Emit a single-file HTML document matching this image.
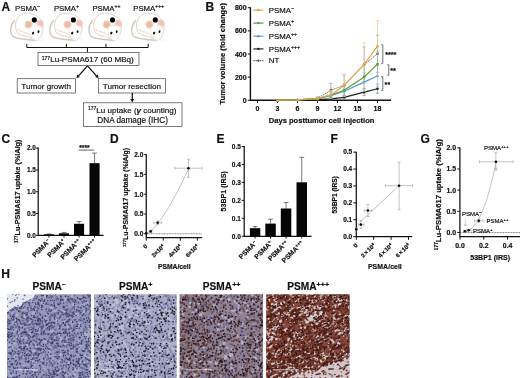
<!DOCTYPE html>
<html><head><meta charset="utf-8"><title>Figure</title>
<style>
html,body{margin:0;padding:0;background:#fff;}
body{width:520px;height:378px;overflow:hidden;}
svg{display:block;font-family:'Liberation Sans', sans-serif;will-change:transform;opacity:0.999;}
text{fill:#111;stroke:#111;stroke-width:0.18px;}
.b{font-weight:bold;}
.pl{font-weight:bold;}
.tk{font-weight:bold;}
.ax{font-weight:bold;}
</style></head><body>
<svg width="520" height="378" viewBox="0 0 520 378">
<rect width="520" height="378" fill="#fff"/>

<g id="panelA">
<text class="pl" x="1.5" y="10.6" font-size="12">A</text>
<g transform="translate(0,0)"><path d="M14.6,20.6 C10.2,24.5 9.4,32.5 13,36.6 C16.5,39.6 26,39 36,40.7" fill="none" stroke="#d3c4b8" stroke-width="1.35" stroke-linecap="round"/><path d="M16.4,31 C13.2,21.5 19,12.9 26.5,13 C33.5,13.1 39.6,16.6 42.2,22 C44,27 43,33 40,37 C36,39.4 31,38 27,36.4 C21.5,35.4 18,34.6 16.4,31 Z" fill="#fff" stroke="#e2d3c6" stroke-width="1"/><path d="M17.5,29.4 C20.5,31.6 25,32 28,33.6 C30,35 31.5,36.6 32.5,38" fill="none" stroke="#e6d3c3" stroke-width="0.9"/><circle cx="28.5" cy="24.6" r="3.5" fill="#efb9a4" stroke="#ecd6c6" stroke-width="1.1"/><ellipse cx="40.1" cy="23.6" rx="3.1" ry="3.5" fill="#f1c3b0" stroke="#ead6c8" stroke-width="1.1"/><path d="M30,27.8 C32.5,25.2 38.5,24.6 41.6,27 C43,30.5 41.6,36 37.8,40.4 C36.8,41 35.4,40.8 34.8,40 C31,37 29,31.8 30,27.8 Z" fill="#fff" stroke="#efe6de" stroke-width="0.8"/><path d="M37.6,39.4 L43.5,36.6 M37.6,40 L44.5,40 M34.6,39.6 L29.5,38.6 M34.8,40.4 L30.5,41.4" stroke="#d6d6d6" stroke-width="0.4" fill="none"/><ellipse cx="33.1" cy="33.1" rx="1.1" ry="1.45" fill="#111" transform="rotate(25 33.1 33.1)"/><ellipse cx="38.5" cy="31.6" rx="0.95" ry="1.4" fill="#111" transform="rotate(10 38.5 31.6)"/><circle cx="34.3" cy="19.9" r="2.55" fill="#000"/></g>
<text x="15.0" y="10.6" font-size="7.8">PSMA<tspan dy="-2.7" font-size="5.2">−</tspan></text>
<g transform="translate(39.1,0)"><path d="M14.6,20.6 C10.2,24.5 9.4,32.5 13,36.6 C16.5,39.6 26,39 36,40.7" fill="none" stroke="#d3c4b8" stroke-width="1.35" stroke-linecap="round"/><path d="M16.4,31 C13.2,21.5 19,12.9 26.5,13 C33.5,13.1 39.6,16.6 42.2,22 C44,27 43,33 40,37 C36,39.4 31,38 27,36.4 C21.5,35.4 18,34.6 16.4,31 Z" fill="#fff" stroke="#e2d3c6" stroke-width="1"/><path d="M17.5,29.4 C20.5,31.6 25,32 28,33.6 C30,35 31.5,36.6 32.5,38" fill="none" stroke="#e6d3c3" stroke-width="0.9"/><circle cx="28.5" cy="24.6" r="3.5" fill="#efb9a4" stroke="#ecd6c6" stroke-width="1.1"/><ellipse cx="40.1" cy="23.6" rx="3.1" ry="3.5" fill="#f1c3b0" stroke="#ead6c8" stroke-width="1.1"/><path d="M30,27.8 C32.5,25.2 38.5,24.6 41.6,27 C43,30.5 41.6,36 37.8,40.4 C36.8,41 35.4,40.8 34.8,40 C31,37 29,31.8 30,27.8 Z" fill="#fff" stroke="#efe6de" stroke-width="0.8"/><path d="M37.6,39.4 L43.5,36.6 M37.6,40 L44.5,40 M34.6,39.6 L29.5,38.6 M34.8,40.4 L30.5,41.4" stroke="#d6d6d6" stroke-width="0.4" fill="none"/><ellipse cx="33.1" cy="33.1" rx="1.1" ry="1.45" fill="#111" transform="rotate(25 33.1 33.1)"/><ellipse cx="38.5" cy="31.6" rx="0.95" ry="1.4" fill="#111" transform="rotate(10 38.5 31.6)"/><circle cx="34.3" cy="19.9" r="2.55" fill="#000"/></g>
<text x="53.9" y="10.6" font-size="7.8">PSMA<tspan dy="-2.7" font-size="5.2">+</tspan></text>
<g transform="translate(78.2,0)"><path d="M14.6,20.6 C10.2,24.5 9.4,32.5 13,36.6 C16.5,39.6 26,39 36,40.7" fill="none" stroke="#d3c4b8" stroke-width="1.35" stroke-linecap="round"/><path d="M16.4,31 C13.2,21.5 19,12.9 26.5,13 C33.5,13.1 39.6,16.6 42.2,22 C44,27 43,33 40,37 C36,39.4 31,38 27,36.4 C21.5,35.4 18,34.6 16.4,31 Z" fill="#fff" stroke="#e2d3c6" stroke-width="1"/><path d="M17.5,29.4 C20.5,31.6 25,32 28,33.6 C30,35 31.5,36.6 32.5,38" fill="none" stroke="#e6d3c3" stroke-width="0.9"/><circle cx="28.5" cy="24.6" r="3.5" fill="#efb9a4" stroke="#ecd6c6" stroke-width="1.1"/><ellipse cx="40.1" cy="23.6" rx="3.1" ry="3.5" fill="#f1c3b0" stroke="#ead6c8" stroke-width="1.1"/><path d="M30,27.8 C32.5,25.2 38.5,24.6 41.6,27 C43,30.5 41.6,36 37.8,40.4 C36.8,41 35.4,40.8 34.8,40 C31,37 29,31.8 30,27.8 Z" fill="#fff" stroke="#efe6de" stroke-width="0.8"/><path d="M37.6,39.4 L43.5,36.6 M37.6,40 L44.5,40 M34.6,39.6 L29.5,38.6 M34.8,40.4 L30.5,41.4" stroke="#d6d6d6" stroke-width="0.4" fill="none"/><ellipse cx="33.1" cy="33.1" rx="1.1" ry="1.45" fill="#111" transform="rotate(25 33.1 33.1)"/><ellipse cx="38.5" cy="31.6" rx="0.95" ry="1.4" fill="#111" transform="rotate(10 38.5 31.6)"/><circle cx="34.3" cy="19.9" r="2.55" fill="#000"/></g>
<text x="92.4" y="10.6" font-size="7.8">PSMA<tspan dy="-2.7" font-size="5.2">++</tspan></text>
<g transform="translate(121.0,0)"><path d="M14.6,20.6 C10.2,24.5 9.4,32.5 13,36.6 C16.5,39.6 26,39 36,40.7" fill="none" stroke="#d3c4b8" stroke-width="1.35" stroke-linecap="round"/><path d="M16.4,31 C13.2,21.5 19,12.9 26.5,13 C33.5,13.1 39.6,16.6 42.2,22 C44,27 43,33 40,37 C36,39.4 31,38 27,36.4 C21.5,35.4 18,34.6 16.4,31 Z" fill="#fff" stroke="#e2d3c6" stroke-width="1"/><path d="M17.5,29.4 C20.5,31.6 25,32 28,33.6 C30,35 31.5,36.6 32.5,38" fill="none" stroke="#e6d3c3" stroke-width="0.9"/><circle cx="28.5" cy="24.6" r="3.5" fill="#efb9a4" stroke="#ecd6c6" stroke-width="1.1"/><ellipse cx="40.1" cy="23.6" rx="3.1" ry="3.5" fill="#f1c3b0" stroke="#ead6c8" stroke-width="1.1"/><path d="M30,27.8 C32.5,25.2 38.5,24.6 41.6,27 C43,30.5 41.6,36 37.8,40.4 C36.8,41 35.4,40.8 34.8,40 C31,37 29,31.8 30,27.8 Z" fill="#fff" stroke="#efe6de" stroke-width="0.8"/><path d="M37.6,39.4 L43.5,36.6 M37.6,40 L44.5,40 M34.6,39.6 L29.5,38.6 M34.8,40.4 L30.5,41.4" stroke="#d6d6d6" stroke-width="0.4" fill="none"/><ellipse cx="33.1" cy="33.1" rx="1.1" ry="1.45" fill="#111" transform="rotate(25 33.1 33.1)"/><ellipse cx="38.5" cy="31.6" rx="0.95" ry="1.4" fill="#111" transform="rotate(10 38.5 31.6)"/><circle cx="34.3" cy="19.9" r="2.55" fill="#000"/></g>
<text x="133.2" y="10.6" font-size="7.8">PSMA<tspan dy="-2.7" font-size="5.2">+++</tspan></text>
<path d="M26.8,43.8 V47.5 H148.2 V43.8 M66.4,43.8 V47.5 M106,43.8 V47.5 M87.4,47.5 V52.5" fill="none" stroke="#111" stroke-width="1"/>
<rect x="38" y="52.5" width="101.0" height="13.099999999999994" fill="#fff" stroke="#444" stroke-width="0.7"/>
<text x="41.8" y="62.3" font-size="8.1"><tspan dy="-2.8" font-size="5">177</tspan><tspan dy="2.8">Lu-PSMA617 (60 MBq)</tspan></text>
<path d="M87.50,65.80 L78.53,75.82" stroke="#111" stroke-width="1.25" fill="none"/>
<path d="M76.40,78.20 L77.19,74.62 L79.88,77.02 Z" fill="#111"/>
<path d="M87.50,65.80 L96.47,75.82" stroke="#111" stroke-width="1.25" fill="none"/>
<path d="M98.60,78.20 L95.12,77.02 L97.81,74.62 Z" fill="#111"/>
<rect x="17.2" y="78.7" width="58.39999999999999" height="14.299999999999997" fill="#fff" stroke="#444" stroke-width="0.7"/>
<text x="21.3" y="88.8" font-size="8.1">Tumor growth</text>
<rect x="98.6" y="78.7" width="66.9" height="14.299999999999997" fill="#fff" stroke="#444" stroke-width="0.7"/>
<text x="102.8" y="88.8" font-size="8.1">Tumor resection</text>
<path d="M132.30,93.00 L132.30,99.00" stroke="#111" stroke-width="1.25" fill="none"/>
<path d="M132.30,102.40 L130.40,99.00 L134.20,99.00 Z" fill="#111"/>
<rect x="83.6" y="102.8" width="98.4" height="23.60000000000001" fill="#fff" stroke="#444" stroke-width="0.7"/>
<text x="88" y="112.6" font-size="8.05"><tspan dy="-2.8" font-size="5">177</tspan><tspan dy="2.8">Lu uptake (</tspan><tspan font-style="italic" font-weight="bold">γ</tspan> counting)</text>
<text x="132.6" y="123" font-size="8.2" text-anchor="middle">DNA damage (IHC)</text>
</g>
<g id="panelB">
<text class="pl" x="205.5" y="10.6" font-size="12">B</text>
<path d="M250.4,7.2 V100.3 H391" fill="none" stroke="#111" stroke-width="1.4"/>
<path d="M247.8,100.30 H250.4" stroke="#111" stroke-width="1"/>
<text class="tk" x="246.6" y="102.80" text-anchor="end" font-size="7">0</text>
<path d="M247.8,77.15 H250.4" stroke="#111" stroke-width="1"/>
<text class="tk" x="246.6" y="79.65" text-anchor="end" font-size="7">200</text>
<path d="M247.8,54.00 H250.4" stroke="#111" stroke-width="1"/>
<text class="tk" x="246.6" y="56.50" text-anchor="end" font-size="7">400</text>
<path d="M247.8,30.85 H250.4" stroke="#111" stroke-width="1"/>
<text class="tk" x="246.6" y="33.35" text-anchor="end" font-size="7">600</text>
<path d="M247.8,7.70 H250.4" stroke="#111" stroke-width="1"/>
<text class="tk" x="246.6" y="10.20" text-anchor="end" font-size="7">800</text>
<path d="M257.50,100.3 V103.1" stroke="#111" stroke-width="1"/>
<text class="tk" x="257.50" y="111.2" text-anchor="middle" font-size="7">0</text>
<path d="M277.50,100.3 V103.1" stroke="#111" stroke-width="1"/>
<text class="tk" x="277.50" y="111.2" text-anchor="middle" font-size="7">3</text>
<path d="M297.50,100.3 V103.1" stroke="#111" stroke-width="1"/>
<text class="tk" x="297.50" y="111.2" text-anchor="middle" font-size="7">6</text>
<path d="M317.50,100.3 V103.1" stroke="#111" stroke-width="1"/>
<text class="tk" x="317.50" y="111.2" text-anchor="middle" font-size="7">9</text>
<path d="M337.50,100.3 V103.1" stroke="#111" stroke-width="1"/>
<text class="tk" x="337.50" y="111.2" text-anchor="middle" font-size="7">12</text>
<path d="M357.50,100.3 V103.1" stroke="#111" stroke-width="1"/>
<text class="tk" x="357.50" y="111.2" text-anchor="middle" font-size="7">15</text>
<path d="M377.51,100.3 V103.1" stroke="#111" stroke-width="1"/>
<text class="tk" x="377.51" y="111.2" text-anchor="middle" font-size="7">18</text>
<text class="ax" x="321.6" y="123" text-anchor="middle" font-size="7.58">Days posttumor cell injection</text>
<text class="ax" transform="translate(225.4,53.8) rotate(-90)" text-anchor="middle" font-size="7.6">Tumor volume (fold change)</text>
<path d="M317.50,96.83 V99.61 M315.90,96.83 H319.10 M315.90,99.61 H319.10 M330.84,83.40 V97.29 M329.24,83.40 H332.44 M329.24,97.29 H332.44 M344.17,74.83 V95.67 M342.57,74.83 H345.77 M342.57,95.67 H345.77 M364.17,47.05 V81.78 M362.57,47.05 H365.77 M362.57,81.78 H365.77 M377.51,35.25 V72.29 M375.91,35.25 H379.11 M375.91,72.29 H379.11 " fill="none" stroke="#9a9a9a" stroke-width="0.7"/>
<polyline points="277.50,100.18 297.50,99.95 317.50,98.22 330.84,90.35 344.17,85.25 364.17,64.42 377.51,53.77" fill="none" stroke="#555555" stroke-width="1.0" stroke-dasharray="1.2,1"/>
<circle cx="277.50" cy="100.18" r="1.3" fill="#555555"/>
<circle cx="297.50" cy="99.95" r="1.3" fill="#555555"/>
<circle cx="317.50" cy="98.22" r="1.3" fill="#555555"/>
<circle cx="330.84" cy="90.35" r="1.3" fill="#555555"/>
<circle cx="344.17" cy="85.25" r="1.3" fill="#555555"/>
<circle cx="364.17" cy="64.42" r="1.3" fill="#555555"/>
<circle cx="377.51" cy="53.77" r="1.3" fill="#555555"/>
<path d="M330.84,97.98 V99.84 M329.24,97.98 H332.44 M329.24,99.84 H332.44 M344.17,95.67 V98.91 M342.57,95.67 H345.77 M342.57,98.91 H345.77 M364.17,88.72 V95.67 M362.57,88.72 H365.77 M362.57,95.67 H365.77 M377.51,84.09 V93.36 M375.91,84.09 H379.11 M375.91,93.36 H379.11 " fill="none" stroke="#8a8a8a" stroke-width="0.7"/>
<polyline points="277.50,100.18 297.50,100.07 317.50,99.61 330.84,98.91 344.17,97.29 364.17,92.20 377.51,88.72" fill="none" stroke="#222222" stroke-width="1.2"/>
<circle cx="277.50" cy="100.18" r="1.3" fill="#222222"/>
<circle cx="297.50" cy="100.07" r="1.3" fill="#222222"/>
<circle cx="317.50" cy="99.61" r="1.3" fill="#222222"/>
<circle cx="330.84" cy="98.91" r="1.3" fill="#222222"/>
<circle cx="344.17" cy="97.29" r="1.3" fill="#222222"/>
<circle cx="364.17" cy="92.20" r="1.3" fill="#222222"/>
<circle cx="377.51" cy="88.72" r="1.3" fill="#222222"/>
<path d="M317.50,97.98 V99.84 M315.90,97.98 H319.10 M315.90,99.84 H319.10 M330.84,92.78 V98.56 M329.24,92.78 H332.44 M329.24,98.56 H332.44 M344.17,86.06 V96.48 M342.57,86.06 H345.77 M342.57,96.48 H345.77 M364.17,72.87 V91.39 M362.57,72.87 H365.77 M362.57,91.39 H365.77 M377.51,65.58 V86.41 M375.91,65.58 H379.11 M375.91,86.41 H379.11 " fill="none" stroke="#9cc3e6" stroke-width="0.7"/>
<polyline points="277.50,100.18 297.50,99.95 317.50,98.91 330.84,95.67 344.17,91.27 364.17,82.13 377.51,75.99" fill="none" stroke="#5b9bd5" stroke-width="1.2"/>
<circle cx="277.50" cy="100.18" r="1.3" fill="#5b9bd5"/>
<circle cx="297.50" cy="99.95" r="1.3" fill="#5b9bd5"/>
<circle cx="317.50" cy="98.91" r="1.3" fill="#5b9bd5"/>
<circle cx="330.84" cy="95.67" r="1.3" fill="#5b9bd5"/>
<circle cx="344.17" cy="91.27" r="1.3" fill="#5b9bd5"/>
<circle cx="364.17" cy="82.13" r="1.3" fill="#5b9bd5"/>
<circle cx="377.51" cy="75.99" r="1.3" fill="#5b9bd5"/>
<path d="M317.50,97.75 V99.61 M315.90,97.75 H319.10 M315.90,99.61 H319.10 M330.84,91.50 V98.45 M329.24,91.50 H332.44 M329.24,98.45 H332.44 M344.17,83.86 V96.60 M342.57,83.86 H345.77 M342.57,96.60 H345.77 M364.17,65.34 V88.49 M362.57,65.34 H365.77 M362.57,88.49 H365.77 M377.51,51.34 V76.80 M375.91,51.34 H379.11 M375.91,76.80 H379.11 " fill="none" stroke="#9cc47f" stroke-width="0.7"/>
<polyline points="277.50,100.18 297.50,99.95 317.50,98.68 330.84,94.98 344.17,90.23 364.17,76.92 377.51,64.07" fill="none" stroke="#5a9e2f" stroke-width="1.2"/>
<circle cx="277.50" cy="100.18" r="1.3" fill="#5a9e2f"/>
<circle cx="297.50" cy="99.95" r="1.3" fill="#5a9e2f"/>
<circle cx="317.50" cy="98.68" r="1.3" fill="#5a9e2f"/>
<circle cx="330.84" cy="94.98" r="1.3" fill="#5a9e2f"/>
<circle cx="344.17" cy="90.23" r="1.3" fill="#5a9e2f"/>
<circle cx="364.17" cy="76.92" r="1.3" fill="#5a9e2f"/>
<circle cx="377.51" cy="64.07" r="1.3" fill="#5a9e2f"/>
<path d="M317.50,97.29 V98.45 M315.90,97.29 H319.10 M330.84,90.35 V94.98 M329.24,90.35 H332.44 M344.17,74.14 V85.25 M342.57,74.14 H345.77 M364.17,42.77 V64.30 M362.57,42.77 H365.77 M377.51,20.66 V46.24 M375.91,20.66 H379.11 " fill="none" stroke="#efc48f" stroke-width="0.7"/>
<polyline points="277.50,100.18 297.50,99.95 317.50,98.45 330.84,94.98 344.17,85.25 364.17,64.30 377.51,46.24" fill="none" stroke="#e8a04c" stroke-width="1.2"/>
<circle cx="277.50" cy="100.18" r="1.3" fill="#e8a04c"/>
<circle cx="297.50" cy="99.95" r="1.3" fill="#e8a04c"/>
<circle cx="317.50" cy="98.45" r="1.3" fill="#e8a04c"/>
<circle cx="330.84" cy="94.98" r="1.3" fill="#e8a04c"/>
<circle cx="344.17" cy="85.25" r="1.3" fill="#e8a04c"/>
<circle cx="364.17" cy="64.30" r="1.3" fill="#e8a04c"/>
<circle cx="377.51" cy="46.24" r="1.3" fill="#e8a04c"/>
<path d="M253.4,10.10 H263.4" stroke="#e8a04c" stroke-width="1.2"/>
<circle cx="258.4" cy="10.10" r="1.2" fill="#e8a04c"/>
<text x="268.8" y="12.80" font-size="7.8">PSMA<tspan dy="-2.7" font-size="5.2">−</tspan></text>
<path d="M253.4,23.10 H263.4" stroke="#5a9e2f" stroke-width="1.2"/>
<circle cx="258.4" cy="23.10" r="1.2" fill="#5a9e2f"/>
<text x="268.8" y="25.80" font-size="7.8">PSMA<tspan dy="-2.7" font-size="5.2">+</tspan></text>
<path d="M253.4,36.20 H263.4" stroke="#5b9bd5" stroke-width="1.2"/>
<circle cx="258.4" cy="36.20" r="1.2" fill="#5b9bd5"/>
<text x="268.8" y="38.90" font-size="7.8">PSMA<tspan dy="-2.7" font-size="5.2">++</tspan></text>
<path d="M253.4,48.90 H263.4" stroke="#222" stroke-width="1.2"/>
<circle cx="258.4" cy="48.90" r="1.2" fill="#222"/>
<text x="268.8" y="51.60" font-size="7.8">PSMA<tspan dy="-2.7" font-size="5.2">+++</tspan></text>
<path d="M253.4,60.60 H263.4" stroke="#555" stroke-width="1.2" stroke-dasharray="1.2,1"/>
<circle cx="258.4" cy="60.60" r="1.2" fill="#555"/>
<text x="268.8" y="63.30" font-size="7.8">NT</text>
<path d="M381.2,44.80 H382.8 V63.40 H381.2" fill="none" stroke="#333" stroke-width="0.7"/>
<text class="b" x="385.2" y="56.60" font-size="7.2">****</text>
<path d="M387.2,64.80 H388.8 V75.20 H387.2" fill="none" stroke="#333" stroke-width="0.7"/>
<text class="b" x="390.2" y="73.40" font-size="7.2">**</text>
<path d="M381.2,76.60 H382.8 V90.40 H381.2" fill="none" stroke="#333" stroke-width="0.7"/>
<text class="b" x="384.6" y="86.90" font-size="7.2">**</text>
</g>
<g id="panelC">
<text class="pl" x="1.6" y="142.6" font-size="12">C</text>
<path d="M38.2,147.60 V235.3 H103.6" fill="none" stroke="#111" stroke-width="1.25"/>
<path d="M36.10,235.30 H38.2" stroke="#111" stroke-width="1.0"/>
<text class="tk" x="35.80" y="237.60" text-anchor="end" font-size="6.4">0.0</text>
<path d="M36.10,213.50 H38.2" stroke="#111" stroke-width="1.0"/>
<text class="tk" x="35.80" y="215.80" text-anchor="end" font-size="6.4">0.5</text>
<path d="M36.10,191.70 H38.2" stroke="#111" stroke-width="1.0"/>
<text class="tk" x="35.80" y="194.00" text-anchor="end" font-size="6.4">1.0</text>
<path d="M36.10,169.90 H38.2" stroke="#111" stroke-width="1.0"/>
<text class="tk" x="35.80" y="172.20" text-anchor="end" font-size="6.4">1.5</text>
<path d="M36.10,148.10 H38.2" stroke="#111" stroke-width="1.0"/>
<text class="tk" x="35.80" y="150.40" text-anchor="end" font-size="6.4">2.0</text>
<path d="M48.90,234.30 V233.95 M46.50,233.95 H51.30" stroke="#333" stroke-width="0.65" fill="none"/>
<rect x="43.9" y="234.30" width="10.00" height="1.30" fill="#060606"/>
<path d="M48.90,235.3 v2.3" stroke="#111" stroke-width="1.0"/>
<path d="M64.00,233.29 V232.42 M61.60,232.42 H66.40" stroke="#333" stroke-width="0.65" fill="none"/>
<rect x="59" y="233.29" width="10.00" height="2.31" fill="#060606"/>
<path d="M64.00,235.3 v2.3" stroke="#111" stroke-width="1.0"/>
<path d="M79.05,223.79 V221.61 M76.65,221.61 H81.45" stroke="#333" stroke-width="0.65" fill="none"/>
<rect x="74" y="223.79" width="10.10" height="11.81" fill="#060606"/>
<path d="M79.05,235.3 v2.3" stroke="#111" stroke-width="1.0"/>
<path d="M94.55,163.19 V153.07 M92.15,153.07 H96.95" stroke="#333" stroke-width="0.65" fill="none"/>
<rect x="89.5" y="163.19" width="10.10" height="72.41" fill="#060606"/>
<path d="M94.55,235.3 v2.3" stroke="#111" stroke-width="1.0"/>
<text class="tk" transform="translate(50.70,242.00) rotate(-45)" text-anchor="end" font-size="6.8">PSMA<tspan dy="-2.2" font-size="4.6">−</tspan></text>
<text class="tk" transform="translate(65.80,242.00) rotate(-45)" text-anchor="end" font-size="6.8">PSMA<tspan dy="-2.2" font-size="4.6">+</tspan></text>
<text class="tk" transform="translate(80.85,242.00) rotate(-45)" text-anchor="end" font-size="6.8">PSMA<tspan dy="-2.2" font-size="4.6">++</tspan></text>
<text class="tk" transform="translate(96.35,242.00) rotate(-45)" text-anchor="end" font-size="6.8">PSMA<tspan dy="-2.2" font-size="4.6">+++</tspan></text>
<path d="M78.5,150.1 H94.2" stroke="#333" stroke-width="0.75"/>
<text class="b" x="84.4" y="150.4" text-anchor="middle" font-size="6.5">****</text>
<text class="ax" transform="translate(20.2,191.3) rotate(-90)" text-anchor="middle" font-size="7.2"><tspan dy="-2.59" font-size="4.46">177</tspan><tspan dy="2.59">Lu-PSMA617 uptake (%IA/g)</tspan></text>
</g>
<g id="panelD">
<text class="pl" x="110" y="142.8" font-size="12">D</text>
<path d="M146.25,233.8 H202.2" stroke="#8c8c8c" stroke-width="1.05" stroke-dasharray="1.1,0.5"/>
<path d="M146.25,154.10 V237.7 H202.2" fill="none" stroke="#111" stroke-width="1.25"/>
<path d="M144.15,233.80 H146.25" stroke="#111" stroke-width="1.0"/>
<text class="tk" x="143.35" y="236.18" text-anchor="end" font-size="6.6">0.0</text>
<path d="M144.15,214.00 H146.25" stroke="#111" stroke-width="1.0"/>
<text class="tk" x="143.35" y="216.38" text-anchor="end" font-size="6.6">0.5</text>
<path d="M144.15,194.20 H146.25" stroke="#111" stroke-width="1.0"/>
<text class="tk" x="143.35" y="196.58" text-anchor="end" font-size="6.6">1.0</text>
<path d="M144.15,174.40 H146.25" stroke="#111" stroke-width="1.0"/>
<text class="tk" x="143.35" y="176.78" text-anchor="end" font-size="6.6">1.5</text>
<path d="M144.15,154.60 H146.25" stroke="#111" stroke-width="1.0"/>
<text class="tk" x="143.35" y="156.98" text-anchor="end" font-size="6.6">2.0</text>
<path d="M146.25,237.7 v3" stroke="#111" stroke-width="1.0"/>
<path d="M163.27,237.7 v3" stroke="#111" stroke-width="1.0"/>
<path d="M180.29,237.7 v3" stroke="#111" stroke-width="1.0"/>
<path d="M197.31,237.7 v3" stroke="#111" stroke-width="1.0"/>
<text class="tk" transform="translate(147.85,246.80) rotate(-45)" text-anchor="end" font-size="5.9">0</text>
<text class="tk" transform="translate(164.87,246.80) rotate(-45)" text-anchor="end" font-size="5.9">2×10<tspan dy="-1.9" font-size="3.9">4</tspan></text>
<text class="tk" transform="translate(181.89,246.80) rotate(-45)" text-anchor="end" font-size="5.9">4×10<tspan dy="-1.9" font-size="3.9">4</tspan></text>
<text class="tk" transform="translate(198.91,246.80) rotate(-45)" text-anchor="end" font-size="5.9">6×10<tspan dy="-1.9" font-size="3.9">4</tspan></text>
<polyline points="146.25,233.21 147.31,232.90 148.36,232.36 149.42,231.69 150.48,230.91 151.54,230.03 152.59,229.07 153.65,228.03 154.71,226.93 155.77,225.76 156.82,224.53 157.88,223.24 158.94,221.90 160.00,220.51 161.05,219.07 162.11,217.58 163.17,216.05 164.23,214.47 165.28,212.85 166.34,211.19 167.40,209.49 168.45,207.75 169.51,205.98 170.57,204.16 171.63,202.31 172.68,200.43 173.74,198.51 174.80,196.56 175.86,194.58 176.91,192.56 177.97,190.51 179.03,188.43 180.09,186.32 181.14,184.18 182.20,182.02 183.26,179.82 184.32,177.59 185.37,175.34 186.43,173.06 187.49,170.75 188.54,168.41" fill="none" stroke="#9e9e9e" stroke-width="0.65"/>
<circle cx="146.25" cy="233.20" r="1.3" fill="#0a0a0a"/>
<path d="M149.40,231.40 H152.00 M149.40,229.90 v3.0 M152.00,229.90 v3.0 " fill="none" stroke="#9a9a9a" stroke-width="0.6"/>
<circle cx="150.70" cy="231.40" r="1.3" fill="#0a0a0a"/>
<path d="M153.70,222.80 H161.70 M153.70,221.30 v3.0 M161.70,221.30 v3.0 M157.70,221.00 V224.60 M156.20,221.00 h3.0 M156.20,224.60 h3.0 " fill="none" stroke="#9a9a9a" stroke-width="0.6"/>
<circle cx="157.70" cy="222.80" r="1.3" fill="#0a0a0a"/>
<path d="M174.80,168.20 H202.00 M174.80,166.70 v3.0 M202.00,166.70 v3.0 M188.50,159.20 V177.30 M187.00,159.20 h3.0 M187.00,177.30 h3.0 " fill="none" stroke="#9a9a9a" stroke-width="0.6"/>
<circle cx="188.50" cy="168.20" r="1.3" fill="#0a0a0a"/>
<text class="ax" x="174.2" y="269.2" text-anchor="middle" font-size="6.75">PSMA/cell</text>
<text class="ax" transform="translate(128.1,197.5) rotate(-90)" text-anchor="middle" font-size="6.9"><tspan dy="-2.48" font-size="4.28">177</tspan><tspan dy="2.48">Lu-PSMA617 uptake (%IA/g)</tspan></text>
</g>
<g id="panelE">
<text class="pl" x="216.6" y="142.8" font-size="12">E</text>
<path d="M244.2,146.00 V236.25 H311.5" fill="none" stroke="#111" stroke-width="1.25"/>
<path d="M241.80,236.25 H244.2" stroke="#111" stroke-width="1.0"/>
<text class="tk" x="240.90" y="238.59" text-anchor="end" font-size="6.5">0.0</text>
<path d="M241.80,218.30 H244.2" stroke="#111" stroke-width="1.0"/>
<text class="tk" x="240.90" y="220.64" text-anchor="end" font-size="6.5">0.1</text>
<path d="M241.80,200.35 H244.2" stroke="#111" stroke-width="1.0"/>
<text class="tk" x="240.90" y="202.69" text-anchor="end" font-size="6.5">0.2</text>
<path d="M241.80,182.40 H244.2" stroke="#111" stroke-width="1.0"/>
<text class="tk" x="240.90" y="184.74" text-anchor="end" font-size="6.5">0.3</text>
<path d="M241.80,164.45 H244.2" stroke="#111" stroke-width="1.0"/>
<text class="tk" x="240.90" y="166.79" text-anchor="end" font-size="6.5">0.4</text>
<path d="M241.80,146.50 H244.2" stroke="#111" stroke-width="1.0"/>
<text class="tk" x="240.90" y="148.84" text-anchor="end" font-size="6.5">0.5</text>
<path d="M255.10,228.17 V226.56 M252.70,226.56 H257.50" stroke="#333" stroke-width="0.65" fill="none"/>
<rect x="249.9" y="228.17" width="10.40" height="8.38" fill="#060606"/>
<path d="M255.10,236.25 v2.3" stroke="#111" stroke-width="1.0"/>
<path d="M270.55,223.60 V219.20 M268.15,219.20 H272.95" stroke="#333" stroke-width="0.65" fill="none"/>
<rect x="265.3" y="223.60" width="10.50" height="12.95" fill="#060606"/>
<path d="M270.55,236.25 v2.3" stroke="#111" stroke-width="1.0"/>
<path d="M286.05,208.50 V202.58 M283.65,202.58 H288.45" stroke="#333" stroke-width="0.65" fill="none"/>
<rect x="280.8" y="208.50" width="10.50" height="28.05" fill="#060606"/>
<path d="M286.05,236.25 v2.3" stroke="#111" stroke-width="1.0"/>
<path d="M301.75,182.29 V157.34 M299.35,157.34 H304.15" stroke="#333" stroke-width="0.65" fill="none"/>
<rect x="296.5" y="182.29" width="10.50" height="54.26" fill="#060606"/>
<path d="M301.75,236.25 v2.3" stroke="#111" stroke-width="1.0"/>
<text class="tk" transform="translate(257.40,243.60) rotate(-45)" text-anchor="end" font-size="6.8">PSMA<tspan dy="-2.2" font-size="4.6">−</tspan></text>
<text class="tk" transform="translate(272.85,243.60) rotate(-45)" text-anchor="end" font-size="6.8">PSMA<tspan dy="-2.2" font-size="4.6">+</tspan></text>
<text class="tk" transform="translate(288.35,243.60) rotate(-45)" text-anchor="end" font-size="6.8">PSMA<tspan dy="-2.2" font-size="4.6">++</tspan></text>
<text class="tk" transform="translate(304.05,243.60) rotate(-45)" text-anchor="end" font-size="6.8">PSMA<tspan dy="-2.2" font-size="4.6">+++</tspan></text>
<text class="ax" transform="translate(226.2,191.3) rotate(-90)" text-anchor="middle" font-size="7.1">53BP1 (IRS)</text>
</g>
<g id="panelF">
<text class="pl" x="330.6" y="142.8" font-size="12">F</text>
<path d="M356.3,151.65 V236.65 H412.2" fill="none" stroke="#111" stroke-width="1.25"/>
<path d="M353.30,236.65 H356.3" stroke="#111" stroke-width="1.0"/>
<text class="tk" x="352.20" y="238.99" text-anchor="end" font-size="6.5">0.0</text>
<path d="M353.30,219.75 H356.3" stroke="#111" stroke-width="1.0"/>
<text class="tk" x="352.20" y="222.09" text-anchor="end" font-size="6.5">0.1</text>
<path d="M353.30,202.85 H356.3" stroke="#111" stroke-width="1.0"/>
<text class="tk" x="352.20" y="205.19" text-anchor="end" font-size="6.5">0.2</text>
<path d="M353.30,185.95 H356.3" stroke="#111" stroke-width="1.0"/>
<text class="tk" x="352.20" y="188.29" text-anchor="end" font-size="6.5">0.3</text>
<path d="M353.30,169.05 H356.3" stroke="#111" stroke-width="1.0"/>
<text class="tk" x="352.20" y="171.39" text-anchor="end" font-size="6.5">0.4</text>
<path d="M353.30,152.15 H356.3" stroke="#111" stroke-width="1.0"/>
<text class="tk" x="352.20" y="154.49" text-anchor="end" font-size="6.5">0.5</text>
<path d="M356.30,236.65 v3.2" stroke="#111" stroke-width="1.0"/>
<path d="M373.70,236.65 v3.2" stroke="#111" stroke-width="1.0"/>
<path d="M391.10,236.65 v3.2" stroke="#111" stroke-width="1.0"/>
<path d="M408.50,236.65 v3.2" stroke="#111" stroke-width="1.0"/>
<text class="tk" transform="translate(358.10,245.80) rotate(-45)" text-anchor="end" font-size="5.9" word-spacing="-0.7">0</text>
<text class="tk" transform="translate(375.50,245.80) rotate(-45)" text-anchor="end" font-size="5.9" word-spacing="-0.7">2 × 10<tspan dy="-1.9" font-size="3.9">4</tspan></text>
<text class="tk" transform="translate(392.90,245.80) rotate(-45)" text-anchor="end" font-size="5.9" word-spacing="-0.7">4 × 10<tspan dy="-1.9" font-size="3.9">4</tspan></text>
<text class="tk" transform="translate(410.30,245.80) rotate(-45)" text-anchor="end" font-size="5.9" word-spacing="-0.7">6 × 10<tspan dy="-1.9" font-size="3.9">4</tspan></text>
<path d="M359.6,222.4 L399.1,185.7" stroke="#9e9e9e" stroke-width="0.65"/>
<path d="M356.30,227.80 V230.60 M354.80,227.80 h3.0 M354.80,230.60 h3.0 " fill="none" stroke="#9a9a9a" stroke-width="0.6"/>
<circle cx="356.30" cy="229.20" r="1.3" fill="#0a0a0a"/>
<path d="M358.30,224.60 H363.90 M358.30,223.10 v3.0 M363.90,223.10 v3.0 M360.90,220.60 V228.60 M359.40,220.60 h3.0 M359.40,228.60 h3.0 " fill="none" stroke="#9a9a9a" stroke-width="0.6"/>
<circle cx="360.90" cy="224.60" r="1.3" fill="#0a0a0a"/>
<path d="M364.30,210.50 H371.80 M364.30,209.00 v3.0 M371.80,209.00 v3.0 M367.90,204.50 V216.50 M366.40,204.50 h3.0 M366.40,216.50 h3.0 " fill="none" stroke="#9a9a9a" stroke-width="0.6"/>
<circle cx="367.90" cy="210.50" r="1.3" fill="#0a0a0a"/>
<path d="M385.40,185.70 H412.60 M385.40,184.20 v3.0 M412.60,184.20 v3.0 M399.10,162.20 V209.70 M397.60,162.20 h3.0 M397.60,209.70 h3.0 " fill="none" stroke="#9a9a9a" stroke-width="0.6"/>
<circle cx="399.10" cy="185.70" r="1.3" fill="#0a0a0a"/>
<text class="ax" x="384.9" y="269.3" text-anchor="middle" font-size="6.9" word-spacing="-1.2">PSMA /cell</text>
<text class="ax" transform="translate(337.4,194.9) rotate(-90)" text-anchor="middle" font-size="6.6">53BP1 (IRS)</text>
</g>
<g id="panelG">
<text class="pl" x="420.6" y="142.8" font-size="12">G</text>
<path d="M459.9,232.45 H520" stroke="#8c8c8c" stroke-width="1.05" stroke-dasharray="1.1,0.5"/>
<path d="M459.9,147.35 V236.65 H520" fill="none" stroke="#111" stroke-width="1.25"/>
<path d="M457.30,232.45 H459.9" stroke="#111" stroke-width="1.0"/>
<text class="tk" x="456.10" y="234.93" text-anchor="end" font-size="6.9">0.0</text>
<path d="M457.30,211.30 H459.9" stroke="#111" stroke-width="1.0"/>
<text class="tk" x="456.10" y="213.78" text-anchor="end" font-size="6.9">0.5</text>
<path d="M457.30,190.15 H459.9" stroke="#111" stroke-width="1.0"/>
<text class="tk" x="456.10" y="192.63" text-anchor="end" font-size="6.9">1.0</text>
<path d="M457.30,169.00 H459.9" stroke="#111" stroke-width="1.0"/>
<text class="tk" x="456.10" y="171.48" text-anchor="end" font-size="6.9">1.5</text>
<path d="M457.30,147.85 H459.9" stroke="#111" stroke-width="1.0"/>
<text class="tk" x="456.10" y="150.33" text-anchor="end" font-size="6.9">2.0</text>
<path d="M460.00,236.65 v3" stroke="#111" stroke-width="1.0"/>
<text class="tk" x="460.00" y="247.7" text-anchor="middle" font-size="6.9">0.0</text>
<path d="M483.80,236.65 v3" stroke="#111" stroke-width="1.0"/>
<text class="tk" x="483.80" y="247.7" text-anchor="middle" font-size="6.9">0.2</text>
<path d="M507.60,236.65 v3" stroke="#111" stroke-width="1.0"/>
<text class="tk" x="507.60" y="247.7" text-anchor="middle" font-size="6.9">0.4</text>
<polyline points="464.88,231.98 465.65,231.77 466.43,231.51 467.21,231.20 467.98,230.83 468.76,230.41 469.53,229.93 470.31,229.39 471.08,228.78 471.86,228.10 472.63,227.35 473.41,226.54 474.19,225.64 474.96,224.67 475.74,223.63 476.51,222.50 477.29,221.29 478.06,219.99 478.84,218.61 479.62,217.15 480.39,215.59 481.17,213.94 481.94,212.20 482.72,210.36 483.49,208.42 484.27,206.39 485.04,204.26 485.82,202.03 486.60,199.69 487.37,197.25 488.15,194.70 488.92,192.05 489.70,189.28 490.47,186.41 491.25,183.42 492.02,180.32 492.80,177.11 493.58,173.78 494.35,170.33 495.13,166.77 495.90,163.08" fill="none" stroke="#9e9e9e" stroke-width="0.65"/>
<path d="M464.00,231.20 H465.80 M464.00,229.70 v3.0 M465.80,229.70 v3.0 " fill="none" stroke="#9a9a9a" stroke-width="0.6"/>
<circle cx="464.90" cy="231.20" r="1.3" fill="#0a0a0a"/>
<path d="M466.20,230.20 H471.20 M466.20,228.70 v3.0 M471.20,228.70 v3.0 " fill="none" stroke="#9a9a9a" stroke-width="0.6"/>
<circle cx="468.70" cy="230.20" r="1.3" fill="#0a0a0a"/>
<path d="M474.40,220.80 H483.00 M474.40,219.30 v3.0 M483.00,219.30 v3.0 M478.80,219.00 V222.60 M477.30,219.00 h3.0 M477.30,222.60 h3.0 " fill="none" stroke="#9a9a9a" stroke-width="0.6"/>
<circle cx="478.80" cy="220.80" r="1.3" fill="#0a0a0a"/>
<path d="M479.40,161.80 H513.20 M479.40,160.30 v3.0 M513.20,160.30 v3.0 M495.90,152.70 V169.00 M494.40,152.70 h3.0 M494.40,169.00 h3.0 " fill="none" stroke="#9a9a9a" stroke-width="0.6"/>
<circle cx="495.90" cy="161.80" r="1.3" fill="#0a0a0a"/>
<text x="484" y="150.1" font-size="6.0" fill="#111">PSMA<tspan dy="-2" font-size="4.4">+++</tspan></text>
<text x="461.9" y="215.7" font-size="6.0" fill="#111">PSMA<tspan dy="-2" font-size="4.4">−</tspan></text>
<text x="486.4" y="222.8" font-size="6.0" fill="#111">PSMA<tspan dy="-2" font-size="4.4">++</tspan></text>
<text x="472.9" y="232.8" font-size="6.0" fill="#111">PSMA<tspan dy="-2" font-size="4.4">+</tspan></text>
<path d="M465.30,219.20 L465.30,224.40" stroke="#b0b0b0" stroke-width="0.55" fill="none"/>
<path d="M465.30,227.00 L464.00,224.40 L466.60,224.40 Z" fill="#b0b0b0"/>
<path d="M495.90,166.50 L495.90,169.00" stroke="#b8b8b8" stroke-width="0.55" fill="none"/>
<path d="M495.90,171.60 L494.50,169.00 L497.30,169.00 Z" fill="#b8b8b8"/>
<text class="ax" x="490.2" y="260.2" text-anchor="middle" font-size="7.05">53BP1 (IRS)</text>
<text class="ax" transform="translate(441.0,194.7) rotate(-90)" text-anchor="middle" font-size="7.72"><tspan dy="-2.78" font-size="4.79">177</tspan><tspan dy="2.78">Lu-PSMA617 uptake (%IA/g)</tspan></text>
</g>
<g id="panelH">
<text class="pl" x="1.2" y="278.2" font-size="12">H</text>
<text class="b" x="49.3" y="290.3" text-anchor="middle" font-size="10.15">PSMA<tspan dy="-2.9" font-size="7.2">−</tspan></text>
<text class="b" x="135.7" y="290.3" text-anchor="middle" font-size="10.15">PSMA<tspan dy="-2.9" font-size="7.2">+</tspan></text>
<text class="b" x="221.7" y="290.3" text-anchor="middle" font-size="10.15">PSMA<tspan dy="-2.9" font-size="7.2">++</tspan></text>
<text class="b" x="308.2" y="290.3" text-anchor="middle" font-size="10.15">PSMA<tspan dy="-2.9" font-size="7.2">+++</tspan></text>
<defs>
<clipPath id="hc0"><rect x="7.0" y="294.2" width="84.00" height="84.30"/></clipPath>
<clipPath id="hc1"><rect x="94.0" y="294.2" width="82.70" height="84.30"/></clipPath>
<clipPath id="hc2"><rect x="179.6" y="294.2" width="83.50" height="84.30"/></clipPath>
<clipPath id="hc3"><rect x="266.1" y="294.2" width="83.60" height="84.30"/></clipPath>
<filter id="hb" x="-5%" y="-5%" width="110%" height="110%"><feGaussianBlur stdDeviation="0.45"/></filter>
<linearGradient id="g3" x1="0" y1="0" x2="1" y2="0"><stop offset="0" stop-color="#7a5448" stop-opacity="0.42"/><stop offset="0.55" stop-color="#7a5448" stop-opacity="0.12"/><stop offset="1" stop-color="#7a5448" stop-opacity="0.2"/></linearGradient>
</defs>
<g clip-path="url(#hc0)"><g filter="url(#hb)">
<rect x="5.0" y="292.2" width="88.00" height="88.5" fill="#9597b8"/>
<path d="M45.0,341.4h0M84.6,333.5h0M49.7,343.7h0M22.5,337.4h0M59.9,361.0h0M14.9,319.8h0M14.6,362.5h0M65.2,297.7h0M89.5,375.5h0M61.9,346.1h0M20.2,295.5h0M51.4,299.2h0M23.0,314.6h0M9.5,333.3h0M44.0,365.2h0M50.6,348.2h0M49.0,350.0h0M45.4,317.6h0M90.8,378.1h0M77.6,353.9h0M33.5,313.6h0M31.3,300.1h0M71.4,328.0h0M78.1,326.8h0M87.5,365.6h0M7.0,311.9h0M83.5,333.8h0M89.4,327.7h0M13.1,347.3h0M72.4,316.9h0M14.3,322.2h0M88.0,358.1h0M16.9,315.0h0M15.5,299.2h0M73.9,309.2h0M54.0,331.9h0M23.0,355.9h0M18.0,348.5h0M16.8,329.7h0M24.9,316.9h0M88.6,361.9h0M32.5,368.8h0M24.7,327.4h0M78.8,348.3h0M15.4,377.6h0M24.9,316.0h0M71.9,321.9h0M31.9,300.4h0M14.6,343.3h0M27.4,344.9h0M38.2,332.4h0M87.6,335.0h0M55.3,367.2h0M22.4,307.2h0M83.3,363.1h0M28.0,310.2h0M69.1,373.5h0M23.5,374.3h0M81.1,345.1h0M42.4,303.0h0M10.3,375.4h0M27.0,353.6h0M28.6,363.6h0M57.1,318.9h0M21.7,354.9h0M12.8,313.5h0M54.0,366.1h0M58.6,317.8h0M84.1,311.4h0M8.4,316.9h0M44.4,299.3h0M21.8,325.3h0M55.1,305.3h0M37.4,369.3h0M89.4,349.6h0M65.1,343.5h0M18.8,297.2h0M8.5,370.9h0M65.9,375.4h0M8.8,347.8h0M47.5,355.8h0M33.8,378.4h0M13.3,340.2h0M68.9,370.1h0M68.9,353.5h0M73.6,371.3h0M36.6,352.0h0M82.7,367.6h0M42.0,360.8h0M79.5,342.5h0M59.5,326.4h0M55.9,345.5h0M13.7,348.1h0M90.4,368.4h0M68.2,326.9h0M68.7,343.2h0M44.0,364.9h0M14.0,357.4h0M9.5,344.9h0M47.4,313.6h0M65.7,336.1h0M58.6,371.8h0M28.5,295.2h0M32.3,351.4h0M24.0,308.5h0M83.1,349.8h0M44.1,369.4h0M34.5,350.3h0M23.7,330.5h0M74.7,371.3h0M80.9,326.6h0M56.0,320.9h0M18.4,336.1h0M77.3,365.7h0M66.7,374.3h0M30.3,308.5h0M44.9,317.4h0M25.0,329.1h0M59.6,335.8h0M33.5,364.9h0M89.5,332.3h0M13.3,296.9h0M80.3,297.7h0M66.5,342.3h0M33.0,360.9h0M8.6,305.7h0M45.2,296.3h0M76.7,314.2h0M18.8,298.2h0M59.9,331.8h0M59.9,349.4h0M74.8,375.0h0M64.5,311.0h0M46.9,309.3h0M7.9,334.0h0M67.0,309.3h0M29.9,323.3h0M65.6,338.1h0M58.6,357.9h0M40.1,361.0h0M83.1,301.6h0M85.3,355.1h0M17.9,332.4h0M59.5,370.9h0M38.7,342.2h0M80.9,361.4h0M86.3,333.3h0M61.7,311.5h0M67.6,363.2h0M60.9,354.7h0M24.9,370.1h0M89.4,376.6h0M52.1,360.9h0M33.9,370.9h0M78.9,323.6h0M14.0,331.4h0M53.2,359.0h0M47.9,296.6h0M75.0,299.6h0M74.2,308.8h0M35.1,360.6h0M18.8,306.7h0M50.4,355.2h0M77.6,352.3h0M86.4,335.7h0M86.7,301.5h0M25.6,338.6h0M31.4,355.6h0M60.7,338.3h0M77.9,341.4h0M33.2,326.3h0M78.0,370.1h0M24.5,365.9h0M88.3,338.4h0M55.1,311.1h0M52.0,336.6h0M57.8,296.5h0M88.4,337.7h0M40.6,361.7h0M54.3,335.6h0M65.0,299.8h0M52.3,329.1h0M87.4,372.0h0M29.6,334.1h0M17.7,330.8h0M75.5,370.1h0M47.0,320.9h0M23.1,346.3h0M84.7,305.1h0M72.5,296.1h0M23.3,313.4h0M64.7,321.4h0M36.8,346.4h0M15.8,355.8h0M17.3,337.2h0M28.0,310.9h0M51.5,331.0h0M38.6,329.0h0M51.5,307.7h0M24.2,347.4h0M60.6,338.8h0M78.5,345.8h0M79.0,313.8h0M69.2,362.5h0M82.8,320.8h0M33.5,372.0h0M25.3,378.4h0M81.6,305.5h0M27.1,355.5h0M28.8,302.4h0M76.9,329.7h0M73.4,304.8h0M40.8,352.0h0M8.5,311.1h0M64.3,371.0h0M88.3,303.9h0M49.5,358.1h0M49.2,352.0h0M22.9,300.1h0M15.9,297.4h0M53.3,337.6h0M54.8,306.6h0M22.5,311.4h0M77.6,377.7h0M84.9,302.2h0M12.2,374.4h0M45.8,358.7h0M34.5,333.6h0M50.3,330.5h0M57.5,295.3h0" stroke="#b3b5cf" stroke-width="3.0" stroke-linecap="round" fill="none" stroke-opacity="0.8"/>
<path d="M65.9,365.4h0M22.2,332.5h0M69.1,328.4h0M23.4,308.1h0M50.1,295.5h0M82.0,361.8h0M66.2,366.8h0M59.9,328.3h0M57.4,336.7h0M89.5,362.0h0M28.7,371.0h0M69.5,359.8h0M75.4,328.4h0M82.3,368.4h0M65.4,358.9h0M71.3,328.4h0M67.7,300.1h0M35.7,333.7h0M7.9,324.2h0M60.7,346.8h0M26.5,373.8h0M63.0,322.7h0M62.4,342.2h0M51.8,327.0h0M91.0,348.3h0M65.9,358.4h0M89.3,296.1h0M58.7,356.5h0M28.6,328.1h0M11.2,310.7h0M38.6,302.5h0M28.1,370.5h0M53.2,337.0h0M88.2,342.1h0M90.6,348.0h0M75.0,300.6h0M57.2,358.2h0M10.8,372.6h0M20.4,334.0h0M21.2,336.0h0M58.3,299.1h0M86.4,329.7h0M51.2,344.6h0M37.7,318.3h0M62.0,341.5h0M30.8,354.6h0M31.9,295.4h0M27.6,297.8h0M20.2,357.8h0M39.8,369.9h0M69.9,298.4h0M90.1,373.8h0M13.2,370.5h0M43.1,334.5h0M88.7,314.7h0M51.0,373.2h0M67.7,333.7h0M89.2,363.0h0M57.7,303.9h0M59.4,332.6h0M24.1,298.6h0M51.4,304.7h0M44.2,350.5h0M45.3,316.3h0M55.9,329.6h0M72.3,338.9h0M90.8,374.5h0M68.7,314.3h0M16.6,369.5h0M72.9,346.9h0M37.2,317.1h0M64.5,341.8h0M56.7,347.6h0M70.3,310.2h0M27.9,376.8h0M83.9,368.3h0M10.3,299.3h0M29.8,330.0h0M59.4,302.8h0M52.5,300.3h0M14.3,351.2h0M53.3,347.4h0M38.3,334.5h0M24.7,323.2h0M69.6,364.9h0M13.2,304.3h0M75.0,346.8h0M71.6,312.2h0M42.6,316.0h0M75.0,325.3h0M61.9,377.6h0M34.3,340.4h0M69.7,371.8h0M42.9,325.3h0M15.1,368.0h0M13.6,301.2h0M54.4,335.1h0M64.6,319.4h0M72.1,300.6h0M24.9,350.0h0M13.9,319.8h0M67.9,352.7h0M30.8,306.2h0M37.1,355.4h0M37.8,304.1h0M66.6,342.2h0M84.2,373.4h0M83.7,331.1h0M74.5,319.9h0M33.7,327.9h0M85.5,369.6h0M27.9,324.7h0M37.7,324.8h0M40.2,326.9h0M23.4,341.7h0M74.0,339.8h0M77.3,341.6h0M21.8,358.2h0M81.0,317.9h0M8.9,337.7h0M52.7,342.0h0M88.2,349.1h0M74.6,299.6h0M52.9,360.6h0M14.1,301.1h0M68.9,370.0h0M14.1,347.7h0M19.1,357.1h0M61.5,314.9h0M25.5,358.7h0M50.8,358.7h0M40.1,322.7h0M88.3,350.9h0M48.5,339.5h0M67.6,353.9h0M83.9,328.8h0M76.4,350.4h0M78.7,362.1h0M77.0,369.1h0M87.5,348.2h0M51.0,354.1h0M74.4,329.7h0M42.3,306.5h0M69.3,377.7h0M38.5,308.3h0M24.2,330.0h0M31.5,376.0h0M12.0,320.2h0M16.6,348.8h0M72.2,309.3h0M12.2,332.9h0M56.1,370.9h0M10.1,303.4h0M22.5,312.5h0M26.8,354.7h0M57.0,313.1h0M22.5,317.9h0M21.5,358.1h0M33.2,340.4h0M75.6,334.6h0M28.9,369.0h0M83.8,323.0h0M53.0,374.9h0M47.5,312.8h0M11.2,374.1h0M74.3,326.7h0M51.3,337.7h0M30.1,377.7h0M62.2,314.2h0M7.9,334.0h0M38.2,361.4h0M66.9,345.3h0M20.2,307.4h0M34.0,316.1h0M80.0,337.7h0M60.5,377.9h0M29.4,339.3h0M19.7,359.1h0M7.1,363.4h0M78.1,363.5h0M13.9,317.0h0M67.2,302.4h0M47.3,333.7h0M87.3,343.7h0M79.0,319.8h0M73.3,329.4h0M84.0,301.9h0M76.4,311.8h0M52.6,338.5h0M20.2,364.3h0M33.2,320.4h0M13.4,320.0h0M46.2,354.5h0M37.2,352.1h0M15.9,327.4h0M45.8,375.7h0M76.7,349.3h0M8.0,326.0h0M66.6,314.2h0M54.4,332.8h0M7.9,377.8h0M74.2,311.6h0M58.7,318.7h0M38.6,339.7h0M32.0,322.6h0M39.9,350.4h0M28.5,311.1h0M68.4,322.0h0M86.4,341.6h0M67.8,322.2h0M76.5,302.0h0M18.8,302.2h0M63.9,353.9h0M22.1,328.1h0M77.3,344.2h0M14.6,313.3h0M20.2,304.7h0M41.2,300.3h0M84.3,330.2h0M50.0,348.8h0M71.4,363.4h0M39.4,322.1h0M41.6,295.5h0M40.7,353.2h0M89.5,360.8h0M62.5,345.5h0M8.6,322.1h0M35.7,349.1h0M15.9,326.0h0M49.8,360.7h0M76.3,345.7h0M20.3,358.8h0M82.9,340.4h0M36.6,336.4h0M18.9,354.3h0M89.9,337.7h0M67.1,364.6h0M23.6,373.9h0M59.7,310.9h0M14.0,314.8h0M55.4,353.0h0M34.7,372.5h0M37.3,333.2h0M17.4,376.3h0M18.4,370.4h0M52.6,341.5h0M54.1,316.5h0M83.4,377.8h0M75.7,344.9h0M17.3,363.7h0M31.2,369.8h0M27.2,342.6h0M76.8,309.8h0M53.0,300.6h0M9.7,309.4h0M89.9,373.4h0M62.3,320.1h0M63.4,356.4h0M39.1,344.1h0M74.5,295.6h0M23.8,333.7h0M19.0,326.8h0M54.8,308.8h0M50.7,316.4h0M54.7,322.2h0M60.9,297.4h0M63.4,306.4h0M87.6,344.8h0M46.5,328.9h0M59.4,352.3h0M70.7,357.6h0M47.8,378.0h0M77.4,366.3h0M41.4,330.8h0M54.5,370.5h0M51.2,338.5h0M43.3,370.4h0M33.9,298.8h0M67.9,370.1h0M68.5,344.6h0M70.2,319.9h0M56.8,300.1h0M17.5,331.9h0M49.2,327.6h0M11.4,352.8h0M51.2,314.4h0M32.7,327.5h0M26.8,300.0h0M83.5,375.7h0M62.9,367.2h0M42.4,362.1h0M25.6,357.1h0M54.6,370.4h0M15.3,361.0h0M17.4,339.5h0M86.9,294.2h0M27.5,319.4h0M34.3,299.5h0M82.2,362.9h0M40.4,324.3h0M56.2,298.1h0M9.6,369.9h0M32.9,336.2h0M85.5,376.6h0M46.7,311.6h0M31.8,372.0h0M82.3,310.7h0M77.4,324.1h0M46.7,308.7h0M80.9,378.1h0M24.0,347.5h0M23.1,368.4h0M11.2,303.1h0M68.0,320.6h0M82.6,367.5h0M66.9,305.6h0M65.5,373.3h0M44.4,300.9h0M25.8,320.1h0M66.7,310.8h0M22.2,314.0h0M62.8,360.8h0M38.3,350.0h0M81.3,343.9h0M26.2,319.6h0M84.8,350.4h0M30.3,348.1h0M14.6,377.1h0M44.0,338.7h0M51.6,298.0h0M57.4,318.2h0M28.1,361.9h0M14.3,318.2h0M70.5,314.9h0M30.4,340.4h0M22.7,369.8h0M90.0,297.0h0M45.8,357.5h0M39.3,372.5h0M49.0,309.4h0M53.7,348.6h0M37.2,349.7h0M72.8,337.8h0M49.5,365.5h0M64.5,338.1h0M86.9,308.9h0M72.5,308.1h0M58.1,314.0h0M44.0,359.4h0M73.1,360.9h0M26.8,335.4h0M25.6,343.1h0M48.9,297.2h0M57.1,354.5h0M55.1,367.8h0M22.1,307.0h0M8.5,336.0h0M43.5,331.4h0M29.1,361.5h0M13.1,370.7h0M54.8,340.0h0M73.5,314.3h0M19.3,320.4h0M10.6,320.7h0M59.2,338.5h0M29.2,343.8h0M14.4,363.4h0M21.4,315.7h0M20.4,352.4h0M76.8,360.5h0M12.1,328.8h0M37.6,312.4h0M88.5,297.8h0M48.1,358.4h0M89.8,306.4h0M45.2,357.0h0M10.3,314.5h0M81.8,306.1h0M40.0,319.3h0M42.7,300.6h0M9.9,378.2h0M71.1,356.1h0M26.3,315.5h0M53.4,314.6h0M45.8,372.8h0M37.6,322.6h0M89.4,345.7h0M10.3,328.2h0M61.6,299.1h0M35.8,352.8h0M79.6,344.0h0M81.5,333.2h0M40.0,365.3h0M39.0,360.1h0M25.1,323.5h0M22.4,340.5h0M20.8,311.4h0M25.0,333.6h0M32.9,331.9h0M90.4,351.5h0M79.5,311.4h0M39.2,300.3h0M65.1,324.8h0M30.1,295.8h0M22.3,316.3h0M40.0,372.1h0M67.1,316.8h0M37.3,307.1h0M85.7,324.5h0M71.3,355.2h0M83.2,295.9h0M34.1,326.6h0M14.0,368.6h0M34.3,359.2h0M50.6,298.8h0M40.1,314.3h0M10.4,306.9h0M57.0,296.9h0M33.2,329.9h0M52.7,305.7h0M66.4,316.2h0M67.9,350.4h0M19.4,311.5h0M30.5,354.3h0M41.0,326.8h0M79.7,313.3h0M31.5,323.3h0M25.1,297.6h0M9.1,347.3h0M54.5,362.4h0M89.0,319.3h0M63.3,371.7h0M25.2,352.3h0M63.0,374.7h0M79.9,314.0h0M60.1,301.8h0M42.9,327.3h0M12.0,326.5h0M34.6,336.1h0M30.5,307.6h0M40.8,334.3h0M21.0,350.3h0M27.1,302.0h0M35.7,329.8h0M19.7,343.3h0M65.9,340.8h0M65.8,296.1h0M39.9,324.9h0M12.3,328.3h0M11.6,336.0h0M56.2,333.7h0M34.3,315.6h0M9.0,323.5h0M81.9,341.9h0M29.0,350.5h0M22.6,333.8h0M58.7,374.7h0M37.5,342.8h0M86.2,359.2h0M59.7,346.5h0M41.5,329.2h0M30.2,364.1h0M80.9,326.4h0M83.4,297.4h0M18.4,336.9h0M32.9,324.6h0M89.1,306.8h0M23.2,313.5h0M64.1,314.0h0M7.1,340.0h0M40.1,314.4h0M48.5,349.0h0M53.0,346.8h0M54.1,364.3h0M88.4,322.3h0M36.1,368.9h0M33.3,354.6h0M65.4,352.1h0M88.0,363.7h0M20.4,346.6h0M48.2,341.7h0M38.0,318.3h0M69.9,339.2h0M26.9,315.2h0M34.3,309.2h0M50.2,304.8h0M12.3,300.0h0M15.6,353.6h0M16.5,332.3h0M71.9,334.7h0M20.7,367.2h0M80.1,298.7h0M28.3,337.0h0M73.9,327.3h0M67.1,315.4h0M67.1,321.8h0M35.0,358.2h0M77.8,364.0h0M54.7,329.7h0M66.4,346.7h0M76.8,361.7h0M17.5,326.0h0M63.2,313.7h0M22.5,295.4h0M56.2,373.5h0M88.5,305.5h0M64.8,329.5h0M60.0,327.6h0M85.4,377.6h0M11.1,354.3h0M16.9,297.8h0M31.0,355.8h0M90.5,304.3h0M34.7,296.4h0M52.6,334.9h0M38.4,320.3h0M74.2,364.9h0M30.8,327.2h0M58.9,358.7h0M89.4,327.0h0M65.3,340.2h0M74.2,306.6h0M21.7,303.2h0M85.4,315.4h0M48.0,304.3h0M34.2,295.8h0M54.5,306.3h0M59.5,317.3h0M26.1,334.8h0M37.7,316.1h0M11.3,299.6h0M82.0,320.3h0M13.6,309.6h0M47.6,378.3h0M24.0,367.3h0M47.7,329.1h0M74.8,327.6h0M11.8,340.6h0M62.2,346.7h0M30.3,373.3h0M79.6,378.0h0M44.2,364.5h0M67.9,309.0h0M9.2,308.4h0M17.0,300.5h0M37.1,357.7h0M33.0,337.6h0M7.9,311.9h0M87.6,295.1h0M51.3,362.5h0M73.6,356.2h0M40.5,361.9h0M76.5,358.9h0M89.8,302.7h0M86.8,328.1h0M66.2,315.3h0M83.4,296.2h0M55.5,313.4h0M39.6,325.3h0M62.2,362.5h0M37.6,348.0h0M36.7,317.7h0M83.0,321.3h0M14.9,322.4h0M69.3,312.0h0M69.4,340.2h0M64.1,309.1h0M15.9,306.2h0M36.4,330.5h0M7.8,336.6h0M40.9,321.3h0M52.1,374.5h0M24.2,368.4h0M34.0,357.8h0M16.1,377.4h0M43.1,375.4h0M25.4,328.6h0M66.3,309.2h0M30.0,351.3h0M86.6,321.4h0M22.4,324.3h0M90.1,306.7h0M60.3,326.1h0M61.1,312.1h0M58.8,369.0h0M78.9,347.2h0M49.4,342.1h0M16.6,364.8h0M64.9,332.4h0M62.9,329.6h0M39.3,313.6h0M57.5,342.5h0M50.3,296.9h0M59.7,331.9h0M56.8,344.3h0M85.3,307.0h0M46.4,377.9h0M69.0,320.6h0M68.9,377.6h0M40.8,367.3h0" stroke="#666998" stroke-width="2.1" stroke-linecap="round" fill="none" stroke-opacity="0.85"/>
<path d="M17.6,377.7h0M48.3,313.9h0M77.6,348.9h0M85.8,364.1h0M74.0,337.3h0M90.5,299.7h0M80.1,354.2h0M28.1,362.2h0M45.1,339.4h0M79.7,310.7h0M30.5,348.5h0M13.2,341.0h0M73.1,335.6h0M27.3,361.6h0M78.8,359.2h0M53.1,370.5h0M73.9,307.0h0M37.7,302.7h0M10.1,323.3h0M79.6,364.5h0M16.9,309.5h0M39.6,365.8h0M58.8,370.2h0M13.0,377.5h0M24.4,347.2h0M80.6,355.5h0M23.6,350.5h0M43.2,295.5h0M35.5,320.8h0M59.9,317.7h0M57.7,352.8h0M22.2,305.0h0M65.3,333.5h0M17.8,304.0h0M86.0,345.6h0M37.0,310.7h0M90.6,352.5h0M68.8,324.6h0M33.1,328.6h0M19.3,347.4h0M42.7,363.3h0M41.4,332.7h0M49.5,373.6h0M36.1,353.5h0M26.7,343.0h0M30.9,367.8h0M31.1,366.2h0M63.8,332.6h0M85.4,326.9h0M69.4,344.9h0M44.7,299.6h0M42.2,317.9h0M44.0,374.7h0M31.6,352.8h0M63.5,314.8h0M41.6,305.3h0M82.2,315.4h0M42.3,323.0h0M75.9,365.9h0M56.6,340.2h0M15.4,369.8h0M14.4,324.8h0M38.5,355.2h0M63.2,323.2h0M82.4,374.3h0M9.0,347.6h0M46.4,324.7h0M46.0,320.8h0M63.4,345.2h0M88.5,376.5h0M90.4,327.5h0M76.6,349.0h0M65.9,378.3h0M12.6,333.2h0M40.7,349.5h0M25.3,377.6h0M24.6,325.4h0M19.0,327.5h0M69.3,301.2h0M21.0,348.9h0M59.3,356.8h0M28.3,362.6h0M68.4,359.6h0M17.1,333.7h0M8.3,366.7h0M86.3,369.7h0M9.0,323.8h0M52.0,339.2h0M16.3,360.7h0M32.3,337.0h0M17.5,342.1h0M17.9,301.6h0M50.0,319.0h0M72.3,315.0h0M41.8,298.8h0M25.3,332.3h0M53.9,332.9h0M78.5,303.0h0M78.4,307.3h0M88.5,338.5h0M41.1,345.8h0M79.6,375.4h0M41.7,295.1h0M19.9,363.2h0M68.7,354.3h0M20.2,339.0h0M9.4,303.5h0M32.3,375.7h0M61.0,365.7h0M10.9,329.3h0M13.6,316.2h0M16.4,371.7h0M34.6,335.4h0M61.9,368.9h0M86.5,342.1h0M49.1,370.4h0M40.1,319.4h0M69.1,316.0h0M37.9,330.4h0M47.1,324.4h0M43.2,332.2h0M11.2,364.6h0M12.2,338.7h0M53.0,327.9h0M25.7,302.6h0M38.2,320.7h0M47.7,313.6h0M70.0,335.3h0M7.8,328.5h0M88.2,294.8h0M56.8,375.2h0M37.7,344.6h0M38.0,319.6h0M58.2,343.9h0M33.5,336.2h0M50.4,357.7h0M11.5,302.0h0M28.2,317.0h0M73.8,330.1h0M79.2,328.1h0M31.0,351.5h0M14.2,377.2h0M76.8,321.9h0M33.7,363.3h0M73.2,348.3h0M11.8,358.6h0M11.0,346.9h0M53.4,372.4h0M60.6,296.1h0M85.5,357.7h0M55.7,294.7h0M68.9,329.5h0M64.1,377.1h0M84.0,300.5h0M72.6,331.3h0M70.1,326.1h0M44.6,331.0h0M16.9,321.2h0M68.7,300.2h0M16.7,364.5h0M63.0,340.4h0M16.5,304.2h0M33.0,374.6h0M54.1,371.9h0M24.7,329.2h0M52.1,364.9h0M17.4,367.9h0M46.7,296.8h0M43.3,326.0h0M63.6,372.4h0M48.5,352.3h0M39.6,359.8h0M15.8,356.8h0M21.0,343.6h0M24.0,323.4h0M20.8,323.7h0M56.7,338.0h0M39.6,342.6h0M77.8,324.4h0M56.0,334.7h0M89.4,321.9h0M65.6,313.9h0M28.9,355.8h0M55.3,315.9h0M12.4,363.7h0M38.7,354.6h0M43.3,346.3h0M54.0,376.5h0M83.4,332.6h0M47.9,313.7h0M70.3,302.8h0M32.8,365.6h0M9.9,353.1h0M54.7,340.7h0M35.0,307.0h0M86.9,358.7h0M74.7,302.4h0M72.9,312.6h0M23.7,339.3h0M58.2,304.4h0M71.3,343.3h0M82.5,372.1h0M64.9,324.9h0M86.9,354.8h0M31.4,366.5h0M68.1,316.5h0M27.9,295.9h0M52.1,315.6h0M31.6,315.5h0M18.1,335.1h0M29.9,318.2h0M30.3,337.1h0M80.4,307.7h0M79.2,366.3h0M58.2,340.0h0M68.6,339.3h0M62.4,371.7h0M72.1,316.1h0M11.6,373.2h0M37.5,360.6h0M26.6,332.4h0M38.1,355.7h0M86.3,336.8h0M54.5,323.6h0M26.5,374.3h0M16.3,373.5h0M62.2,300.3h0M82.7,302.8h0M54.5,304.3h0M90.1,320.3h0M80.3,299.4h0M63.0,299.9h0M9.5,342.3h0M89.6,352.0h0M78.8,360.4h0M50.8,300.7h0M51.3,309.8h0M51.2,324.1h0M48.9,310.9h0M66.2,329.4h0M47.8,300.8h0M47.9,341.2h0M88.7,341.5h0M18.3,319.5h0M35.2,353.4h0M85.9,376.5h0M86.8,372.2h0M79.1,373.0h0M8.7,335.5h0M56.6,352.0h0M58.5,345.9h0M85.4,301.5h0M50.6,375.1h0M9.7,303.6h0M80.0,374.9h0M9.0,296.9h0M76.7,352.2h0M50.7,343.1h0M70.6,362.3h0M7.1,299.9h0M73.7,376.4h0M77.0,328.6h0M35.2,323.4h0M8.3,359.1h0M29.0,343.6h0M51.2,322.5h0M63.7,332.5h0M26.7,368.5h0M21.8,306.8h0M28.3,334.6h0M72.8,322.3h0M27.0,349.4h0M28.9,338.3h0M28.4,368.1h0M22.5,313.8h0M32.3,322.0h0M68.0,351.0h0M73.4,339.7h0M13.6,358.6h0M27.5,312.6h0M41.8,377.6h0M38.1,324.2h0M83.5,377.7h0M39.5,305.6h0M73.3,360.1h0M35.4,360.8h0M38.9,318.4h0M56.8,356.7h0M47.0,363.2h0M8.2,336.3h0M39.0,299.7h0M83.8,306.3h0M24.3,368.2h0M87.7,372.7h0M35.7,372.7h0M18.9,354.4h0M86.4,310.4h0M18.4,351.4h0M81.1,355.4h0M86.7,332.5h0M38.3,304.3h0M29.9,373.3h0M13.0,309.8h0M36.2,298.4h0M32.8,309.6h0M17.3,338.6h0M52.4,342.1h0M71.0,338.6h0M86.6,301.1h0M25.7,300.7h0M33.0,358.3h0M84.6,336.7h0M20.5,322.1h0M54.7,319.0h0M73.6,376.2h0M45.6,345.0h0M78.1,333.4h0M23.0,373.8h0M89.1,296.3h0M71.1,328.0h0M11.4,307.9h0M21.5,356.3h0M24.8,295.9h0M25.5,361.6h0M48.9,349.2h0M46.1,309.6h0M8.3,319.9h0M10.5,316.2h0M59.0,325.3h0M46.7,346.8h0M33.6,324.3h0M81.2,343.2h0M42.0,339.7h0M45.7,322.2h0M83.8,313.9h0M85.6,366.1h0M81.1,307.9h0M49.7,377.2h0M31.2,308.6h0M67.8,314.0h0M56.0,307.5h0M86.6,318.1h0M15.1,352.1h0M36.2,341.4h0M48.8,372.0h0M50.2,326.1h0M7.1,336.1h0M29.6,342.6h0M60.1,333.2h0M14.6,336.1h0M47.5,348.3h0M88.5,317.8h0M44.2,301.3h0M74.2,314.0h0M76.6,361.5h0M28.4,370.3h0M49.3,330.1h0M53.6,373.9h0M48.1,334.8h0M31.4,365.1h0M49.3,323.1h0M23.5,312.3h0M77.1,361.9h0M89.2,371.5h0M64.5,361.4h0M66.8,362.5h0M74.3,309.1h0M75.4,319.8h0M27.5,371.7h0M8.9,337.3h0M35.8,360.9h0M58.3,371.0h0M85.3,348.5h0M12.4,350.4h0M16.2,377.0h0M80.2,320.4h0M22.6,352.7h0M70.7,377.2h0M59.3,304.8h0M68.0,299.1h0M79.9,359.0h0M73.0,367.8h0M54.8,373.7h0M60.7,335.7h0M39.3,324.0h0M8.9,307.8h0M73.8,313.5h0M61.9,359.6h0M65.3,337.7h0M33.5,317.2h0M22.7,348.8h0M64.6,373.6h0M34.8,372.4h0M83.6,318.7h0M87.0,346.4h0M87.9,359.5h0M35.0,317.7h0M50.9,335.3h0M10.0,366.9h0M52.0,334.1h0M69.5,315.3h0M23.7,343.2h0M27.3,321.8h0M12.9,298.6h0M36.8,338.6h0M86.7,348.1h0M41.8,328.5h0M26.8,334.2h0M87.6,304.5h0M43.4,352.0h0M71.0,341.0h0M60.9,373.3h0M82.8,315.4h0M52.5,378.3h0M51.3,310.2h0M71.4,299.0h0M19.6,340.7h0M29.9,354.9h0M68.0,321.1h0M71.4,348.8h0M66.3,332.7h0M43.3,303.2h0M46.9,374.7h0M81.6,298.9h0M13.0,316.9h0M65.3,331.1h0M17.7,330.1h0M55.1,356.9h0M40.9,349.0h0M64.2,346.1h0M10.9,354.1h0M17.8,298.8h0M46.8,295.6h0M13.1,327.2h0M46.4,303.1h0M87.1,366.0h0M47.9,343.8h0M33.5,377.1h0M17.1,319.8h0M25.6,367.2h0M49.7,328.8h0M40.5,369.0h0M28.6,360.9h0M66.5,332.0h0M37.7,331.0h0M45.1,320.8h0M59.4,328.9h0M32.5,359.3h0M45.2,334.1h0M80.9,332.5h0M38.6,369.9h0M89.0,360.4h0M40.7,350.8h0M69.2,319.2h0M67.8,374.3h0M62.1,350.6h0M43.5,349.3h0M26.0,359.1h0M52.3,376.8h0M35.7,354.2h0M8.4,329.3h0M71.4,316.1h0M58.5,312.8h0M40.5,378.0h0M23.5,371.1h0M12.0,343.3h0M76.0,364.8h0M39.9,344.0h0M66.8,358.4h0M69.7,343.0h0M28.1,353.6h0M54.1,340.1h0M89.9,305.7h0M72.6,321.6h0M68.0,374.3h0M30.1,342.0h0M51.4,335.9h0M21.0,346.9h0M82.1,350.1h0M31.3,362.1h0M42.3,306.4h0M57.9,333.0h0M51.5,377.8h0M54.8,374.6h0M36.6,358.2h0M13.3,319.5h0M65.1,352.4h0M76.6,326.2h0M30.0,324.4h0M52.1,296.2h0M38.5,349.6h0M19.5,320.4h0M80.3,372.9h0M28.0,309.2h0M16.9,301.4h0M73.7,356.5h0M29.2,335.4h0M65.4,296.6h0M75.8,366.7h0M24.7,353.5h0M65.7,322.6h0M80.8,312.6h0M46.8,320.6h0M44.1,362.7h0M54.9,345.6h0M89.9,313.0h0M25.7,346.4h0M19.6,375.5h0M35.7,331.3h0M43.2,364.0h0M83.9,351.3h0M21.4,324.1h0M66.3,312.4h0M81.1,367.7h0M26.0,324.9h0M26.2,354.8h0M11.0,352.8h0M12.3,365.1h0M52.6,343.4h0M15.0,297.9h0M36.7,377.2h0M57.4,366.9h0M12.3,302.8h0M8.8,353.0h0M21.8,317.2h0M63.0,352.8h0M34.1,333.6h0M31.3,341.5h0M36.9,324.5h0M27.9,318.8h0M28.9,295.6h0M33.1,344.1h0M29.6,303.7h0M78.1,333.7h0M50.0,320.5h0M81.5,357.8h0M59.3,349.8h0M65.2,336.4h0M41.7,327.1h0M49.3,333.7h0M51.4,339.1h0M73.2,369.4h0M25.8,296.1h0M32.3,296.9h0M73.9,346.5h0M31.0,310.3h0M80.0,364.7h0M64.4,352.5h0M69.5,332.5h0M40.4,340.8h0M81.0,377.8h0M84.0,364.6h0M13.2,315.0h0M88.6,340.0h0M50.2,320.3h0M79.4,337.8h0M90.2,300.6h0M90.4,295.3h0M19.5,327.0h0M60.7,303.5h0M54.2,373.4h0M43.6,358.5h0M56.7,343.3h0M21.5,333.3h0M82.6,351.0h0M25.2,331.9h0M52.7,322.6h0M55.5,347.4h0M8.5,312.7h0M62.2,312.3h0M13.1,358.4h0M35.0,374.9h0M53.9,302.7h0M60.5,316.3h0M75.4,355.2h0M70.7,299.0h0M9.9,361.5h0M18.8,311.2h0M9.5,308.0h0M46.8,375.0h0M34.0,316.1h0M76.5,309.7h0M60.4,346.1h0M85.6,297.9h0M54.3,326.5h0M76.2,315.5h0M67.1,309.8h0M48.6,375.8h0M27.2,317.7h0M84.1,351.1h0M12.5,309.9h0M26.9,318.6h0M77.9,353.3h0M89.3,350.7h0M59.7,326.5h0M67.3,335.8h0M11.9,335.7h0M39.3,339.0h0M11.1,296.6h0M89.6,325.5h0M34.7,306.7h0M56.8,371.3h0M22.2,336.4h0M49.0,358.8h0M54.5,314.3h0M22.9,355.3h0M13.6,367.1h0M9.8,310.2h0M46.3,365.3h0M59.0,357.1h0M70.9,355.1h0M11.3,363.8h0M19.4,307.9h0M10.2,296.6h0M80.7,326.3h0M14.3,298.1h0M78.1,344.9h0M84.0,297.4h0M16.5,318.4h0M23.0,303.7h0M23.8,348.2h0M21.1,308.4h0M52.0,325.9h0M19.6,342.1h0M49.7,326.9h0M46.8,297.6h0M58.7,310.5h0M35.2,295.0h0M81.6,343.7h0M39.9,339.9h0M85.9,305.3h0M39.2,353.9h0M38.3,353.8h0M83.3,297.6h0M30.9,318.9h0M70.0,360.3h0M65.8,372.2h0M22.6,327.4h0M78.6,358.7h0M16.5,376.8h0M69.2,367.2h0M37.4,345.2h0M87.5,369.9h0M55.5,369.2h0M90.9,364.9h0M62.1,375.2h0M19.1,328.2h0M54.4,305.3h0M72.6,299.4h0M59.8,317.8h0M34.1,345.4h0M23.1,331.9h0M79.0,377.4h0M29.1,325.0h0M65.3,310.2h0M78.3,310.9h0M53.8,322.8h0M7.1,294.3h0M7.2,321.9h0M30.1,377.8h0M60.6,299.7h0M67.1,313.8h0M47.4,355.1h0M79.0,373.0h0M42.4,321.0h0M40.4,320.6h0M69.3,333.2h0M64.6,307.0h0M72.8,375.7h0M24.1,346.2h0M20.6,297.2h0M41.8,309.6h0M68.4,342.4h0M63.7,375.8h0M11.9,302.5h0M10.0,332.9h0M76.3,351.8h0M53.0,366.4h0M38.3,303.7h0M60.9,296.4h0" stroke="#383a6a" stroke-width="1.6" stroke-linecap="round" fill="none" stroke-opacity="0.9"/>
<path d="M26.3,296.7h0M20.6,299.6h0M51.6,305.0h0M57.7,363.7h0M35.9,304.3h0M63.4,355.6h0M81.3,340.9h0M55.9,367.0h0M63.9,376.4h0M31.1,359.5h0M60.2,333.7h0M7.9,334.4h0M29.1,344.9h0M49.8,337.2h0M11.9,305.3h0M58.0,351.7h0M90.2,361.0h0M31.4,332.6h0M49.5,362.0h0M40.1,371.8h0M47.7,327.8h0M47.3,324.3h0M91.0,298.1h0M40.6,300.9h0M63.9,306.9h0M19.5,329.9h0M57.6,358.6h0M44.3,319.1h0M37.9,369.1h0M24.9,295.2h0M81.4,334.9h0M18.1,305.7h0M81.8,357.4h0M12.4,351.1h0M25.0,331.8h0M57.8,298.5h0M85.6,322.5h0M19.1,360.0h0M16.2,297.3h0M61.8,333.8h0M82.6,360.9h0M24.3,298.0h0M57.7,333.9h0M32.3,371.5h0M24.5,348.4h0M13.2,372.1h0M86.7,346.3h0M33.9,355.2h0M82.9,361.2h0M10.4,336.7h0M18.8,340.3h0M86.8,367.1h0M27.9,340.7h0M33.7,308.4h0M69.5,358.2h0M35.3,329.6h0M65.5,355.5h0M45.9,304.2h0M15.0,308.5h0M76.4,336.0h0M61.1,324.9h0M38.0,309.0h0M88.9,345.2h0M17.8,353.4h0M57.2,345.9h0M71.7,345.5h0M80.6,375.9h0M41.2,348.9h0M38.4,328.8h0M37.8,348.8h0M36.6,323.9h0M78.1,361.6h0M63.8,365.3h0M39.4,348.4h0M28.1,320.8h0M15.5,361.5h0M84.4,319.7h0M38.8,304.1h0M18.9,348.0h0M81.9,301.3h0M28.4,358.2h0M26.0,368.2h0M36.6,334.1h0M23.9,318.7h0M42.7,317.7h0M68.2,296.7h0M60.7,361.9h0M34.4,310.3h0M17.1,300.7h0M73.5,345.0h0M8.3,332.4h0M57.3,321.1h0M9.9,329.7h0M36.7,376.2h0M37.2,372.0h0M79.9,342.6h0M17.6,362.3h0M14.6,341.2h0M15.2,302.0h0M41.5,307.4h0M90.3,342.9h0M82.4,374.8h0M70.7,348.6h0M46.7,359.8h0M63.2,307.5h0M51.5,329.1h0M50.3,354.3h0M64.9,342.2h0M73.3,363.8h0M14.8,306.4h0M11.0,307.7h0M87.6,320.3h0M43.9,333.4h0M54.4,317.8h0M72.4,322.2h0M78.0,361.9h0M7.1,340.4h0M14.8,368.7h0M12.8,316.7h0M71.6,344.0h0M63.0,329.0h0M50.7,311.3h0M45.8,315.9h0M63.7,303.2h0M18.6,310.9h0M51.8,343.2h0M7.3,377.4h0M77.2,326.2h0M20.3,363.8h0M89.1,309.2h0M70.5,363.2h0M85.7,311.8h0M17.1,308.1h0M26.4,370.1h0M83.4,334.1h0M17.7,323.9h0M27.3,348.9h0M67.5,359.6h0M43.7,332.7h0M46.3,325.4h0M45.2,352.0h0M66.7,321.7h0M54.6,306.4h0M10.8,326.8h0M37.2,296.9h0M13.7,330.1h0M86.2,364.8h0M9.5,320.9h0M38.0,320.4h0M18.5,344.0h0M77.5,326.4h0M21.8,303.1h0M8.3,358.7h0M26.4,355.2h0M73.4,301.2h0M22.9,320.8h0M71.6,356.3h0M32.4,332.3h0M36.8,334.0h0M73.7,316.3h0M75.1,371.8h0M57.5,375.1h0M85.8,308.6h0M90.3,311.1h0M74.6,304.4h0M32.4,331.5h0M77.5,351.6h0M24.1,369.9h0M79.7,337.2h0M11.3,318.3h0M31.6,329.5h0M86.2,344.4h0M75.8,300.2h0M27.6,355.8h0M35.6,313.4h0M12.3,298.5h0M41.6,340.3h0M40.6,341.8h0M31.4,295.6h0M63.6,322.5h0M48.3,326.0h0M29.7,298.6h0M31.9,319.3h0M16.7,296.7h0M47.4,295.8h0M80.8,324.6h0M44.3,338.5h0M9.0,302.8h0M73.0,341.1h0M48.4,323.2h0M70.1,336.6h0M73.6,364.6h0M82.1,355.4h0M63.6,333.1h0M51.8,343.0h0M51.1,363.3h0M79.1,298.6h0M70.2,346.1h0M57.3,370.8h0M11.2,334.2h0M38.5,374.1h0M20.8,341.7h0M19.1,357.8h0M48.1,356.2h0M32.8,368.7h0M7.6,313.1h0M68.6,368.3h0M72.3,317.4h0M13.8,354.0h0M68.4,299.3h0M85.5,338.7h0M9.8,334.6h0M35.4,303.0h0M81.4,373.0h0M17.4,331.8h0M30.0,350.9h0M16.2,322.3h0M41.5,334.1h0M43.6,344.4h0M86.0,372.7h0M83.2,364.1h0M26.2,314.8h0M45.6,348.4h0M57.9,323.7h0M90.3,320.5h0M8.6,301.9h0M24.6,355.8h0M77.6,297.7h0M26.9,314.6h0M73.1,369.9h0M29.1,302.8h0M88.2,376.1h0M67.2,334.0h0M69.7,358.9h0M49.8,317.1h0M51.1,350.0h0M34.2,348.1h0M19.3,376.0h0M24.8,313.3h0M87.7,374.3h0M84.7,365.1h0M78.3,363.4h0M54.6,300.5h0M68.5,364.7h0M77.4,297.9h0M12.1,355.8h0M48.0,369.5h0M90.2,331.9h0M63.7,350.3h0M65.3,325.2h0M60.7,299.9h0M82.6,355.2h0M74.4,333.2h0M24.2,332.2h0M64.2,340.4h0M16.1,294.5h0M40.4,314.8h0M26.0,312.9h0M41.9,352.8h0M83.7,351.2h0" stroke="#23244a" stroke-width="1.2" stroke-linecap="round" fill="none"/>
<path d="M5.0,292.2 h32 l-4,6 l-7,3 l-6,5 l-7,1 l-6,5 l-2,0 Z" fill="#eceef5" opacity="0.92"/>
<path d="M7.5,306.3h0M22.8,304.4h0M23.0,299.2h0M15.8,295.2h0M24.3,295.0h0M24.7,307.0h0M24.4,302.7h0M28.0,307.6h0M28.1,308.1h0M18.9,294.4h0M23.0,303.1h0M29.4,302.8h0M16.4,294.3h0M28.6,302.9h0M32.6,302.5h0M29.2,305.0h0M32.8,300.7h0M30.3,299.8h0M7.3,298.8h0M16.1,308.1h0M17.3,298.0h0M25.0,295.6h0M14.9,299.7h0M10.2,302.6h0M18.0,305.4h0M15.8,307.9h0M12.1,301.6h0M12.9,294.4h0M14.8,306.7h0M14.6,301.0h0" stroke="#4a4f86" stroke-width="1.5" stroke-linecap="round" fill="none" stroke-opacity="0.9"/>
</g></g>
<g clip-path="url(#hc1)"><g filter="url(#hb)">
<rect x="92.0" y="292.2" width="86.70" height="88.5" fill="#a8aac6"/>
<path d="M173.2,306.0h0M96.0,378.4h0M109.2,304.4h0M147.9,323.3h0M167.6,313.7h0M173.3,321.1h0M143.7,372.8h0M150.7,372.1h0M152.6,298.3h0M166.9,343.9h0M119.7,310.2h0M164.3,343.3h0M171.6,359.4h0M173.5,341.9h0M151.8,345.8h0M115.4,374.9h0M119.8,360.0h0M172.9,349.1h0M105.8,363.8h0M149.2,309.8h0M98.1,339.0h0M96.7,372.2h0M135.9,337.8h0M127.9,349.9h0M169.8,320.1h0M124.9,343.3h0M118.6,344.4h0M138.9,330.7h0M149.7,338.7h0M101.3,378.2h0M123.4,330.6h0M127.3,372.6h0M172.7,337.4h0M127.1,302.3h0M168.1,308.6h0M139.2,323.6h0M121.1,324.3h0M109.8,297.3h0M138.3,361.3h0M147.5,311.2h0M151.4,298.6h0M128.0,364.0h0M170.2,333.0h0M164.0,336.2h0M137.3,343.5h0M176.0,356.9h0M133.1,355.5h0M147.2,324.0h0M158.9,363.3h0M144.3,373.7h0M95.5,336.4h0M146.5,322.9h0M108.2,352.5h0M129.9,316.9h0M97.5,375.7h0M123.1,304.2h0M111.9,315.7h0M165.6,309.4h0M116.9,302.4h0M132.9,311.7h0M122.5,356.2h0M170.5,364.5h0M97.2,326.0h0M164.2,297.0h0M110.8,335.5h0M125.6,357.4h0M153.4,333.4h0M114.6,313.7h0M116.0,299.7h0M149.1,307.5h0M167.6,348.7h0M98.7,336.2h0M143.9,297.8h0M134.3,296.7h0M157.4,294.5h0M146.3,377.3h0M164.0,313.9h0M138.2,306.0h0M122.3,367.0h0M161.6,295.0h0M125.4,348.2h0M108.5,361.9h0M167.9,340.7h0M123.9,365.7h0M136.4,310.1h0M117.0,307.6h0M163.4,337.2h0M151.6,363.1h0M174.5,310.3h0M127.6,367.9h0M157.0,326.8h0M148.2,310.6h0M107.4,298.5h0M125.4,314.1h0M136.8,375.9h0M106.6,341.2h0M165.5,344.6h0M137.6,358.9h0M95.8,374.2h0M150.8,362.2h0M162.2,302.5h0M99.5,309.2h0M135.7,373.3h0M169.2,328.9h0M145.5,356.6h0M121.5,376.0h0M171.9,355.5h0M168.5,361.7h0M147.9,321.3h0M117.3,314.3h0M98.7,372.2h0M118.7,296.2h0M120.1,302.9h0M130.8,322.2h0M108.5,334.4h0M128.3,324.0h0M161.3,320.1h0M138.8,368.2h0M173.3,325.8h0M97.3,374.3h0M136.5,312.5h0M104.6,314.3h0M119.7,305.9h0M98.1,378.0h0M161.8,303.8h0M133.8,361.8h0M135.7,300.0h0M122.1,326.3h0M169.6,343.3h0M132.0,347.4h0M98.0,352.0h0M160.8,350.7h0M123.8,318.3h0M94.8,301.1h0M106.8,332.4h0M158.4,312.5h0M133.1,347.8h0M146.1,295.9h0M170.1,343.5h0M119.1,314.4h0M151.0,372.8h0M121.9,327.8h0M140.1,308.9h0M127.6,371.6h0M140.0,363.6h0M115.7,367.4h0M158.7,313.2h0M137.8,351.7h0M141.4,344.9h0M113.9,340.9h0M123.3,361.5h0M124.8,376.8h0M142.0,313.4h0M128.4,305.0h0M154.9,298.1h0M144.0,320.2h0M158.3,304.9h0M150.3,354.4h0M113.3,305.2h0M124.8,348.9h0M115.6,294.9h0M130.5,362.4h0M107.1,373.5h0M136.0,307.7h0M102.3,325.5h0M133.4,309.0h0M101.0,336.5h0M115.0,331.7h0M131.3,353.0h0M141.8,313.4h0M108.9,366.6h0M98.2,304.6h0M99.8,363.9h0M138.7,372.1h0M145.8,322.5h0M129.6,355.9h0M113.1,361.9h0M127.7,297.8h0M122.4,341.4h0M106.1,370.5h0M170.6,337.3h0M168.8,352.4h0M138.5,307.5h0M172.8,371.7h0M131.4,326.6h0M100.1,346.4h0M164.7,327.0h0M117.9,345.9h0M159.6,308.5h0M117.4,348.3h0M97.4,363.1h0M120.1,364.3h0M131.6,308.2h0M95.6,303.7h0M115.5,358.1h0M159.7,347.4h0M119.4,350.2h0M154.6,325.2h0M100.7,333.7h0M112.4,310.1h0M126.3,300.5h0M168.3,317.9h0M168.3,356.4h0M94.9,370.0h0M160.9,338.5h0M167.1,334.5h0M96.1,306.8h0M119.7,366.5h0M162.6,304.1h0M122.9,303.6h0M112.9,323.9h0M128.3,306.8h0M148.4,314.6h0M167.6,334.8h0M129.5,358.8h0M122.5,315.8h0M104.1,319.0h0M113.4,356.2h0M123.4,353.8h0M116.8,300.1h0M119.2,327.3h0M169.3,311.0h0M111.5,307.3h0M114.9,375.2h0M171.1,313.4h0M98.1,335.2h0M142.3,303.6h0M128.6,359.0h0M94.1,354.8h0M150.6,360.5h0M134.3,333.3h0M136.9,305.7h0M136.5,314.4h0M120.5,298.0h0M107.1,298.9h0M138.7,314.1h0M140.0,336.7h0M113.3,304.9h0M143.3,351.2h0M151.1,337.0h0" stroke="#c4c6da" stroke-width="3.0" stroke-linecap="round" fill="none" stroke-opacity="0.8"/>
<path d="M142.0,296.3h0M119.3,361.7h0M125.2,303.0h0M128.8,364.5h0M102.1,303.6h0M135.2,367.7h0M126.3,315.1h0M157.5,302.2h0M118.4,344.6h0M164.2,366.8h0M120.9,316.6h0M124.1,304.4h0M116.5,358.8h0M175.0,317.0h0M100.0,356.5h0M173.9,361.1h0M128.1,356.9h0M156.9,356.9h0M134.8,378.4h0M158.6,314.0h0M129.6,301.7h0M125.0,363.1h0M134.2,338.4h0M158.4,301.6h0M123.3,335.0h0M134.8,351.9h0M171.5,361.8h0M139.1,351.9h0M138.5,377.3h0M143.3,344.3h0M126.7,329.5h0M157.2,325.6h0M168.7,355.6h0M173.0,353.8h0M141.1,325.1h0M95.5,350.0h0M156.1,355.2h0M156.8,297.2h0M150.6,317.8h0M126.1,367.4h0M127.5,333.6h0M98.2,309.5h0M111.4,312.3h0M137.2,298.2h0M101.4,301.5h0M154.7,376.0h0M156.0,337.6h0M104.8,360.3h0M104.7,300.7h0M136.3,366.9h0M119.7,367.0h0M121.5,375.7h0M155.1,367.1h0M175.4,363.1h0M110.2,337.7h0M139.0,355.1h0M113.0,342.8h0M117.5,309.7h0M131.2,361.9h0M139.8,324.1h0M112.7,324.5h0M127.0,317.1h0M119.7,313.4h0M118.3,351.0h0M145.7,347.0h0M170.4,350.3h0M104.8,328.2h0M137.4,357.1h0M137.8,302.0h0M133.4,349.4h0M158.9,331.8h0M111.7,297.0h0M135.6,357.4h0M103.1,338.3h0M143.4,341.4h0M113.2,302.0h0M95.8,319.9h0M168.2,329.5h0M175.6,363.7h0M142.3,331.3h0M140.5,365.0h0M121.6,307.4h0M168.3,347.4h0M125.2,327.9h0M102.4,342.0h0M159.0,336.2h0M151.7,356.5h0M121.4,348.0h0M174.4,354.5h0M109.1,350.1h0M147.3,359.6h0M152.1,371.1h0M174.7,311.9h0M133.7,298.0h0M175.6,303.2h0M129.3,346.2h0M129.5,308.7h0M135.5,313.0h0M134.5,354.5h0M118.7,331.8h0M146.3,339.0h0M160.2,369.3h0M174.0,308.1h0M133.9,304.2h0M151.8,327.6h0M164.3,335.0h0M160.0,296.8h0M144.7,329.1h0M162.9,302.9h0M101.4,352.2h0M121.0,330.9h0M127.4,377.3h0M145.6,364.4h0M163.4,366.5h0M131.0,318.7h0M136.6,369.6h0M167.0,334.5h0M169.0,358.5h0M97.3,347.6h0M159.6,297.9h0M125.2,348.6h0M135.9,338.9h0M101.5,316.3h0M165.8,323.6h0M133.6,344.0h0M117.4,329.1h0M135.8,367.4h0M163.7,309.1h0M135.6,357.6h0M168.1,338.9h0M146.2,348.6h0M149.2,369.5h0M175.5,377.8h0M104.3,354.6h0M126.1,317.8h0M102.3,371.0h0M167.9,338.8h0M135.2,311.5h0M170.7,358.0h0M107.8,342.6h0M176.4,316.4h0M124.9,324.8h0M124.7,304.1h0M146.0,314.8h0M150.3,333.6h0M163.7,357.1h0M165.0,307.3h0M159.7,359.5h0M118.1,294.3h0M102.2,359.3h0M174.1,299.9h0M114.1,328.1h0M99.6,348.3h0M164.9,365.2h0M108.8,371.0h0M159.0,307.3h0M164.6,372.6h0M166.7,357.5h0M161.5,339.3h0M94.7,351.4h0M135.3,306.7h0M105.0,368.8h0M168.8,298.5h0M95.5,353.0h0M118.1,367.5h0M132.2,354.2h0M97.9,359.7h0M110.5,330.4h0M134.2,321.6h0M114.1,331.9h0M98.3,307.5h0M104.8,366.2h0M119.8,377.1h0M168.5,308.1h0M164.8,377.4h0M130.6,334.9h0M149.8,335.5h0M115.7,356.0h0M112.2,326.6h0M95.9,321.5h0M160.7,305.8h0M109.7,327.5h0M118.6,294.8h0M98.5,311.1h0M159.6,359.7h0M160.7,352.8h0M176.5,315.9h0M152.5,332.1h0M173.4,331.5h0M153.9,359.6h0M173.7,358.7h0M121.1,348.9h0M159.9,373.4h0M114.4,355.8h0M153.7,307.5h0M103.8,341.6h0M143.5,321.9h0M145.1,306.7h0M141.3,339.3h0M162.7,354.9h0M100.6,341.1h0M104.5,338.6h0M150.1,353.6h0M94.8,339.0h0M108.4,336.9h0M134.8,335.4h0M157.2,319.3h0M133.4,315.0h0M110.4,347.5h0M107.1,361.6h0M125.0,303.8h0M159.1,296.0h0M118.4,349.4h0M95.3,353.3h0M140.5,376.5h0M119.8,364.1h0M175.1,336.3h0M100.3,323.0h0M161.3,294.2h0M146.4,338.1h0M155.2,325.4h0M171.4,303.8h0M128.4,320.0h0M140.2,312.5h0M126.0,332.1h0M170.3,296.6h0M117.5,306.7h0M153.1,359.2h0M95.3,360.2h0M166.9,333.2h0M143.2,361.0h0M170.7,313.2h0M152.6,300.9h0M124.1,371.0h0M145.9,339.2h0M130.9,332.7h0M96.6,341.5h0M171.8,304.2h0M96.9,346.9h0M162.0,330.4h0M100.9,348.6h0M148.3,313.8h0M161.3,340.0h0M159.0,314.0h0M124.0,350.1h0M149.3,365.6h0M172.0,354.9h0M94.8,333.5h0M149.1,359.9h0M120.0,299.3h0M142.0,310.5h0M136.7,313.6h0M166.7,296.7h0M140.2,368.3h0M147.1,306.5h0M139.3,363.8h0M146.2,370.6h0M161.4,326.4h0M104.2,352.5h0M133.8,363.2h0M130.8,354.8h0M105.9,357.9h0M165.6,362.5h0M158.1,350.8h0M108.1,322.0h0M117.2,318.8h0M142.3,324.8h0M148.5,369.3h0M176.1,294.5h0M144.4,343.0h0M129.7,356.2h0M166.8,314.9h0M146.6,307.5h0M130.4,324.1h0M161.8,371.0h0M166.0,338.2h0M152.7,349.1h0M138.8,305.7h0M116.3,374.8h0M143.2,303.9h0M123.4,305.5h0M104.4,326.3h0M118.1,295.8h0M135.0,372.5h0M132.3,327.9h0M125.6,316.7h0M121.0,310.6h0M129.5,371.4h0M124.2,368.4h0M135.3,347.8h0M133.9,327.3h0M167.2,344.0h0M109.7,320.1h0M126.5,341.9h0M125.2,316.6h0M119.1,378.0h0M155.2,367.0h0M168.0,306.1h0M138.3,355.2h0M134.3,338.8h0M146.3,347.5h0M108.5,298.8h0M116.5,297.2h0M119.6,297.5h0M102.7,349.6h0M110.1,354.4h0M128.7,364.7h0M140.1,367.7h0M129.1,329.5h0M170.8,351.9h0M129.4,367.7h0M154.3,348.6h0M96.3,369.1h0M102.8,295.6h0M122.0,310.5h0M113.9,335.1h0M135.6,351.5h0M165.6,352.8h0M165.6,330.5h0M106.2,354.1h0M176.3,308.5h0M144.8,326.8h0M175.3,297.0h0M133.5,324.4h0M124.5,356.9h0M94.0,317.4h0M174.0,333.0h0M95.1,346.3h0M148.3,372.5h0M167.2,374.2h0M115.9,321.0h0M151.6,323.4h0M125.1,297.5h0M110.4,305.5h0M124.8,353.3h0M110.0,318.5h0M100.8,328.5h0M142.6,344.9h0M147.5,339.4h0M151.5,361.7h0M163.5,294.3h0M170.9,334.6h0M176.1,358.5h0M132.2,298.0h0M102.0,359.6h0M94.6,298.4h0M151.8,345.4h0M149.9,299.9h0M173.3,357.3h0M95.0,342.2h0M121.0,313.8h0M144.8,377.1h0M96.6,362.0h0M171.1,301.5h0M168.2,295.4h0M120.6,296.2h0M108.7,308.7h0M140.4,330.9h0M174.0,357.9h0M100.2,300.1h0M117.1,362.9h0M160.3,364.9h0M165.6,355.8h0M140.3,365.1h0M162.1,363.1h0M166.7,339.0h0M101.2,346.9h0M151.9,374.2h0M155.8,369.7h0M169.5,321.8h0M170.6,342.2h0M129.8,331.7h0M135.1,329.1h0M153.7,315.8h0M130.1,349.0h0M174.3,355.8h0M139.9,325.8h0M148.6,372.1h0M95.5,326.8h0M117.5,359.6h0M149.2,294.4h0M168.2,328.6h0M105.5,302.5h0M99.9,315.1h0M100.8,353.6h0M105.4,330.7h0M148.4,331.4h0M118.1,332.4h0M132.1,343.0h0M142.8,320.9h0M150.3,366.2h0M174.0,346.4h0M118.3,294.2h0M129.5,377.6h0M175.8,354.0h0M110.0,311.3h0M106.8,330.7h0M172.7,311.8h0M161.5,340.5h0M116.1,332.4h0M98.4,347.7h0M168.8,321.5h0M174.2,318.6h0M123.2,352.8h0M111.7,297.3h0M135.3,335.6h0M107.4,308.9h0M103.4,310.2h0M106.4,349.0h0M167.7,344.6h0M112.9,340.7h0M173.0,324.5h0M154.3,294.7h0M157.3,366.6h0M138.9,369.7h0M143.3,360.1h0M134.5,326.5h0M116.5,341.5h0M157.8,297.1h0M149.5,297.0h0M147.2,354.5h0M169.8,349.2h0M147.9,351.7h0M149.7,352.7h0M150.3,365.6h0M123.5,374.5h0M109.9,297.9h0M98.3,340.4h0M164.8,304.6h0M167.2,336.3h0M148.9,308.1h0M176.1,333.3h0M113.8,346.7h0M97.8,349.0h0M163.4,304.7h0M114.9,317.3h0M110.1,346.5h0M161.4,332.8h0M151.5,370.7h0M161.7,326.2h0M168.0,310.0h0M162.1,301.4h0M120.4,302.9h0M140.6,303.6h0M144.2,308.3h0M149.6,336.0h0M119.8,306.0h0M156.6,310.5h0M121.5,371.7h0M166.8,355.1h0M146.7,365.3h0M163.1,364.3h0M156.2,329.2h0M156.6,327.4h0M140.6,296.4h0M107.0,351.0h0M101.1,302.5h0M166.3,369.8h0M174.5,360.7h0M118.8,345.3h0M136.7,301.2h0M107.2,345.9h0M129.1,342.7h0M170.3,300.3h0M107.1,376.6h0M103.6,325.3h0M139.8,316.6h0M125.8,308.2h0M160.9,313.2h0M153.7,332.9h0M135.8,300.9h0M167.3,295.5h0M165.7,295.7h0M125.6,331.7h0M144.6,316.6h0M176.4,323.2h0M112.2,356.2h0M148.4,345.4h0M172.9,368.6h0M119.3,369.7h0M167.8,298.9h0M136.4,367.4h0M127.3,322.5h0M134.2,365.4h0M95.0,349.6h0M152.5,374.8h0M147.5,316.7h0M147.7,355.8h0M104.7,360.0h0M143.6,344.0h0M147.7,346.3h0M106.3,306.7h0M94.2,321.0h0M112.0,344.4h0M102.0,305.2h0M136.8,360.5h0M134.0,299.0h0M170.8,341.3h0M169.6,357.5h0M168.8,363.3h0M155.9,367.2h0M149.7,376.2h0M169.9,308.2h0M133.6,373.9h0M150.0,346.4h0M128.5,301.2h0M129.1,294.8h0M107.7,332.9h0M130.7,347.6h0M142.9,358.6h0M141.0,361.2h0M97.1,333.2h0M171.7,357.0h0M162.8,376.0h0M107.2,335.6h0M167.2,321.3h0M136.7,310.0h0M100.0,370.8h0M154.9,359.8h0M168.0,341.1h0" stroke="#777aa4" stroke-width="2.0" stroke-linecap="round" fill="none" stroke-opacity="0.85"/>
<path d="M163.6,359.8h0M131.8,333.7h0M110.9,331.3h0M163.7,297.0h0M172.3,311.3h0M135.8,319.3h0M96.9,346.4h0M108.9,328.4h0M162.9,332.3h0M122.5,305.7h0M95.5,362.5h0M134.1,319.9h0M156.7,338.7h0M112.9,375.3h0M127.9,322.2h0M175.1,329.4h0M132.6,364.4h0M147.6,315.3h0M98.1,299.6h0M106.0,356.8h0M125.0,339.0h0M117.7,297.7h0M175.5,350.3h0M150.9,347.3h0M98.1,363.6h0M166.0,313.7h0M165.0,375.5h0M108.2,371.0h0M97.7,357.4h0M174.7,306.2h0M130.9,295.9h0M138.1,298.8h0M134.7,310.1h0M109.7,350.5h0M113.7,307.1h0M117.8,326.0h0M149.8,343.2h0M141.9,352.7h0M116.4,351.6h0M99.2,302.1h0M140.8,348.9h0M116.9,377.1h0M103.5,362.6h0M139.0,344.4h0M129.2,299.4h0M130.4,351.6h0M155.4,363.2h0M118.9,337.4h0M103.9,330.7h0M128.7,361.1h0M101.8,298.4h0M145.6,361.0h0M100.0,351.9h0M106.4,366.2h0M146.7,311.4h0M125.2,364.7h0M172.6,297.2h0M129.7,304.0h0M173.7,374.2h0M128.7,365.8h0M114.9,365.3h0M109.1,320.1h0M137.7,356.8h0M133.1,303.3h0M96.7,307.6h0M117.4,349.1h0M109.5,370.9h0M147.6,320.3h0M141.4,365.5h0M115.3,350.3h0M147.0,363.8h0M148.7,299.4h0M165.5,312.2h0M144.5,304.3h0M159.2,363.8h0M160.7,353.2h0M169.5,339.1h0M164.6,317.9h0M105.2,313.7h0M127.1,359.8h0M157.9,319.7h0M157.9,369.9h0M126.5,352.3h0M118.2,327.3h0M111.1,321.1h0M100.6,327.0h0M159.9,309.7h0M111.7,370.4h0M122.8,315.0h0M107.9,297.2h0M166.5,355.4h0M173.8,368.6h0M145.6,374.1h0M114.8,355.4h0M161.1,307.0h0M170.2,376.3h0M112.0,308.2h0M102.8,310.2h0M122.3,361.6h0M112.3,313.4h0M150.3,362.3h0M94.4,360.7h0M150.1,320.5h0M132.8,299.0h0M130.3,294.4h0M155.9,337.8h0M108.4,312.1h0M142.4,318.7h0M157.0,343.6h0M157.6,304.1h0M110.9,373.7h0M153.6,330.1h0M176.6,299.1h0M144.0,305.1h0M119.5,311.7h0M126.4,298.7h0M108.8,351.4h0M108.0,335.6h0M174.6,359.9h0M102.2,356.2h0M142.1,339.7h0M160.0,374.9h0M123.9,363.6h0M110.8,340.8h0M167.2,360.4h0M122.7,369.0h0M142.1,369.4h0M160.4,332.0h0M123.2,305.3h0M167.3,304.9h0M100.8,319.9h0M105.3,313.8h0M151.6,321.5h0M164.7,326.7h0M165.7,363.8h0M115.7,341.9h0M150.0,308.7h0M97.0,367.6h0M95.2,310.2h0M104.9,364.9h0M147.8,337.1h0M135.3,375.4h0M111.3,364.0h0M118.2,316.5h0M151.1,329.1h0M141.9,352.6h0M98.5,327.0h0M127.4,363.6h0M158.6,331.1h0M126.7,359.8h0M154.9,297.9h0M161.0,366.9h0M117.5,350.8h0M133.6,316.1h0M99.3,339.8h0M154.4,328.9h0M147.1,309.5h0M162.7,356.4h0M135.0,303.2h0M94.1,328.3h0M114.5,297.5h0M120.1,372.6h0M136.8,351.8h0M129.6,319.8h0M107.6,341.8h0M151.2,338.2h0M132.4,343.9h0M110.8,373.0h0M165.4,307.8h0M165.1,353.8h0M96.8,359.3h0M161.3,319.4h0M110.4,335.0h0M97.2,306.7h0M152.1,326.1h0M127.0,371.0h0M160.0,319.1h0M98.2,297.5h0M148.9,340.8h0M175.7,339.6h0M144.6,361.4h0M136.3,336.2h0M123.7,335.9h0M152.2,335.3h0M155.8,326.0h0M145.4,329.3h0M140.5,359.2h0M103.2,296.9h0M112.0,313.7h0M106.0,341.8h0M131.5,332.3h0M157.6,304.2h0M170.3,360.2h0M115.1,357.7h0M164.8,294.3h0M122.7,354.2h0M121.6,308.6h0M117.6,318.5h0M153.6,336.7h0M122.8,376.9h0M122.3,340.4h0M168.7,377.1h0M128.9,326.6h0M144.8,338.8h0M139.0,340.6h0M110.0,308.3h0M140.2,313.7h0M132.3,297.4h0M123.6,307.8h0M134.4,370.4h0M108.1,311.9h0M121.7,318.6h0M101.6,301.2h0M150.1,366.2h0M94.8,358.5h0M159.9,356.8h0M156.4,302.2h0M118.4,365.9h0M136.8,359.8h0M115.1,365.8h0M168.0,308.3h0M154.6,378.4h0M98.1,314.1h0M168.9,353.1h0M123.6,308.5h0M168.5,298.0h0M176.4,297.3h0M121.5,336.2h0M142.5,363.2h0M128.3,373.1h0M120.8,324.2h0M176.0,321.5h0M134.9,300.0h0M160.1,338.1h0M165.2,351.0h0M128.3,298.4h0M122.9,335.2h0M125.5,332.2h0M113.7,313.0h0M170.1,361.2h0M124.6,363.7h0M100.7,348.4h0M117.0,318.6h0M135.4,342.7h0M118.4,315.3h0M126.3,363.7h0M170.1,369.1h0M154.4,375.6h0M97.4,368.3h0M124.2,297.1h0M111.2,366.8h0M148.9,301.4h0M120.2,372.1h0M176.3,375.3h0M167.8,372.5h0M166.9,333.5h0M115.1,340.3h0M97.3,340.5h0M117.0,311.9h0M129.5,350.5h0M134.0,303.7h0M174.9,312.8h0M142.0,364.7h0M150.3,331.3h0M167.3,302.2h0M138.3,304.8h0M135.6,319.3h0M162.8,332.4h0M109.2,308.9h0M104.5,336.1h0M165.3,371.4h0M156.3,301.0h0M146.5,315.4h0M104.5,303.4h0M157.9,299.8h0M165.7,321.7h0M124.9,370.5h0M108.8,330.1h0M164.6,347.7h0M113.7,302.6h0M161.7,346.5h0M172.4,309.4h0M117.4,353.2h0M120.2,376.7h0M119.1,304.2h0M134.7,301.6h0M125.7,373.1h0M148.2,330.5h0M149.0,363.8h0M98.6,374.9h0M168.6,329.0h0M110.9,354.2h0M139.5,303.9h0M143.9,337.1h0M143.3,296.3h0M139.1,332.0h0M165.4,354.6h0M153.3,342.3h0M113.2,364.3h0M115.5,374.9h0M137.8,328.8h0M126.7,333.9h0M135.7,307.4h0M128.1,297.7h0M140.4,304.0h0M112.6,296.2h0M136.1,297.0h0M133.7,349.9h0M104.3,322.7h0M118.8,331.8h0M119.8,325.4h0M165.3,295.9h0M170.2,370.6h0M146.7,358.3h0M154.5,329.8h0M107.7,303.7h0M143.9,351.5h0M152.9,377.2h0M118.3,344.8h0M116.8,367.6h0M99.3,345.2h0M166.0,314.1h0M174.6,329.3h0M176.3,319.8h0M168.9,324.5h0M162.1,371.1h0M141.6,357.1h0M156.2,370.7h0M161.3,347.4h0M153.6,343.5h0M115.1,295.9h0M170.5,304.1h0M128.9,309.9h0M113.0,308.9h0M138.9,304.7h0M165.3,345.3h0M104.7,311.2h0M155.3,375.4h0M127.8,296.0h0M114.9,342.1h0M124.4,355.7h0M98.6,377.1h0M101.0,348.7h0M135.7,367.6h0M129.5,324.7h0M123.1,371.7h0M150.6,323.8h0M128.6,325.6h0M102.4,375.0h0M164.9,374.7h0M136.7,298.8h0M101.7,312.7h0M133.4,320.2h0M173.7,369.5h0M130.7,320.9h0M124.1,330.9h0M129.6,302.5h0M163.2,354.4h0M176.6,319.1h0M130.0,360.3h0M128.6,369.2h0M155.4,318.6h0M153.5,331.5h0M171.3,312.8h0M114.0,320.8h0M100.5,304.5h0M164.4,340.0h0M159.7,358.5h0M146.7,327.5h0M166.3,320.7h0M167.9,300.0h0M144.6,375.8h0M137.8,324.7h0M133.5,330.7h0M107.5,330.1h0M110.7,335.3h0M138.8,342.0h0M152.0,295.5h0M100.4,325.3h0M100.3,358.3h0M153.2,311.8h0M139.0,317.8h0M122.6,348.8h0M134.4,301.6h0M98.7,343.3h0M164.1,346.5h0M138.1,338.9h0M135.7,357.9h0M139.2,329.4h0M115.6,326.6h0M133.4,339.1h0M98.5,327.6h0M171.0,329.9h0M157.1,348.0h0M174.1,341.2h0M102.3,341.9h0M173.0,375.9h0M148.0,325.3h0M147.5,301.8h0M159.5,360.6h0M120.2,359.8h0M169.0,368.7h0M163.8,352.8h0M135.2,339.5h0M131.7,319.7h0M132.9,301.5h0M131.9,352.4h0M117.8,368.2h0M167.8,373.1h0M141.7,367.2h0M102.9,307.9h0M103.2,325.1h0M95.3,324.1h0M167.3,337.6h0M102.0,339.9h0M144.6,352.0h0M106.7,316.4h0M126.1,338.4h0M162.3,335.1h0M150.4,339.7h0" stroke="#4a4d80" stroke-width="1.3" stroke-linecap="round" fill="none" stroke-opacity="0.9"/>
<path d="M125.9,302.6h0M171.5,368.8h0M153.6,343.7h0M161.1,312.3h0M98.6,337.2h0M122.5,307.1h0M117.9,376.1h0M156.7,298.7h0M116.0,360.0h0M149.2,315.4h0M140.8,369.6h0M94.9,373.4h0M118.6,312.0h0M133.3,334.2h0M105.1,315.0h0M152.3,317.7h0M100.1,332.1h0M137.0,366.2h0M148.2,349.2h0M167.1,345.9h0M141.6,345.8h0M128.9,358.5h0M131.4,374.2h0M143.2,371.6h0M105.7,355.5h0M111.6,337.8h0M125.0,296.7h0M160.6,343.7h0M119.7,344.1h0M166.1,303.6h0M117.9,364.6h0M176.3,367.2h0M120.3,317.1h0M107.7,303.0h0M108.7,335.2h0M150.3,294.5h0M112.0,361.5h0M158.2,317.5h0M174.2,311.6h0M110.2,326.9h0M134.1,375.5h0M113.0,367.1h0M143.9,370.7h0M164.5,372.6h0M146.2,348.4h0M133.8,324.7h0M149.1,305.8h0M111.4,376.0h0M129.1,332.3h0M145.0,322.2h0M113.6,355.1h0M125.6,369.0h0M137.6,323.6h0M125.0,348.7h0M101.7,370.8h0M107.7,352.0h0M95.4,343.5h0M109.4,354.5h0M130.3,375.2h0M112.9,373.9h0M157.1,330.2h0M159.6,331.0h0M124.5,356.7h0M161.3,329.0h0M152.5,306.3h0M164.9,373.8h0M174.1,327.9h0M153.8,352.5h0M107.8,302.1h0M148.3,376.7h0M151.6,343.6h0M172.5,310.7h0M173.6,303.1h0M161.6,314.9h0M156.4,328.0h0M171.8,339.3h0M157.4,306.4h0M166.2,318.1h0M157.3,314.7h0M100.3,306.2h0M133.3,294.7h0M114.0,298.3h0M112.0,335.5h0M107.9,350.6h0M116.4,326.8h0M133.9,344.9h0M132.0,299.6h0M149.1,337.0h0M108.0,343.6h0M94.4,345.7h0M118.7,349.8h0M101.5,346.3h0M128.9,294.3h0M137.1,303.3h0M164.9,319.7h0M109.6,328.6h0M147.0,338.9h0M152.7,348.6h0M176.1,346.8h0M122.0,373.2h0M132.1,318.3h0M94.5,354.2h0M143.7,305.4h0M172.4,306.9h0M142.9,343.6h0M129.7,326.2h0M146.5,338.9h0M122.3,323.3h0M135.4,330.0h0M121.4,368.4h0M148.6,378.0h0M109.6,360.2h0M144.6,321.6h0M136.3,361.3h0M138.7,314.3h0M117.7,361.7h0M102.0,304.9h0M150.4,347.1h0M165.0,331.3h0M121.3,376.2h0M118.7,353.7h0M101.3,329.2h0M133.1,337.6h0M97.2,365.3h0M173.6,356.1h0M161.3,371.5h0M174.4,365.6h0M129.2,302.5h0M125.1,298.9h0M135.8,371.7h0M167.3,313.2h0M148.1,317.2h0M160.0,310.1h0M102.9,341.3h0M173.8,331.2h0M135.5,365.8h0M142.9,355.3h0M140.0,325.6h0M131.6,338.0h0M105.6,316.0h0M106.4,350.0h0M131.5,344.4h0M126.2,356.1h0M158.6,300.8h0M98.1,364.5h0M112.2,377.6h0M121.5,317.8h0M97.7,342.7h0M142.9,298.6h0M154.6,298.4h0M133.3,371.1h0M96.9,367.9h0M157.2,320.7h0M145.1,307.8h0M151.1,376.6h0M121.8,295.9h0M95.6,325.1h0M148.2,378.2h0M168.9,363.7h0M145.1,356.2h0M146.3,305.2h0M160.4,326.6h0M107.0,375.9h0M161.0,302.7h0M137.6,297.0h0M161.4,322.2h0M131.0,352.5h0M154.1,298.1h0M143.7,325.5h0M120.4,367.1h0M150.8,356.1h0M115.4,326.6h0M136.7,337.0h0M133.6,366.2h0M110.3,304.6h0M136.5,342.7h0M163.7,318.6h0M176.0,309.3h0M130.7,321.3h0M107.9,314.7h0M125.6,312.4h0M111.1,356.4h0M118.8,371.0h0M122.5,297.1h0M108.4,366.6h0M140.9,372.3h0M129.5,322.8h0M128.1,332.7h0M155.8,375.0h0M152.7,361.9h0M121.2,333.2h0M94.4,369.5h0M169.0,354.5h0M122.1,323.4h0M142.2,323.1h0M133.5,310.9h0M161.3,372.0h0M152.0,369.8h0M171.0,336.1h0M96.9,352.5h0M130.2,324.2h0M115.8,342.3h0M165.3,321.2h0M141.8,332.0h0M162.9,337.1h0M173.6,300.0h0M173.1,321.7h0M158.4,330.8h0M117.5,368.8h0M144.3,307.8h0M145.0,338.2h0M175.0,337.5h0M143.9,351.2h0M94.9,332.4h0M172.3,338.7h0M115.2,315.1h0M121.0,333.7h0M117.6,338.1h0M107.5,302.0h0M99.5,328.4h0M108.5,317.5h0M110.5,326.4h0M150.5,295.6h0M118.8,366.2h0M97.7,374.4h0M103.1,322.2h0M171.2,359.2h0M115.0,331.6h0M122.2,342.9h0M97.1,358.2h0M130.2,366.5h0M104.1,308.6h0M162.4,351.1h0M125.8,350.1h0M98.2,315.1h0M107.4,375.8h0M168.7,371.0h0M145.9,378.3h0M118.4,319.9h0M167.0,363.7h0M159.3,353.2h0M149.2,296.2h0M119.3,324.1h0M164.4,318.5h0M145.5,350.8h0M130.1,326.8h0M120.1,330.3h0M136.0,310.0h0M162.0,315.6h0M127.2,297.2h0M118.9,350.7h0M143.6,363.9h0M148.1,322.0h0M174.9,361.9h0M154.7,370.6h0M159.3,332.5h0M175.2,333.5h0M128.0,310.1h0M109.7,335.6h0M155.5,327.6h0M155.7,312.9h0M95.1,378.2h0M109.0,342.2h0M125.4,316.8h0M101.7,348.6h0M136.3,321.8h0M147.0,370.9h0M121.0,349.7h0M155.6,303.5h0M154.6,355.9h0M160.4,296.8h0M172.2,340.8h0M132.9,338.1h0M162.8,312.7h0M104.8,298.2h0M123.4,294.6h0M146.9,313.8h0M147.6,317.7h0M113.1,323.4h0M100.8,335.0h0" stroke="#2a2431" stroke-width="1.75" stroke-linecap="round" fill="none"/>
<path d="M108.5,336.5h0M106.7,309.9h0M142.3,360.7h0M143.4,303.8h0M133.3,355.9h0M149.7,366.0h0M154.9,372.8h0M111.1,332.2h0M137.3,295.8h0M97.3,310.6h0M119.4,361.7h0M112.7,345.0h0M133.8,365.2h0M103.6,307.0h0M105.0,318.1h0M120.6,319.4h0M125.5,304.2h0M97.7,308.9h0M160.1,345.6h0M147.8,363.8h0M149.0,305.1h0M136.8,332.5h0M159.1,363.4h0M155.1,338.2h0M136.5,320.6h0M132.0,297.7h0M138.9,321.5h0M169.1,373.8h0M102.4,345.2h0M120.1,354.4h0M170.6,373.3h0M116.6,320.8h0M138.8,356.5h0M99.4,331.6h0M139.4,360.8h0M163.9,348.5h0M146.3,331.0h0M155.5,332.0h0M126.1,352.6h0M161.5,372.8h0M145.2,346.2h0M100.8,373.4h0M98.3,361.7h0M97.2,342.2h0M126.0,361.4h0M98.0,339.6h0M144.1,323.1h0M122.2,367.4h0M167.6,355.6h0M149.8,336.3h0M149.4,363.2h0M99.8,296.1h0M171.6,334.9h0M117.7,311.0h0M110.0,335.2h0M96.7,311.5h0M173.6,368.1h0M168.4,316.1h0M119.1,367.6h0M159.9,318.6h0M162.0,307.9h0M176.1,351.3h0M123.8,365.6h0M149.2,359.5h0M151.9,298.1h0M165.2,377.3h0M103.1,373.2h0M172.8,372.2h0M162.0,356.3h0M105.5,372.7h0M132.6,361.6h0M118.4,367.8h0M94.5,336.4h0M165.9,348.1h0M139.5,365.6h0M159.5,324.0h0M144.7,354.9h0M159.5,304.5h0M129.6,374.6h0M97.0,342.3h0M144.0,333.9h0M110.5,324.0h0M134.2,377.4h0M153.2,299.4h0M140.4,339.1h0M172.5,374.7h0M164.5,368.0h0M153.8,365.7h0M168.9,363.4h0M116.7,344.4h0M97.9,335.3h0M133.4,362.5h0M124.0,307.7h0M114.1,372.3h0M155.2,347.0h0M103.3,352.1h0M120.6,356.1h0M162.4,363.7h0M134.1,295.8h0M168.0,312.9h0M145.1,303.1h0M149.8,315.8h0M112.7,336.4h0M132.3,360.5h0M172.8,328.1h0M114.0,369.3h0M174.3,314.4h0M117.7,330.4h0M138.9,359.9h0M132.3,354.8h0M139.8,333.7h0M138.7,372.2h0M106.0,294.5h0M120.4,359.5h0M144.6,312.7h0M148.1,370.7h0M168.9,321.3h0M170.6,309.0h0M96.0,376.1h0M142.0,360.6h0M122.0,300.9h0M102.7,314.6h0M162.8,324.4h0M97.4,314.2h0M166.4,313.7h0M166.3,343.8h0M172.1,312.9h0M131.4,369.9h0M174.2,307.9h0M104.0,372.1h0M161.4,313.7h0M154.5,328.5h0M140.0,342.8h0M171.8,339.6h0M110.4,311.7h0M121.7,299.9h0M95.3,308.4h0M110.9,347.4h0M104.8,340.2h0M169.4,300.3h0M100.5,350.7h0M173.8,313.8h0M138.9,345.8h0M99.0,303.9h0M161.4,330.5h0M163.5,336.3h0M108.0,318.1h0M97.0,301.4h0M126.3,376.8h0M146.0,334.8h0" stroke="#100c10" stroke-width="1.55" stroke-linecap="round" fill="none"/>
</g></g>
<g clip-path="url(#hc2)"><g filter="url(#hb)">
<rect x="177.6" y="292.2" width="87.50" height="88.5" fill="#958ba2"/>
<rect x="177.6" y="292.2" width="87.50" height="88.5" fill="url(#g3)"/>
<path d="M227.2,347.5h0M247.8,317.6h0M234.0,369.3h0M255.5,309.9h0M234.0,346.2h0M221.6,375.7h0M223.7,331.7h0M258.4,347.8h0M204.8,320.3h0M221.0,298.6h0M230.3,356.2h0M215.2,365.6h0M257.1,341.0h0M236.5,304.1h0M184.3,376.8h0M203.4,312.2h0M254.5,357.4h0M189.9,321.3h0M199.9,317.2h0M180.1,338.4h0M205.0,327.4h0M195.1,303.5h0M182.3,367.8h0M242.0,341.4h0M189.9,306.8h0M189.6,320.9h0M184.4,317.4h0M196.5,310.5h0M234.2,332.8h0M219.1,324.4h0M224.6,360.4h0M205.3,300.1h0M219.8,326.2h0M244.8,303.6h0M252.5,295.4h0M224.9,331.6h0M205.9,369.1h0M238.2,308.0h0M220.9,345.8h0M182.4,301.6h0M229.8,355.7h0M218.2,329.8h0M221.9,316.2h0M252.8,375.3h0M219.8,295.9h0M212.8,361.9h0M206.7,303.1h0M195.1,354.2h0M231.5,318.3h0M231.7,358.3h0M260.3,364.3h0M215.8,362.4h0M256.9,367.5h0M242.3,343.7h0M222.3,365.9h0M231.8,355.0h0M198.6,302.0h0M202.2,343.4h0M227.4,310.9h0M195.3,374.3h0M185.6,372.3h0M244.1,342.6h0M262.7,351.5h0M180.2,373.4h0M214.1,371.5h0M247.6,305.8h0M182.9,296.0h0M244.8,360.9h0M198.6,303.7h0M210.2,361.6h0M241.5,367.3h0M260.4,357.8h0M249.4,295.6h0M180.1,366.9h0M231.3,321.8h0M190.3,322.2h0M207.9,336.0h0M217.2,311.2h0M186.5,311.3h0M190.3,302.6h0M214.2,305.2h0M246.4,340.1h0M218.0,348.1h0M199.2,296.2h0M186.2,322.6h0M209.8,315.5h0M205.2,364.5h0M180.3,332.1h0M211.6,318.0h0M240.1,313.1h0M183.1,307.6h0M261.3,323.3h0M189.4,376.0h0M233.5,374.8h0M207.3,362.5h0M183.1,314.2h0M246.0,337.7h0M245.5,326.7h0M252.8,300.7h0M231.7,310.1h0M196.3,368.6h0M215.5,362.7h0M203.3,355.8h0M255.4,347.0h0M199.2,350.5h0M259.0,361.7h0M216.7,327.9h0M187.8,359.0h0M192.8,312.6h0M182.4,308.0h0M211.6,334.4h0M194.2,330.0h0M242.9,302.4h0M190.9,338.2h0M255.1,371.6h0M227.1,301.9h0M252.6,377.9h0M254.7,339.0h0M211.6,343.7h0M245.6,378.0h0M220.8,336.9h0M205.5,339.7h0M225.0,318.1h0M217.9,371.4h0M199.3,315.6h0M205.0,366.6h0M204.9,363.9h0M257.2,368.0h0M246.8,310.6h0M217.2,363.6h0M200.1,344.9h0M252.3,372.9h0M208.9,304.3h0M182.2,320.9h0M225.3,317.8h0M248.4,349.0h0M231.5,363.9h0M207.0,349.0h0M208.9,318.6h0M189.2,360.7h0M254.8,296.8h0M239.4,299.5h0M214.5,320.9h0M255.0,330.7h0M222.2,324.2h0M200.9,314.7h0M184.8,295.4h0M225.5,356.4h0M235.6,316.1h0M262.1,300.8h0M215.6,322.3h0M194.6,375.2h0M239.3,305.3h0M194.4,362.5h0M210.7,319.6h0M204.4,321.6h0M228.8,320.5h0M229.0,299.5h0M224.3,343.4h0M206.3,367.3h0M257.1,349.6h0M214.0,308.2h0M231.8,318.6h0M193.4,339.1h0M196.3,348.1h0M243.0,295.2h0M232.4,310.3h0M207.7,355.2h0M260.2,320.7h0M242.6,323.4h0M258.1,308.8h0M235.1,301.2h0M226.4,356.8h0M255.9,358.7h0M225.5,327.9h0M232.2,348.9h0M230.6,354.4h0M241.8,373.2h0M231.4,368.1h0M241.4,326.2h0M246.6,325.0h0M248.8,368.3h0M254.5,370.9h0M237.4,336.2h0M203.7,348.1h0M254.1,324.4h0M197.2,358.0h0M255.5,311.6h0M191.2,303.7h0M225.7,364.3h0M200.3,360.9h0M183.5,311.8h0M225.3,358.1h0M220.8,352.2h0M209.6,326.0h0M223.1,294.4h0M196.3,323.8h0M234.4,310.8h0M199.9,377.7h0M233.9,328.8h0" stroke="#bdbed6" stroke-width="2.8" stroke-linecap="round" fill="none" stroke-opacity="0.8"/>
<path d="M245.0,354.5h0M247.8,341.3h0M230.9,302.4h0M215.4,327.3h0M201.0,325.0h0M253.6,313.0h0M189.1,322.4h0M193.7,296.2h0M255.8,340.4h0M181.8,339.0h0M194.1,334.9h0M258.5,376.7h0M212.8,360.2h0M220.8,301.0h0M213.0,362.5h0M244.5,355.2h0M262.1,326.3h0M238.3,363.2h0M256.8,367.6h0M252.5,322.9h0M211.2,346.4h0M189.6,320.2h0M210.6,311.5h0M195.1,349.2h0M205.5,299.0h0M246.2,374.0h0M198.3,351.9h0M186.5,312.8h0M193.3,348.3h0M226.3,363.5h0M234.7,357.9h0M252.6,343.4h0M198.4,307.9h0M251.1,363.4h0M233.5,374.4h0M247.2,328.2h0M195.1,330.2h0M256.2,369.1h0M180.1,294.8h0M216.9,370.9h0M253.0,364.7h0M185.4,311.6h0M244.2,331.3h0M206.3,375.2h0M181.1,335.2h0M253.3,353.3h0M253.8,317.1h0M226.4,376.7h0M190.7,330.5h0M262.4,307.7h0M244.2,357.3h0M201.1,377.6h0M244.8,305.3h0M262.3,368.6h0M219.6,296.7h0M245.1,343.5h0M241.7,300.9h0M219.6,362.3h0M240.4,308.8h0M207.1,332.5h0M217.9,377.6h0M257.5,294.3h0M231.2,305.8h0M251.8,338.7h0M254.6,370.8h0M257.6,308.4h0M185.0,359.4h0M218.5,359.7h0M216.5,329.2h0M240.9,325.3h0M221.0,327.7h0M236.0,300.2h0M218.2,343.1h0M236.8,370.2h0M210.6,375.3h0M238.3,326.5h0M226.5,324.7h0M234.1,296.3h0M254.5,324.5h0M180.6,301.5h0M207.9,316.4h0M249.5,325.9h0M256.1,317.6h0M208.4,374.4h0M251.3,373.1h0M189.2,300.0h0M237.6,322.6h0M188.4,302.0h0M206.6,320.4h0M235.0,377.6h0M193.7,361.1h0M229.2,367.3h0M262.4,371.4h0M190.6,356.5h0M244.2,326.3h0M182.3,358.3h0M232.0,358.3h0M242.7,356.2h0M183.2,373.5h0M259.4,323.9h0M245.2,373.3h0M215.6,322.5h0M229.9,360.0h0M214.1,353.1h0M259.3,325.7h0M255.6,306.0h0M229.2,364.4h0M213.4,318.1h0M202.8,324.9h0M212.2,329.1h0M200.0,344.4h0M198.1,316.3h0M218.5,370.9h0M202.6,309.5h0M244.3,343.4h0M189.7,376.2h0M196.3,347.6h0M199.5,363.9h0M210.5,347.2h0M246.0,353.5h0M205.5,319.6h0M228.3,338.5h0M239.2,300.0h0M185.0,294.4h0M246.8,308.9h0M242.4,332.7h0M259.3,347.9h0M250.2,302.7h0M254.2,326.4h0M183.1,366.5h0M199.1,349.3h0M181.0,331.2h0M218.4,332.1h0M248.6,318.5h0M255.7,307.7h0M260.4,318.3h0M236.2,372.7h0M236.4,366.1h0M186.9,375.7h0M183.0,351.2h0M248.4,358.8h0M240.3,345.3h0M262.0,313.1h0M255.6,362.2h0M195.6,333.3h0M216.0,306.8h0M250.8,366.3h0M242.3,297.1h0M240.5,372.4h0M239.6,372.7h0M259.8,353.5h0M241.6,319.7h0M244.1,320.6h0M201.8,322.0h0M205.4,297.4h0M192.1,317.5h0M197.7,295.9h0M241.0,363.8h0M207.4,354.3h0M252.1,296.7h0M227.5,343.9h0M194.0,370.2h0M246.8,339.4h0M224.4,364.4h0M184.4,368.1h0M223.4,319.8h0M201.3,339.8h0M188.0,363.9h0M213.7,369.8h0M259.2,361.1h0M188.7,314.8h0M232.2,373.6h0M231.8,324.6h0M247.1,333.3h0M228.8,332.6h0M259.0,345.9h0M188.6,348.4h0M213.2,308.5h0M221.0,316.6h0M258.9,312.7h0M225.1,294.6h0M205.0,349.1h0M221.3,350.1h0M227.5,346.0h0M201.0,372.1h0M233.9,296.5h0M249.3,308.4h0M214.3,348.9h0M254.5,308.6h0M204.3,337.6h0M236.5,333.3h0M238.6,377.7h0M185.1,328.2h0M245.8,362.6h0M259.4,322.6h0M200.4,350.4h0M248.7,361.5h0M224.3,305.1h0M238.0,315.8h0M181.7,294.4h0M208.1,325.7h0M225.1,331.8h0M222.4,347.6h0M194.9,361.6h0M235.6,362.7h0M226.7,339.7h0M249.5,349.8h0M201.8,367.2h0M195.6,317.4h0M248.6,332.5h0M192.3,369.9h0M229.4,295.8h0M208.4,323.2h0M203.0,355.1h0M198.7,301.2h0M251.4,342.7h0M219.4,368.9h0M236.6,366.0h0M207.6,319.8h0M207.3,333.8h0M227.8,311.0h0M226.9,373.4h0M242.2,294.6h0M219.4,347.4h0M184.1,377.8h0M245.3,341.3h0M222.8,347.9h0M212.6,342.8h0M221.9,323.4h0M218.9,299.2h0M230.6,314.2h0M201.8,307.1h0M242.2,332.5h0M228.1,337.3h0M228.6,324.6h0M201.3,358.9h0M240.1,307.2h0M191.4,323.9h0M245.9,320.3h0M198.5,330.5h0M221.4,347.1h0M206.3,327.9h0M261.8,358.1h0M197.9,337.0h0M192.3,376.8h0M201.3,372.2h0M197.7,313.1h0M208.2,321.7h0M208.3,327.4h0M213.7,303.6h0M232.0,352.6h0M198.3,305.6h0M182.5,309.6h0M222.8,346.8h0M258.0,363.3h0M192.9,316.0h0M196.0,300.0h0M181.9,339.9h0M259.3,376.6h0M181.6,315.2h0M209.0,366.6h0M188.1,331.3h0M252.5,360.1h0M194.6,337.9h0M236.4,304.7h0M251.6,351.3h0M210.2,322.4h0M187.0,370.3h0M195.6,343.7h0M237.9,345.1h0M246.1,317.3h0M235.3,312.1h0M238.8,357.8h0M218.5,355.7h0M236.1,295.5h0M197.3,311.9h0M237.3,364.1h0M198.8,372.1h0M196.0,330.4h0M250.5,318.0h0M251.2,297.9h0M204.0,365.1h0M234.3,304.6h0M220.5,338.7h0M182.0,372.8h0M181.7,372.5h0M237.6,349.6h0M210.5,314.9h0M220.8,374.5h0M187.6,334.5h0M230.1,376.1h0M238.4,374.2h0M238.1,330.9h0M257.8,297.6h0M242.0,295.4h0M187.1,298.5h0M217.1,361.4h0M246.0,346.6h0M210.4,318.9h0M217.5,322.0h0M222.5,348.7h0M187.3,372.5h0M190.5,367.9h0M180.9,294.5h0M259.8,321.9h0M212.3,359.2h0M186.4,345.4h0M252.0,334.9h0M181.6,307.0h0M252.8,310.8h0M238.6,348.2h0M244.3,348.6h0M224.5,361.8h0M239.8,313.5h0M185.7,343.8h0M227.6,350.2h0M204.0,377.3h0M229.5,329.6h0M193.8,309.7h0M202.4,351.9h0M214.0,362.7h0M206.2,365.1h0M260.6,350.6h0M246.0,318.7h0M218.0,326.6h0M213.1,376.2h0M207.4,375.6h0M240.8,316.8h0M215.8,330.4h0M218.0,374.0h0M232.7,336.1h0M228.3,323.1h0M190.5,327.0h0M247.0,361.2h0M182.4,347.9h0M243.6,347.4h0M259.4,320.1h0M193.5,328.0h0M181.6,366.4h0M216.7,350.0h0M221.6,338.6h0M211.1,360.3h0M252.3,377.8h0M226.9,333.5h0M227.1,375.0h0M207.3,295.5h0M221.7,366.6h0M191.6,323.3h0M232.0,347.3h0M207.3,358.0h0M248.5,353.5h0M252.4,305.6h0M214.1,328.8h0M203.8,330.0h0M257.4,356.9h0M195.4,352.7h0M234.0,315.3h0M208.3,305.2h0M217.3,356.4h0M208.9,320.4h0M200.0,376.3h0M200.5,331.5h0M198.9,335.6h0M244.8,367.5h0M228.0,372.6h0M203.7,352.3h0M210.3,316.2h0M212.7,311.6h0M231.9,307.9h0M238.9,356.1h0M181.4,326.1h0M234.0,348.7h0M231.3,295.4h0M241.9,305.8h0M181.1,357.6h0M215.8,310.6h0M191.4,326.2h0M234.8,297.0h0M222.9,332.4h0M252.4,330.1h0M193.3,344.1h0M187.2,302.3h0M254.5,341.7h0M209.0,312.1h0M191.6,329.2h0M214.7,373.8h0M218.9,326.9h0M221.2,319.4h0M221.5,327.1h0M196.5,325.6h0M244.3,301.5h0M230.2,372.4h0M228.7,332.6h0M252.1,355.3h0M207.8,294.3h0M256.0,332.0h0M206.3,294.7h0M197.9,356.1h0M230.0,307.3h0M242.9,360.4h0M187.3,346.2h0M207.5,326.2h0M203.6,339.3h0M187.1,375.1h0M191.9,377.4h0M181.8,328.7h0M202.4,377.7h0M208.3,378.5h0M210.8,303.9h0M211.2,299.7h0M220.3,307.9h0M198.0,306.3h0M206.6,377.9h0M224.4,347.5h0M248.8,330.4h0M234.7,295.4h0M223.5,364.5h0M209.5,304.3h0M256.2,360.4h0M206.1,304.0h0" stroke="#7578a6" stroke-width="2.0" stroke-linecap="round" fill="none" stroke-opacity="0.85"/>
<path d="M211.5,334.7h0M250.9,341.6h0M223.4,373.3h0M221.4,335.2h0M231.6,341.0h0M253.2,350.8h0M213.6,311.4h0M207.4,336.4h0M192.3,309.6h0M245.4,368.5h0M199.7,364.8h0M200.8,370.2h0M202.2,339.3h0M188.7,301.0h0M217.3,344.9h0M203.5,306.0h0M257.7,321.4h0M185.4,326.3h0M198.4,359.7h0M261.2,345.3h0M206.9,339.1h0M217.3,374.8h0M209.6,357.0h0M252.6,326.2h0M253.9,342.6h0M189.8,359.5h0M262.6,315.3h0M250.6,332.5h0M236.7,308.2h0M262.6,333.6h0M258.3,306.5h0M243.2,309.0h0M187.4,367.6h0M252.3,326.6h0M224.1,296.9h0M255.9,377.6h0M198.4,345.8h0M239.3,319.1h0M219.4,333.7h0M195.7,296.1h0M261.0,373.8h0M262.9,370.7h0M199.9,310.9h0M226.0,312.0h0M223.7,307.2h0M189.9,332.9h0M191.5,342.5h0M223.4,305.4h0M252.0,341.6h0M211.9,306.4h0M180.2,360.2h0M209.0,375.6h0M208.2,347.1h0M248.8,362.9h0M249.0,295.5h0M209.0,304.2h0M202.0,362.7h0M232.2,324.1h0M197.1,300.5h0M233.8,362.4h0M253.1,342.3h0M187.7,297.1h0M213.1,331.7h0M234.5,347.1h0M254.1,316.7h0M261.6,315.4h0M184.2,325.6h0M210.1,341.7h0M226.0,378.2h0M185.9,371.0h0M243.8,366.5h0M199.5,328.1h0M223.1,358.9h0M237.9,325.6h0M232.7,331.9h0M216.1,326.5h0M211.3,341.7h0M210.7,349.4h0M245.6,318.4h0M217.6,322.1h0M254.8,372.4h0M246.6,347.3h0M196.7,316.8h0M191.0,367.8h0M261.0,300.6h0M260.2,342.8h0M253.1,314.3h0M234.9,375.4h0M230.5,335.9h0M254.3,339.1h0M186.8,331.3h0M249.2,362.6h0M234.9,317.4h0M227.2,334.5h0M259.0,299.7h0M195.8,337.4h0M197.8,312.0h0M255.2,335.0h0M229.5,334.8h0M199.1,325.6h0M235.1,357.5h0M250.3,321.2h0M181.4,350.3h0M244.8,364.4h0M249.2,320.9h0M250.4,297.4h0M200.9,364.6h0M217.2,303.8h0M204.4,345.5h0M222.7,339.4h0M239.2,371.6h0M199.0,349.8h0M227.3,329.8h0M232.8,298.6h0M247.9,338.9h0M194.2,300.2h0M190.0,337.5h0M214.1,322.5h0M227.6,302.6h0M238.0,344.6h0M223.7,330.6h0M192.2,360.5h0M204.3,328.2h0M184.2,317.4h0M213.0,302.3h0M216.9,295.4h0M188.7,351.4h0M223.7,324.4h0M204.2,304.2h0M237.9,313.6h0M207.5,336.5h0M245.1,345.6h0M208.0,359.5h0M199.0,297.0h0M252.0,361.9h0M215.5,370.3h0M201.4,324.1h0M206.6,317.1h0M257.7,298.7h0M243.3,361.0h0M247.9,320.8h0M228.9,363.9h0M242.5,307.2h0M203.6,302.1h0M197.3,376.5h0M252.7,375.0h0M240.8,324.1h0M214.3,365.7h0M222.2,360.5h0M234.2,296.4h0M234.3,368.6h0M198.7,376.2h0M241.5,328.7h0M206.8,356.0h0M219.0,368.1h0M251.4,373.4h0M210.1,317.6h0M247.4,363.5h0M191.7,370.9h0M222.1,295.7h0M200.5,337.2h0M250.8,345.8h0M201.2,339.5h0M209.4,304.3h0M184.9,363.6h0M180.3,334.1h0M235.1,332.6h0M179.8,376.3h0M212.0,313.1h0M247.6,345.2h0M205.2,366.3h0M252.7,367.0h0M211.1,322.6h0M214.2,347.0h0M256.7,376.2h0M236.4,369.8h0M217.5,321.2h0M183.5,335.9h0M218.3,366.3h0M222.1,374.0h0M247.0,374.8h0M200.0,358.4h0M199.7,319.6h0M209.3,351.1h0M202.0,320.7h0M194.8,307.7h0M236.3,367.7h0M261.8,351.5h0M217.4,365.5h0M246.7,319.2h0M201.8,308.8h0M200.6,295.7h0M213.3,346.3h0M257.9,307.2h0M186.8,332.8h0M216.9,312.5h0M235.1,319.0h0M189.1,328.3h0M236.1,335.5h0M233.6,377.0h0M217.9,345.6h0M263.1,338.7h0M232.3,344.6h0M233.4,361.9h0M202.0,298.3h0M228.7,317.7h0M238.5,339.2h0M250.4,356.6h0M212.5,343.4h0M207.4,362.8h0M251.6,310.4h0M235.5,371.1h0M193.1,319.6h0M196.6,302.4h0M253.7,360.1h0M227.3,339.5h0M206.8,310.2h0M224.1,327.2h0M257.8,296.6h0M232.1,360.3h0M247.5,350.9h0M194.9,352.0h0M254.8,304.5h0M255.0,297.8h0M223.0,365.4h0M191.9,363.1h0M185.0,370.8h0M188.9,354.8h0M261.2,309.8h0M201.4,371.7h0M260.4,363.6h0M247.6,337.9h0M219.7,362.4h0M200.1,309.6h0M180.7,339.6h0M237.8,356.0h0M218.8,297.7h0M183.1,321.8h0M223.7,350.5h0M262.6,362.8h0M246.1,359.7h0M195.5,327.1h0M259.9,368.1h0M216.0,360.4h0M184.7,335.5h0M235.6,327.5h0M207.0,358.7h0M256.6,329.5h0M192.4,314.0h0M230.6,322.6h0M214.1,333.1h0M260.9,304.9h0M262.6,302.4h0M246.9,366.2h0M246.5,350.3h0M200.7,363.6h0M201.0,354.6h0M213.1,378.2h0M199.1,363.4h0M244.7,359.5h0M198.9,334.1h0M203.7,352.7h0M207.7,322.3h0M198.3,367.9h0M195.1,337.0h0M182.6,353.3h0M224.4,300.1h0M182.6,302.2h0M185.4,295.4h0M219.0,336.9h0M180.1,352.0h0M243.9,376.3h0M259.2,346.5h0M262.8,323.8h0M214.3,356.6h0M215.3,370.7h0M205.8,353.4h0M200.9,368.3h0M249.0,346.8h0M235.0,339.8h0M208.3,301.6h0M252.6,314.8h0M224.1,375.1h0M257.4,344.5h0M250.5,294.6h0M186.9,323.2h0M196.3,306.2h0M211.8,349.7h0M203.6,334.3h0M192.5,338.6h0M215.4,324.1h0M198.1,308.9h0M211.0,298.8h0M184.2,365.3h0M192.0,303.7h0M251.1,300.7h0M226.6,328.1h0M207.9,310.1h0M251.4,328.2h0M256.4,346.1h0M221.0,322.2h0M180.7,318.6h0M212.7,355.8h0M258.3,327.1h0M214.3,356.1h0M199.0,348.2h0M208.6,301.9h0M248.6,295.9h0M249.0,303.8h0M193.6,369.8h0M204.0,373.3h0M187.2,341.8h0M250.5,306.6h0M216.9,342.5h0M202.6,330.1h0M210.7,304.3h0M191.1,377.6h0M226.5,341.4h0M190.2,356.3h0M207.8,341.8h0M221.0,371.0h0M211.1,324.4h0M206.3,374.8h0M230.4,309.5h0M255.4,372.3h0M220.2,325.8h0M236.5,350.9h0M215.7,355.3h0M206.4,357.2h0M217.9,344.0h0M261.3,318.4h0M254.2,364.5h0M215.8,344.4h0M224.8,353.1h0M183.3,297.5h0M205.5,305.2h0M234.8,363.9h0M249.2,355.0h0M196.5,376.5h0M223.6,374.2h0M182.9,339.3h0M201.9,343.8h0M190.4,376.6h0M195.3,372.1h0M184.2,354.1h0M206.7,375.0h0M220.6,362.0h0M193.5,341.6h0M181.8,324.8h0M224.0,307.4h0M248.1,314.6h0M191.6,320.1h0M222.3,337.7h0M195.9,344.6h0M250.2,339.7h0M250.0,344.4h0M209.2,306.0h0M260.3,377.3h0M252.5,351.8h0M206.1,301.4h0M243.9,340.4h0M220.1,314.6h0M205.5,367.6h0M260.3,342.3h0M217.9,376.4h0M184.1,338.4h0M255.6,361.1h0M257.8,372.8h0M240.9,309.0h0M246.8,363.4h0M247.5,315.1h0M183.4,296.7h0M190.2,330.0h0M256.8,346.7h0M208.7,294.9h0M226.8,297.9h0M198.0,357.9h0M187.8,345.8h0M209.5,319.2h0M223.6,347.2h0M196.0,372.8h0M231.3,308.1h0M186.3,342.1h0M205.9,332.3h0M195.1,368.9h0M207.5,366.3h0M189.8,343.1h0M186.9,341.8h0M243.9,338.0h0M205.9,294.2h0M257.2,326.6h0M239.6,358.9h0M231.3,296.0h0M251.8,365.9h0M245.0,362.7h0M206.4,378.4h0M182.6,336.3h0M224.5,361.8h0M197.2,366.7h0M225.2,337.2h0M229.4,312.6h0M221.7,314.1h0M256.2,374.0h0M193.2,354.4h0M217.2,348.6h0M231.3,374.8h0M192.6,321.4h0M244.4,311.6h0M220.6,321.2h0M216.6,299.1h0M219.5,322.4h0M208.2,308.9h0M193.5,321.7h0M207.1,330.6h0M184.3,329.2h0M209.8,325.7h0M247.9,333.9h0M209.3,331.4h0M228.1,369.4h0M204.1,325.2h0M195.2,331.2h0M251.3,329.3h0M206.7,363.5h0M190.9,305.3h0M236.4,346.5h0M231.6,305.5h0M208.2,339.9h0M242.4,345.4h0M206.1,358.7h0M222.3,321.3h0M205.0,334.5h0M240.5,375.8h0M209.0,365.8h0M209.1,330.5h0M203.8,326.4h0M182.1,356.0h0M253.2,336.9h0M238.5,341.4h0M248.9,322.3h0M217.4,302.5h0M193.6,349.8h0M251.5,366.6h0M182.7,373.5h0M188.9,298.4h0M220.2,311.8h0M246.3,372.9h0M248.1,348.1h0M255.0,360.2h0M206.5,361.5h0M182.7,322.7h0M237.8,378.1h0M214.6,302.2h0M210.3,374.0h0M259.3,357.6h0M193.3,327.9h0M245.5,378.4h0M257.8,378.4h0M230.6,317.4h0M192.8,321.6h0M184.3,336.7h0M187.0,348.7h0M207.6,354.4h0M258.8,354.0h0M237.0,296.2h0M243.7,310.9h0M181.1,363.9h0M195.8,356.3h0M200.3,324.3h0M247.5,353.1h0M240.2,353.1h0M260.9,376.6h0M187.1,366.0h0M207.2,344.2h0M219.0,353.6h0M206.6,361.5h0M249.4,315.8h0M191.3,361.3h0M230.8,294.3h0M221.0,358.8h0M256.4,321.1h0M211.4,355.7h0M187.7,299.4h0M189.3,374.2h0M181.3,312.6h0M213.5,320.8h0M203.5,316.2h0M253.4,373.7h0M255.7,329.7h0M252.0,366.8h0M199.2,328.7h0M241.6,296.1h0M186.7,318.1h0M236.7,364.1h0M199.6,355.2h0M202.5,327.1h0M230.7,344.2h0M205.0,359.7h0M211.2,309.4h0M232.7,362.5h0M219.0,319.2h0M236.5,376.1h0M187.1,295.4h0M236.2,364.0h0M262.8,296.6h0M248.6,347.3h0M246.0,376.5h0M259.0,294.8h0M229.0,371.0h0M196.8,345.1h0M210.5,360.0h0M193.7,294.9h0M180.5,339.1h0M252.7,376.5h0M210.1,342.9h0M188.7,348.1h0M250.6,308.4h0M193.4,298.1h0M248.1,297.4h0M209.5,339.4h0M222.6,376.2h0M245.6,323.8h0M226.1,351.5h0M180.0,311.8h0M197.3,357.1h0M204.8,331.6h0M203.8,318.0h0M206.4,373.2h0M212.8,377.1h0M180.3,329.3h0M246.0,305.0h0M256.4,376.3h0M258.6,314.8h0M187.1,327.1h0M197.8,319.6h0M201.9,308.5h0M254.0,299.8h0M186.0,343.0h0M220.2,346.8h0M253.6,338.7h0M181.4,303.1h0M187.1,311.3h0M248.4,328.2h0M261.1,349.3h0M214.5,316.8h0M225.5,369.0h0M186.3,299.3h0M216.4,374.6h0M236.9,332.9h0M192.1,301.6h0M257.8,322.7h0M249.9,369.5h0M223.0,301.3h0M226.1,361.3h0M199.3,345.0h0M217.7,370.6h0M220.1,311.9h0M241.0,327.4h0M196.7,343.3h0M216.5,372.8h0M199.2,369.7h0M183.6,312.6h0M182.6,345.2h0M247.5,343.0h0M196.1,302.3h0M259.0,331.1h0M192.3,298.9h0M253.8,304.0h0M259.6,352.1h0M196.6,305.7h0M225.1,374.1h0M193.0,353.3h0M246.9,343.3h0M215.3,328.0h0M248.7,342.7h0M180.5,362.3h0M197.1,371.1h0M246.9,307.2h0M246.3,326.3h0M203.3,339.2h0M203.2,370.1h0M255.9,310.0h0M221.5,320.3h0M184.5,367.0h0M242.6,339.5h0M235.5,369.1h0M210.1,341.3h0M253.7,321.3h0M214.6,336.0h0M182.7,327.1h0M260.3,326.9h0M252.6,325.9h0M181.2,307.2h0M188.3,347.2h0M244.9,305.0h0M220.0,357.9h0M230.3,336.0h0M248.5,354.2h0M232.3,309.1h0M202.4,349.1h0M249.9,340.9h0M223.2,352.0h0M244.9,305.9h0M254.6,309.0h0M212.2,312.3h0M196.6,369.5h0M260.1,375.3h0M241.8,299.9h0M198.6,373.8h0M246.8,348.0h0M215.9,357.8h0M207.1,339.8h0M249.8,316.3h0M242.9,294.3h0M214.9,300.6h0M259.1,314.9h0M260.8,364.7h0M221.3,303.3h0M207.9,342.5h0M213.8,361.7h0M233.3,366.5h0M190.4,371.7h0M184.8,326.6h0M206.9,303.7h0M246.0,329.5h0M207.1,367.4h0M236.6,376.9h0M188.4,321.6h0M252.2,353.5h0M226.9,365.1h0M216.7,344.0h0M222.4,361.3h0M224.3,346.2h0M182.9,355.1h0M232.5,371.9h0M261.9,350.8h0M254.7,294.8h0M184.2,364.2h0M207.3,324.9h0M254.1,297.2h0M189.1,339.0h0" stroke="#6b4b46" stroke-width="1.9" stroke-linecap="round" fill="none" stroke-opacity="0.9"/>
<path d="M188.6,333.4h0M219.5,378.0h0M201.7,337.1h0M261.9,322.4h0M221.8,361.3h0M183.2,328.3h0M251.6,320.2h0M188.4,321.6h0M203.7,344.6h0M245.7,370.3h0M215.2,317.6h0M232.5,316.4h0M189.0,352.1h0M216.1,308.7h0M261.6,341.1h0M207.7,373.5h0M188.6,345.3h0M260.7,373.4h0M231.0,352.2h0M204.4,318.3h0M187.1,356.2h0M203.8,337.2h0M181.3,365.1h0M190.7,363.4h0M202.5,365.7h0M205.2,299.1h0M228.3,356.4h0M246.9,371.7h0M251.5,328.9h0M207.5,350.0h0M260.3,315.3h0M254.1,331.8h0M217.4,342.1h0M193.7,324.7h0M194.9,301.4h0M215.6,333.4h0M258.9,338.9h0M228.2,374.0h0M237.1,349.4h0M236.7,300.7h0M211.4,323.7h0M232.5,361.7h0M254.1,377.9h0M239.7,322.2h0M214.1,321.6h0M213.9,301.8h0M243.8,362.2h0M221.1,366.6h0M192.9,353.9h0M184.1,304.1h0M212.4,306.5h0M254.5,312.8h0M195.5,306.9h0M223.1,320.6h0M252.2,313.4h0M217.6,335.2h0M262.0,377.9h0M251.7,333.3h0M197.2,329.7h0M245.6,340.4h0M229.6,371.5h0M260.3,325.0h0M263.0,294.8h0M255.3,345.6h0M215.4,366.2h0M210.7,355.7h0M205.0,341.2h0M180.6,354.0h0M249.9,372.0h0M192.6,331.0h0M195.8,324.0h0M260.1,317.9h0M251.3,299.8h0M250.2,347.1h0M242.6,373.3h0M184.5,299.2h0M205.3,311.3h0M230.8,373.7h0M222.3,345.9h0M182.9,317.6h0M244.3,355.8h0M192.0,330.4h0M222.2,336.6h0M232.6,306.9h0M214.6,316.4h0M241.6,322.6h0M179.6,307.5h0M221.6,351.0h0M208.5,319.7h0M189.2,377.5h0M251.1,314.1h0M238.6,324.0h0M255.2,347.9h0M180.3,362.3h0M182.8,299.2h0M183.0,300.2h0M232.0,362.1h0M190.3,358.1h0M225.4,305.3h0M257.7,301.1h0M242.1,359.9h0M190.8,326.6h0M213.8,348.4h0M235.6,352.5h0M203.6,366.1h0M195.9,336.0h0M235.1,330.8h0M238.5,323.2h0M214.7,370.9h0M202.1,298.7h0M250.1,348.2h0M234.2,345.6h0M214.8,319.5h0M239.1,303.2h0M223.6,307.1h0M188.8,342.8h0M247.7,368.5h0M255.7,343.8h0M233.5,352.7h0M244.8,298.2h0M261.2,364.3h0M189.5,372.8h0M200.4,354.0h0M233.9,329.1h0M246.0,359.1h0M202.9,342.9h0M209.7,357.4h0M230.8,328.4h0M248.1,299.4h0M242.6,303.6h0M189.3,366.2h0M196.4,296.3h0M219.7,372.9h0M238.5,321.0h0M217.8,326.9h0M217.2,310.0h0M180.6,341.1h0M221.7,364.9h0M202.0,362.5h0M220.7,353.6h0M196.9,332.4h0M203.5,360.0h0M197.7,332.2h0M211.7,297.6h0M227.4,301.1h0M206.2,345.4h0M241.0,299.2h0M259.0,314.3h0M253.7,367.3h0M189.5,325.8h0M207.5,370.4h0M226.6,369.3h0M251.2,298.9h0M235.3,362.9h0M204.0,343.0h0M200.5,359.3h0M219.0,363.4h0M187.5,326.0h0M221.5,360.3h0M225.0,365.3h0M195.5,313.6h0M225.8,315.2h0M182.1,340.3h0M197.6,341.2h0M260.6,308.3h0M219.7,315.2h0M181.0,316.0h0M220.5,350.3h0M190.0,364.3h0M202.1,306.2h0M254.3,367.6h0M198.9,360.3h0M240.4,304.5h0M230.0,302.1h0M184.9,311.0h0M246.6,324.2h0M251.8,335.5h0M224.4,340.4h0M239.2,321.1h0M207.6,338.8h0M209.4,371.2h0M180.3,312.1h0M183.2,348.7h0M243.0,369.8h0M236.0,324.6h0M252.9,298.5h0M208.7,348.8h0M239.6,347.4h0M208.2,300.6h0M250.7,310.2h0M179.9,302.7h0M182.5,371.1h0M261.8,362.7h0M220.6,361.8h0M195.8,344.1h0M191.8,317.9h0M231.0,337.9h0M232.1,370.2h0M193.0,323.1h0M194.1,317.2h0M209.7,337.4h0M249.4,350.8h0M254.7,320.0h0M247.3,343.6h0M235.2,323.0h0M202.7,318.6h0M261.0,376.3h0M215.9,353.0h0M183.4,299.2h0M193.0,340.8h0M201.9,333.4h0M247.8,312.3h0M222.4,370.6h0M212.2,355.7h0M242.2,297.3h0M214.5,320.6h0M213.7,331.6h0M229.6,330.8h0M254.4,348.6h0M261.0,308.3h0M225.6,370.6h0M195.4,328.9h0M223.0,330.7h0M214.7,327.3h0M256.3,326.4h0M185.4,297.0h0M207.9,332.2h0M235.7,360.3h0M243.4,375.3h0M207.4,335.3h0M259.0,365.4h0M214.3,373.1h0M256.6,298.8h0M234.1,321.7h0M198.4,343.8h0M192.0,368.5h0M183.9,311.2h0M191.7,354.7h0M202.3,351.9h0M250.3,306.4h0M243.7,373.1h0M247.3,322.6h0M220.9,313.7h0M258.8,299.0h0M192.9,298.2h0M249.0,368.0h0M220.9,360.4h0M206.8,306.7h0M259.0,342.4h0M259.8,366.1h0M250.8,344.4h0M214.3,345.8h0M259.5,370.3h0M190.0,320.6h0M256.6,361.2h0M182.5,361.9h0M216.7,345.1h0M228.5,338.9h0M243.7,375.5h0M229.2,323.6h0M219.0,300.0h0M189.3,319.9h0M192.7,338.2h0M222.6,311.1h0M199.1,302.2h0M193.6,343.3h0M192.1,326.1h0M211.8,318.0h0M194.0,317.8h0M201.5,294.3h0M216.6,339.6h0M242.6,348.1h0M182.3,373.2h0M226.3,371.5h0M206.3,321.5h0M199.0,299.8h0M200.3,363.7h0M205.2,333.3h0M185.0,362.6h0M181.5,338.5h0M184.9,321.7h0M251.2,373.8h0M196.5,294.5h0M186.9,355.7h0M235.1,335.8h0M220.4,296.1h0M233.5,341.1h0M215.3,295.3h0M206.0,338.2h0M260.7,365.8h0M257.3,347.7h0M210.4,336.7h0M240.2,374.6h0M183.5,359.0h0M244.4,295.6h0M243.1,375.5h0M221.7,320.9h0M191.6,345.1h0M202.9,310.5h0M229.1,375.5h0M210.9,309.2h0M218.7,338.7h0M234.4,377.1h0M187.7,352.1h0M259.8,327.9h0M183.2,328.9h0M195.0,343.6h0M254.2,338.9h0M237.7,326.0h0M218.8,335.0h0M226.0,309.0h0M259.4,344.0h0M194.0,338.5h0M204.4,329.5h0M200.6,304.2h0M258.2,306.5h0M202.9,362.6h0M240.5,335.2h0M186.6,330.2h0M261.4,319.9h0M210.5,335.6h0M232.0,316.2h0M220.4,321.0h0M196.4,369.9h0M184.8,349.6h0M223.8,334.2h0M188.7,331.8h0M188.2,338.2h0M249.0,344.3h0M203.4,309.8h0M242.9,328.0h0M188.4,330.9h0M186.4,305.8h0M248.5,344.9h0M217.9,358.5h0M190.8,329.6h0M196.1,353.3h0M194.0,325.6h0M191.6,305.3h0M186.5,376.8h0M262.3,339.7h0M184.5,317.5h0M243.7,300.3h0M203.5,308.0h0M180.1,364.9h0M198.4,310.2h0M206.5,296.9h0M228.1,329.3h0M222.0,362.3h0M198.5,311.2h0M193.5,299.2h0M258.3,362.6h0M259.3,360.0h0M245.0,295.2h0M226.0,364.4h0M226.6,320.5h0M180.8,347.7h0M228.3,317.7h0M196.4,307.4h0M243.7,295.4h0M233.0,349.3h0M188.4,322.9h0M211.0,348.3h0M258.2,336.5h0M232.4,375.5h0M208.2,307.9h0M236.3,374.8h0M197.3,317.3h0M209.6,376.0h0M184.2,308.8h0M189.8,351.4h0M239.7,309.9h0M191.6,376.3h0M218.2,365.7h0M254.1,310.2h0M204.3,322.5h0M208.3,357.5h0M244.5,344.1h0M215.3,359.2h0M250.2,344.7h0M203.1,357.5h0M212.7,371.6h0M224.6,368.3h0M242.3,369.3h0M261.5,367.7h0M212.7,352.5h0M186.0,299.8h0M222.5,369.3h0M200.5,302.2h0M221.7,361.5h0M193.3,300.0h0M180.1,301.8h0M248.9,350.9h0M235.9,316.6h0M242.9,373.2h0M260.1,335.0h0M196.8,370.1h0M198.2,312.3h0M229.6,362.7h0M200.1,317.1h0M261.4,313.9h0M208.1,349.1h0M261.0,320.3h0M191.2,350.8h0M193.7,350.9h0M258.3,315.7h0M231.0,323.2h0M247.6,370.3h0M184.5,353.0h0M188.6,331.4h0M259.6,334.0h0M261.4,302.9h0M212.5,344.5h0M253.8,304.7h0M230.6,322.5h0M228.8,378.1h0M210.5,340.7h0M231.4,316.3h0M197.4,319.1h0M179.9,340.0h0M196.1,357.1h0M201.9,370.0h0M244.0,355.5h0M188.6,342.9h0M262.5,321.3h0M198.0,298.8h0M196.3,306.4h0M241.1,374.5h0M250.5,356.2h0M248.3,360.9h0M256.6,376.8h0M179.9,353.8h0M196.6,362.2h0M191.5,366.8h0M254.9,373.3h0M219.2,314.4h0M256.5,311.5h0M240.9,295.1h0M220.9,297.2h0M233.6,336.5h0M204.1,359.1h0M255.3,352.0h0M250.3,335.7h0M251.9,308.5h0M195.7,304.1h0M261.6,303.3h0M262.5,326.0h0M236.3,362.6h0M260.2,365.1h0M203.7,311.5h0M225.0,336.2h0M205.9,295.5h0M216.5,350.8h0M242.4,359.8h0M180.9,351.2h0M242.5,351.2h0M220.9,352.5h0M236.7,340.3h0M229.6,357.5h0M182.5,329.6h0M207.2,338.9h0M195.3,356.1h0M216.9,304.2h0M202.0,345.9h0M215.3,307.4h0M244.5,343.5h0M187.0,363.4h0M228.7,317.0h0M200.8,310.1h0M228.5,339.6h0M218.0,300.2h0M183.4,357.3h0M236.6,312.1h0M230.0,305.0h0M202.3,321.6h0M255.7,370.1h0M231.3,321.4h0M224.6,333.6h0M203.1,355.1h0M257.6,353.9h0M208.1,366.7h0M253.0,319.8h0M194.6,371.4h0M208.9,377.9h0M182.0,361.9h0M204.1,339.7h0M220.9,331.3h0M210.6,371.6h0M259.7,354.9h0M212.6,371.9h0M248.5,325.4h0M212.4,371.9h0M216.4,299.3h0M190.8,335.1h0M202.9,336.6h0M223.7,300.4h0M202.5,321.1h0M253.7,351.1h0M244.9,374.7h0M220.1,338.2h0M208.0,324.3h0M212.3,338.4h0M199.3,299.2h0M224.8,368.0h0M207.5,355.3h0M262.5,325.5h0M181.5,331.8h0M213.4,341.9h0M184.9,339.3h0M204.6,359.2h0M195.5,319.1h0M245.7,369.3h0M181.1,349.2h0M218.6,317.9h0M213.8,309.1h0M189.1,314.3h0M203.5,300.4h0M214.8,375.8h0M248.1,358.8h0M191.2,348.1h0M223.6,346.5h0M194.8,352.4h0M254.0,359.0h0M219.5,361.0h0M234.5,354.8h0M206.8,338.5h0M202.3,372.9h0M199.8,333.7h0M238.2,373.4h0M218.4,302.3h0M256.2,326.0h0M249.6,366.6h0M218.3,354.4h0M200.6,319.4h0M183.3,325.2h0M254.4,361.3h0M229.5,339.3h0M246.8,301.3h0M261.2,325.3h0M226.9,370.1h0M224.8,360.7h0M261.6,322.8h0M239.6,341.7h0M234.8,325.8h0M182.5,302.7h0M225.4,366.8h0M198.6,340.7h0M209.4,373.8h0M188.9,319.0h0M218.7,318.9h0M236.0,348.4h0M255.1,340.5h0M208.5,307.8h0M188.8,369.8h0M185.1,331.9h0M195.3,314.6h0M258.5,296.6h0M220.9,337.6h0M196.3,366.8h0M252.3,359.0h0M199.8,368.6h0M254.0,354.3h0M203.7,354.3h0M239.4,362.0h0M188.2,374.6h0M215.2,306.8h0M228.9,315.5h0M208.8,337.5h0M233.2,363.6h0M217.1,316.7h0M260.9,374.3h0M186.4,322.2h0M260.4,345.7h0M216.9,341.8h0M183.6,340.0h0M200.4,346.7h0M181.1,332.1h0M192.3,377.6h0M231.5,326.3h0M255.2,369.9h0M249.9,306.6h0M238.0,297.2h0M243.9,373.8h0M200.2,340.4h0M260.1,342.2h0M221.4,295.4h0M251.1,334.0h0M261.8,324.8h0M202.2,298.4h0M210.6,322.0h0M256.2,302.2h0M199.4,375.5h0M207.2,330.2h0M203.2,299.8h0M249.4,359.7h0M196.8,313.6h0M206.5,362.5h0M256.4,294.7h0M206.1,302.6h0M188.8,358.8h0" stroke="#331c1a" stroke-width="1.75" stroke-linecap="round" fill="none"/>
<path d="M209.0,314.5h0M181.1,350.5h0M262.3,300.9h0M206.4,350.2h0M218.5,371.4h0M221.4,340.5h0M261.7,312.2h0M249.6,295.8h0M191.5,307.4h0M206.1,304.0h0M229.3,367.3h0M261.5,337.6h0M188.4,367.1h0M194.8,340.6h0M219.5,327.5h0M243.7,295.8h0M213.2,376.4h0M183.4,328.6h0M234.6,374.9h0M180.7,334.8h0M244.0,335.2h0M241.3,295.0h0M191.9,303.3h0M253.6,354.1h0M246.1,299.1h0M193.7,310.5h0M185.7,329.9h0M246.7,338.1h0M199.5,336.7h0M245.1,340.9h0M192.0,362.0h0M235.6,318.0h0M231.2,313.8h0M203.4,351.7h0M242.4,301.8h0M203.3,359.6h0M213.3,342.9h0M253.3,308.5h0M197.3,345.1h0M196.9,321.0h0M233.9,340.2h0M211.2,311.8h0M261.0,376.8h0M233.0,362.6h0M246.8,308.5h0M249.5,335.5h0M244.9,372.9h0M231.9,373.0h0M180.7,344.7h0M192.3,337.0h0M186.4,294.5h0M207.5,295.8h0M228.4,353.4h0M184.8,376.8h0M205.9,360.5h0M252.3,339.4h0M200.2,311.2h0M243.6,353.7h0M205.6,358.7h0M255.6,294.4h0M234.9,323.4h0M180.2,357.7h0M192.6,337.0h0M204.8,299.9h0M246.9,320.6h0M191.4,370.0h0M236.0,371.3h0M210.0,366.4h0M224.8,319.1h0M247.2,377.9h0M241.4,365.8h0M259.1,322.4h0M242.3,331.1h0M243.2,358.2h0M253.0,333.8h0M254.6,326.1h0M198.5,366.1h0M223.5,360.0h0M182.7,317.2h0M195.0,336.0h0M200.7,294.6h0M233.4,308.8h0M241.9,332.2h0M226.7,360.3h0M217.0,353.8h0M200.3,307.1h0M244.5,321.8h0M252.1,359.7h0M182.8,373.3h0M216.6,315.3h0M254.2,325.6h0M251.0,298.7h0M191.7,333.4h0M184.8,322.8h0M214.7,323.9h0M248.7,315.0h0M243.2,335.3h0M227.6,330.5h0M217.2,311.7h0M222.0,320.2h0M227.7,296.8h0M185.1,305.1h0M191.4,372.6h0M226.4,323.6h0M223.6,336.7h0M206.6,348.5h0M237.7,311.4h0M201.6,371.8h0M201.0,356.2h0M261.9,326.7h0M240.9,334.7h0M220.2,297.8h0M241.3,362.8h0M193.8,308.7h0M210.2,360.3h0M261.1,354.7h0M235.4,294.7h0M225.5,376.2h0M237.8,375.1h0M214.4,364.6h0M204.6,317.0h0M189.6,327.3h0M209.8,355.1h0M197.5,312.5h0M188.8,340.2h0M201.5,310.2h0M221.8,337.5h0M207.5,334.0h0M240.9,354.3h0M227.3,371.8h0M241.7,335.2h0M232.7,307.9h0M245.2,298.4h0M206.8,351.6h0M254.4,314.3h0M192.5,323.3h0M225.9,320.3h0M250.1,305.5h0M190.9,375.7h0M185.2,358.6h0M223.3,308.7h0M256.7,374.3h0M234.7,334.8h0M226.0,349.6h0M218.2,331.4h0M253.0,355.0h0M206.4,344.8h0M197.1,323.2h0M194.5,343.9h0M212.4,368.8h0M190.8,327.0h0M207.7,374.1h0M189.3,372.9h0M215.2,316.6h0M204.7,304.2h0M183.0,356.2h0M210.6,377.6h0M261.1,335.2h0M236.9,309.8h0M254.8,355.9h0M210.3,335.9h0M181.4,350.6h0M261.0,341.3h0M241.2,366.9h0M210.6,348.1h0M240.0,324.3h0M191.6,305.0h0M224.4,315.6h0M192.1,313.8h0M208.7,301.2h0M226.7,365.5h0M182.8,358.2h0M209.2,299.5h0M244.8,373.9h0M221.0,307.7h0M258.0,320.7h0M181.2,357.9h0M213.3,318.2h0M254.9,299.2h0M227.3,322.0h0M185.2,310.4h0M183.8,307.7h0M202.3,334.9h0M213.8,318.7h0M199.7,302.4h0M185.2,346.9h0M190.4,318.9h0M257.0,375.7h0M255.5,309.2h0M235.4,368.3h0M193.4,299.4h0M261.4,372.0h0M242.3,371.5h0M210.4,320.5h0M224.8,378.5h0M207.7,320.4h0M208.2,308.1h0M229.4,376.5h0M196.7,364.6h0M230.8,357.9h0M234.4,354.2h0M198.5,315.8h0M234.2,297.1h0M214.1,346.8h0M231.2,332.1h0M261.1,377.7h0M255.1,320.0h0M241.1,331.4h0M220.1,311.5h0M262.8,366.3h0M192.5,324.9h0M241.8,352.5h0M189.3,332.5h0M219.7,295.7h0M186.0,308.0h0M234.2,327.1h0M243.9,309.4h0M215.7,345.1h0M188.8,368.4h0M253.7,296.8h0" stroke="#40447e" stroke-width="1.2" stroke-linecap="round" fill="none"/>
</g></g>
<g clip-path="url(#hc3)"><g filter="url(#hb)">
<rect x="264.1" y="292.2" width="87.60" height="88.5" fill="#84493a"/>
<path d="M280.9,313.2h0M309.0,377.6h0M318.4,375.9h0M334.6,365.0h0M279.2,313.0h0M336.4,364.2h0M298.0,375.4h0M323.9,356.2h0M276.9,310.0h0M319.5,320.2h0M337.8,372.2h0M302.0,373.6h0M319.7,308.9h0M284.9,330.4h0M294.5,336.1h0M306.0,373.7h0M346.6,298.6h0M307.6,373.8h0M268.6,295.1h0M316.2,370.6h0M317.5,377.4h0M293.3,317.4h0M325.1,368.0h0M297.2,300.8h0M319.1,371.2h0M331.7,340.2h0M348.7,374.4h0M323.8,375.1h0M309.1,376.1h0M272.6,352.8h0M276.7,315.7h0M286.0,368.5h0M344.1,375.5h0M344.7,301.1h0M294.3,316.7h0M332.5,377.2h0M321.8,295.6h0M343.7,376.6h0M289.9,315.1h0M297.3,376.0h0M344.3,362.9h0M340.4,363.8h0M280.2,321.4h0M324.9,324.9h0M323.7,307.7h0M322.4,370.8h0M328.9,371.8h0M323.9,337.7h0M322.8,324.1h0M335.3,295.2h0M308.3,371.6h0M293.9,344.5h0M330.3,376.6h0M328.7,375.9h0M296.5,375.0h0M318.5,306.5h0M336.8,377.2h0M328.0,376.4h0M274.5,327.7h0M320.2,319.4h0M349.3,359.6h0M322.0,320.6h0M311.9,319.4h0M333.3,364.7h0M323.1,367.2h0M336.0,369.2h0M310.4,372.8h0M349.4,377.8h0M341.4,378.5h0M298.1,356.3h0M340.6,378.2h0M347.5,369.4h0M315.7,373.2h0M325.5,373.8h0M348.0,366.5h0M322.5,376.7h0M269.3,335.6h0M277.5,333.1h0M319.2,318.5h0M301.0,377.0h0M300.0,362.3h0M275.6,332.9h0M275.7,305.1h0M337.2,373.8h0M306.3,310.1h0M308.6,318.6h0M295.7,374.9h0M267.9,331.4h0M330.7,371.1h0M309.1,376.2h0M301.0,375.8h0M341.6,376.3h0M317.3,337.0h0M315.3,314.9h0M315.6,296.7h0M283.5,313.8h0M349.6,354.4h0M333.7,364.5h0M326.7,373.7h0M320.1,297.5h0M326.7,370.8h0M294.3,370.7h0M336.1,362.9h0M335.5,376.0h0M295.6,376.5h0M294.1,375.8h0M326.0,316.5h0M284.2,374.1h0M266.4,339.8h0M289.4,351.0h0M313.7,311.2h0M323.6,376.4h0M348.9,366.5h0M321.4,312.6h0M275.5,335.8h0M334.2,318.2h0M297.8,334.4h0M349.4,333.7h0M342.9,354.6h0M286.4,364.2h0M328.2,366.8h0M333.4,374.2h0M308.4,376.8h0M326.4,375.6h0M344.1,360.7h0M309.2,312.8h0M343.4,373.2h0M321.1,373.9h0M316.5,371.0h0M334.9,376.7h0M329.5,365.6h0M296.5,375.5h0M330.4,339.8h0M330.9,369.3h0M342.3,365.9h0M276.5,332.0h0M299.1,368.8h0M338.4,339.8h0M266.7,333.7h0M333.1,342.1h0M301.9,309.0h0M285.7,345.1h0M299.8,332.1h0M337.6,301.2h0M334.1,297.0h0M346.9,376.6h0M288.6,339.7h0M310.3,303.2h0M315.1,311.4h0M267.7,333.8h0M330.9,367.2h0M321.0,361.1h0M281.5,303.5h0M315.1,311.8h0M289.6,309.5h0M274.9,312.1h0M335.3,372.4h0M321.3,369.7h0M300.7,336.3h0M343.9,366.1h0M320.8,368.9h0M344.7,378.5h0M336.2,375.5h0M349.6,316.5h0M343.6,373.1h0M287.0,372.7h0M348.0,337.8h0M298.4,336.4h0M310.3,374.1h0M346.0,371.2h0M310.5,376.9h0M343.7,361.2h0M278.5,364.2h0M317.0,317.6h0M277.1,331.7h0M349.1,366.9h0M339.4,304.5h0M278.8,339.0h0M320.4,314.6h0M311.8,309.3h0M310.1,316.2h0M309.9,306.6h0M320.0,367.5h0M345.5,369.2h0M292.1,375.7h0M340.6,300.6h0M338.6,362.0h0M319.1,319.3h0M315.3,376.0h0M336.3,358.3h0M275.8,356.5h0M333.4,371.0h0M331.4,366.3h0M310.0,346.4h0M272.3,304.5h0M309.7,317.4h0M313.2,373.9h0M314.7,309.2h0M320.5,368.9h0M306.3,373.0h0M327.6,377.9h0M310.5,372.5h0M324.0,359.1h0M317.0,319.8h0M312.9,310.0h0M317.9,370.3h0M286.8,329.4h0M338.5,299.0h0M280.7,362.6h0M307.6,306.9h0M346.9,369.1h0M334.6,371.0h0M338.5,333.3h0M296.3,377.4h0M327.9,378.0h0M335.8,378.1h0M305.0,307.5h0M321.6,306.5h0M344.9,315.1h0M311.6,366.5h0M322.4,377.4h0M347.2,372.4h0M349.5,362.6h0M272.0,337.4h0M307.1,314.3h0M279.5,377.5h0M321.7,369.1h0M314.0,370.0h0M275.6,338.7h0M311.4,378.0h0M307.0,322.1h0M306.2,376.6h0M333.7,369.6h0M273.4,333.1h0M289.2,373.9h0M316.7,317.5h0M348.5,359.1h0M306.6,377.6h0M294.5,332.1h0M275.9,328.3h0M299.2,356.5h0M271.4,376.6h0M273.0,328.2h0M304.1,361.4h0M346.9,375.3h0M341.7,364.6h0M269.3,338.1h0M286.7,377.6h0M314.2,357.0h0M273.5,326.8h0M349.3,306.4h0M326.4,373.6h0M329.7,377.3h0M314.8,307.5h0M294.1,375.5h0M325.2,303.0h0M331.7,376.7h0M311.1,372.8h0M336.4,372.0h0M309.4,373.6h0M337.0,342.3h0M315.3,322.7h0M341.4,374.1h0M299.2,377.3h0M334.1,363.2h0M270.0,346.8h0M336.4,363.5h0M348.8,372.1h0M315.1,319.5h0M347.9,367.5h0M340.7,369.4h0M338.6,371.2h0M333.8,368.4h0M290.6,378.4h0M337.2,376.7h0M309.4,374.3h0M294.0,365.7h0M339.1,343.7h0M346.3,302.1h0M312.8,330.1h0M339.8,372.5h0M320.5,337.7h0M326.9,375.0h0M341.3,365.0h0M268.5,329.0h0M273.9,309.7h0M316.9,377.1h0M322.2,378.4h0M317.7,310.8h0M307.7,377.2h0M346.8,363.7h0M338.6,373.7h0M308.7,376.8h0M313.1,376.8h0M310.3,319.8h0M271.2,345.3h0M329.3,364.5h0M349.0,368.5h0M325.0,323.9h0M340.7,304.7h0M320.1,342.9h0M349.2,376.8h0M325.4,374.2h0M317.7,373.4h0M327.0,369.2h0M320.5,306.0h0M321.6,374.4h0M306.6,373.2h0M347.5,362.1h0M332.1,373.0h0M345.5,330.6h0M320.2,375.5h0M316.5,310.3h0M301.3,377.0h0M334.5,369.3h0M345.8,363.8h0M315.8,374.7h0M334.5,307.4h0M337.0,377.0h0M342.8,319.9h0M311.7,319.9h0M277.9,308.5h0M308.1,372.7h0M317.4,324.0h0M338.2,367.6h0M345.5,359.7h0M298.1,373.9h0M322.1,371.0h0M305.2,312.6h0M305.9,367.1h0M334.8,366.4h0M333.7,372.8h0M278.4,329.6h0M343.1,332.7h0M318.0,374.5h0M314.4,316.9h0M323.2,316.0h0M339.2,370.1h0M268.4,330.0h0M336.7,377.6h0M280.4,370.4h0M316.2,302.6h0M335.7,373.2h0M345.2,378.0h0M316.5,376.9h0M348.1,373.3h0M342.7,365.7h0M333.7,368.5h0M286.7,313.6h0M342.6,363.3h0M314.5,373.0h0M349.3,358.9h0M266.5,359.6h0M282.4,375.2h0M324.6,326.3h0M346.8,373.2h0M270.3,339.9h0M272.9,338.3h0M308.2,308.9h0M277.9,326.4h0M301.2,376.2h0M307.3,376.2h0M343.5,367.5h0M267.5,309.1h0M334.3,295.0h0M323.1,369.2h0M272.6,320.7h0M343.5,371.5h0M283.6,302.3h0M344.1,372.1h0M309.0,371.1h0M295.8,301.6h0M298.0,361.4h0M325.4,369.8h0M311.7,316.6h0M320.7,371.2h0M324.7,368.4h0M323.6,325.1h0M269.0,333.0h0M323.5,375.8h0" stroke="#d9d2da" stroke-width="3.2" stroke-linecap="round" fill="none" stroke-opacity="0.92"/>
<path d="M345.8,345.3h0M288.7,367.7h0M320.1,313.6h0M279.6,307.5h0M269.8,322.1h0M282.1,377.7h0M279.6,311.5h0M291.2,316.9h0M301.5,313.6h0M300.7,338.1h0M328.5,322.6h0M332.4,323.0h0M302.2,339.5h0M343.9,303.8h0M319.4,354.8h0M340.0,308.4h0M269.3,307.9h0M337.9,366.5h0M334.2,315.0h0M328.2,334.3h0M347.7,316.0h0M312.9,310.3h0M267.1,371.0h0M281.1,335.2h0M324.2,349.3h0M318.6,362.3h0M329.6,357.2h0M336.4,370.6h0M306.2,361.6h0M287.6,306.9h0M328.8,361.3h0M320.2,340.0h0M300.7,297.1h0M339.8,369.5h0M297.7,308.2h0M348.5,316.7h0M306.9,314.7h0M313.6,352.0h0M319.2,369.3h0M325.3,322.6h0M342.2,375.5h0M349.7,300.9h0M343.9,301.5h0M305.6,320.1h0M266.7,296.6h0M318.1,347.4h0M269.2,320.1h0M342.7,361.9h0M307.9,314.1h0M300.9,336.6h0M342.4,322.7h0M336.6,302.3h0M293.3,307.8h0M341.1,353.4h0M291.6,349.5h0M311.7,310.6h0M334.7,319.3h0M291.3,370.3h0M316.0,371.4h0M309.6,367.6h0M278.3,353.5h0M290.5,331.2h0M305.0,327.4h0M343.4,326.8h0M310.6,305.7h0M291.3,340.2h0M312.1,325.0h0M297.7,321.6h0M303.0,376.6h0M281.6,355.7h0M272.0,312.1h0M320.6,352.4h0M320.3,311.5h0M269.7,329.7h0M268.6,342.6h0M276.1,354.6h0M346.9,369.5h0M336.5,341.7h0M345.4,358.7h0M323.8,360.1h0M332.9,324.8h0M278.1,366.2h0M292.9,296.3h0M314.7,363.0h0M349.3,346.8h0M274.1,312.1h0M343.1,356.1h0M274.3,362.8h0M298.4,298.4h0M336.3,340.9h0M333.9,363.2h0M315.1,376.2h0M312.0,312.1h0M306.8,342.2h0M337.5,318.4h0M294.9,312.6h0M323.4,299.1h0M274.5,326.9h0M302.6,357.2h0M289.9,363.5h0M280.4,294.6h0M272.3,363.7h0M282.2,315.8h0M343.7,300.6h0M343.3,317.6h0M291.2,325.8h0M292.9,332.3h0M332.6,331.9h0M312.1,362.2h0M318.6,340.2h0M342.9,354.6h0M292.1,342.1h0M293.2,371.6h0M342.8,370.4h0M296.3,371.1h0M322.1,334.9h0M307.3,360.9h0M272.3,374.8h0M288.6,364.0h0M302.0,322.2h0M339.3,344.4h0M348.2,360.9h0M319.4,366.8h0M316.2,362.6h0M335.1,325.3h0M309.1,341.6h0M277.0,303.7h0M301.2,328.1h0M328.6,346.7h0M312.4,302.9h0M288.2,301.1h0M307.2,298.3h0M300.3,309.1h0M323.9,350.2h0M273.3,367.6h0M339.9,308.7h0M327.8,305.0h0M342.3,368.2h0M289.5,305.0h0M341.4,305.0h0M333.3,308.6h0M278.0,310.6h0M276.6,344.1h0M346.3,355.6h0M314.8,308.4h0M286.1,354.5h0M267.6,353.7h0M323.2,360.4h0M276.0,378.3h0M320.3,314.0h0M316.4,348.8h0M349.7,355.5h0M300.7,311.6h0M307.4,356.2h0M324.9,313.5h0M323.5,326.0h0M299.8,308.4h0M337.9,299.6h0M346.4,371.8h0M342.2,349.0h0M286.0,362.5h0M321.5,371.3h0M322.9,353.2h0M281.6,351.8h0M267.4,317.9h0M332.3,294.7h0M334.5,300.0h0M340.3,333.3h0M308.8,353.5h0M302.5,370.0h0M344.3,352.1h0M314.8,353.6h0M290.8,367.1h0M278.4,338.8h0M288.8,313.5h0M291.4,301.7h0M292.9,335.1h0M328.6,303.9h0M281.3,360.9h0M285.5,297.2h0M317.2,332.3h0M314.4,336.8h0M287.5,312.9h0M336.2,296.8h0M270.6,371.4h0M292.2,359.1h0M293.1,319.2h0M335.4,305.6h0M276.1,301.1h0M301.6,338.3h0M266.2,355.7h0M280.7,320.5h0M308.0,321.8h0M335.6,366.7h0M320.0,341.7h0M293.2,371.4h0M274.7,300.1h0M334.1,310.7h0M349.7,338.2h0M343.7,335.5h0M296.5,367.9h0M269.2,300.2h0M281.2,351.6h0M339.1,305.0h0M288.4,364.9h0M326.4,306.4h0M293.2,305.0h0M346.1,353.8h0M270.6,326.0h0M301.1,316.8h0M277.1,298.4h0M314.7,358.9h0M312.7,311.9h0M268.6,318.6h0M275.8,327.7h0M333.4,306.7h0M345.4,297.5h0M280.4,364.8h0M324.5,367.4h0M302.7,362.6h0M295.7,339.8h0M298.8,332.3h0M306.1,310.6h0M280.1,351.6h0M275.9,325.3h0M297.4,362.6h0M316.9,359.0h0M330.5,340.8h0M346.1,334.9h0M300.1,315.3h0" stroke="#d6ccd2" stroke-width="2.5" stroke-linecap="round" fill="none" stroke-opacity="0.9"/>
<path d="M278.4,310.6l2.4,-2.4M310.5,295.2l4.2,-3.1M335.9,316.0l4.6,-2.0M296.7,339.4l2.3,-1.5M337.9,312.6l2.9,-1.4M334.3,373.7l2.0,-1.7M332.5,301.5l5.0,-1.1M315.2,300.6l4.7,-1.0M286.4,341.5l3.9,-3.1M272.9,333.0l2.9,-2.0M347.5,322.1l4.5,-1.2M294.1,350.1l4.8,-0.5M304.2,353.6l3.0,-3.7M312.0,317.0l5.6,-1.3M328.8,327.0l2.1,-2.6M274.6,307.5l3.0,-2.6M268.8,360.3l2.4,-1.5M275.6,353.6l3.6,-3.9M296.3,297.9l4.1,-2.4M315.5,336.4l3.1,-0.4M346.1,359.5l2.9,-1.9M327.2,327.7l4.3,-0.8M272.2,320.4l4.4,-3.8M295.3,342.3l3.3,-2.6M322.2,300.8l3.2,-3.5M290.2,294.4l4.7,-3.3M302.5,336.9l2.6,-1.5M333.4,315.4l2.1,-1.4M336.7,316.6l2.8,-1.4M305.3,296.3l2.6,-2.3M298.3,308.3l4.6,-2.2M319.4,321.2l5.3,-2.4M335.3,331.5l1.6,-1.7M334.5,299.3l2.1,-2.6M290.3,347.3l2.6,-2.6M334.9,357.4l3.1,-1.2M333.2,357.1l4.5,-1.0M309.1,302.4l3.8,-2.6M289.7,310.7l3.0,-3.6M301.7,344.6l2.3,-1.3M325.6,357.0l3.1,-0.9M312.2,331.6l4.1,-1.1M272.7,295.1l2.1,-2.9M295.0,346.0l3.4,-0.5M282.1,350.6l3.6,-2.2M290.8,295.0l2.2,-2.4M327.6,303.1l2.7,-3.4M269.8,355.0l4.9,-0.8M270.9,352.2l3.6,-1.4M324.1,339.1l4.3,-1.3M291.5,364.9l1.9,-1.8M277.4,367.9l4.6,-3.6M307.8,371.9l2.9,-2.3M340.2,348.5l2.2,-1.1M338.3,301.2l5.2,-0.7M273.9,375.2l3.0,-0.7M334.2,347.8l3.3,-1.9M325.0,335.1l5.4,-1.3M334.1,331.0l5.5,-1.1M334.5,299.1l3.6,-3.4" stroke="#d2c8cf" stroke-width="1.5" stroke-linecap="round" fill="none" stroke-opacity="0.9"/>
<path d="M292.9,339.1h0M292.1,332.7h0M296.7,360.3h0M335.3,315.6h0M283.7,331.7h0M346.8,295.3h0M268.4,345.8h0M267.6,308.5h0M294.5,325.5h0M310.0,295.8h0M342.9,318.3h0M312.4,373.0h0M289.0,364.2h0M308.4,307.7h0M283.2,328.6h0M285.2,374.2h0M286.9,330.8h0M267.7,375.8h0M267.8,301.1h0M299.7,370.0h0M296.8,323.0h0M327.8,318.6h0M328.6,352.1h0M308.6,372.5h0M344.8,344.0h0M322.9,315.8h0M277.9,345.2h0M317.8,299.1h0M330.7,303.1h0M325.4,374.0h0M310.1,309.2h0M341.6,335.2h0M344.1,346.2h0M292.4,363.0h0M270.3,334.5h0M279.0,323.4h0M288.6,364.8h0M293.7,343.9h0M292.7,306.4h0M284.8,358.1h0M313.7,360.4h0M289.3,359.4h0M297.9,360.9h0M342.0,325.3h0M311.6,341.2h0M273.9,338.9h0M303.5,353.5h0M310.3,303.9h0M278.8,308.7h0M304.6,317.3h0M301.7,303.2h0M343.0,318.8h0M294.7,332.2h0M275.8,294.3h0M348.7,325.1h0M310.2,358.8h0M319.6,337.6h0M296.5,356.1h0M302.4,325.1h0M285.1,300.6h0M333.6,307.2h0M287.2,320.3h0M312.3,348.3h0M305.6,363.4h0M270.0,353.6h0M293.1,299.0h0M278.9,351.9h0M287.7,322.7h0M289.6,322.1h0M295.8,309.6h0M310.5,304.1h0M330.3,341.5h0M276.7,355.7h0M317.9,295.4h0M320.3,305.9h0M275.6,362.4h0M313.6,344.4h0M329.5,301.8h0M312.0,332.4h0M330.9,322.6h0M291.0,360.3h0M293.2,295.5h0M340.1,306.1h0M330.2,339.7h0M279.7,347.2h0M273.3,355.4h0M332.6,349.8h0M337.8,348.2h0M308.1,300.9h0M284.1,357.7h0M309.6,313.2h0M288.0,361.1h0M316.8,349.6h0M323.3,296.4h0M273.5,313.4h0M342.6,331.1h0M286.9,376.8h0M299.1,340.6h0M299.7,344.0h0M297.0,340.0h0M329.0,346.1h0M274.9,371.4h0M305.1,299.6h0M300.0,309.6h0M297.7,377.9h0M341.1,312.0h0M267.0,374.0h0M294.5,345.5h0M346.1,324.0h0M319.9,363.6h0M316.2,352.5h0M271.4,351.9h0M295.9,341.4h0M320.3,364.1h0M329.9,300.1h0M341.4,344.4h0M340.5,351.7h0M330.5,299.5h0M321.6,320.8h0M278.9,319.6h0M308.4,309.8h0M297.6,358.9h0M310.6,361.7h0M332.5,325.4h0M313.9,358.7h0M300.8,312.8h0M304.0,365.9h0M293.8,300.8h0M313.9,325.1h0M337.5,340.6h0M291.9,299.5h0M286.2,298.4h0M266.9,369.4h0M305.4,354.3h0M342.4,352.4h0M336.5,323.6h0M343.9,333.2h0M317.9,338.1h0M339.0,325.3h0M272.7,305.7h0M293.9,303.3h0M334.1,358.8h0M340.8,348.7h0M289.4,359.7h0M314.3,332.2h0M277.7,345.1h0M279.3,366.6h0M305.2,338.9h0M327.2,337.2h0M292.6,343.4h0M336.3,342.4h0M341.6,343.7h0M270.8,375.5h0M349.4,336.5h0M275.7,337.3h0M310.9,328.9h0M283.0,338.5h0M324.1,350.8h0M270.9,316.2h0M273.9,371.4h0M336.7,361.3h0M327.6,363.0h0M281.9,312.8h0M289.6,361.9h0M319.2,355.3h0M335.0,340.4h0M326.1,317.3h0M296.7,358.3h0M315.4,298.2h0M327.8,298.8h0M272.0,349.5h0M281.8,367.9h0M345.2,337.6h0M310.8,307.4h0M267.3,364.0h0M274.1,324.6h0M317.2,362.3h0M269.4,359.1h0M293.7,321.7h0M320.1,303.9h0M337.4,356.3h0M276.1,300.3h0M266.5,322.9h0M276.4,325.5h0M304.4,366.1h0M315.5,370.9h0M267.3,326.4h0M280.3,330.2h0M316.4,333.6h0M286.2,342.9h0M292.3,326.1h0M346.7,334.5h0M296.3,350.5h0M322.1,343.0h0M280.1,355.8h0M278.6,352.7h0M296.0,335.9h0M323.6,315.1h0M314.8,301.2h0M269.1,310.4h0M316.9,365.6h0M333.2,348.4h0M337.0,355.5h0M320.9,339.4h0M282.2,366.8h0M316.7,331.1h0M280.8,356.7h0M303.9,335.8h0M292.4,339.1h0M339.4,316.3h0M326.8,364.2h0M268.5,332.0h0M344.4,366.8h0M330.1,359.5h0M303.8,300.1h0M348.7,326.9h0M338.5,309.1h0M306.3,330.3h0M292.2,311.4h0M309.2,303.1h0M333.6,349.5h0M284.6,338.4h0M272.5,319.4h0M284.8,369.5h0M297.7,313.0h0M272.5,372.4h0M297.7,346.1h0M269.2,306.6h0M283.4,351.5h0M338.7,340.5h0M349.3,327.4h0M309.7,365.2h0M291.6,303.6h0M318.2,353.6h0M266.6,347.2h0M311.4,351.8h0M330.9,359.1h0M302.6,350.6h0M286.5,336.3h0M306.2,337.1h0M308.6,349.7h0M294.4,362.9h0M286.2,316.7h0M302.9,359.4h0M307.0,351.1h0M348.3,332.9h0M269.2,303.5h0M327.0,308.9h0M346.6,321.5h0M306.9,342.1h0M328.1,301.8h0M272.3,301.5h0M285.1,342.6h0M298.4,313.2h0M321.2,366.3h0M311.6,349.1h0M339.6,328.4h0M321.3,299.2h0M343.7,304.7h0M305.2,358.3h0M266.3,334.1h0M287.2,309.1h0M348.2,321.9h0M321.4,338.4h0M268.8,355.0h0M283.2,303.5h0M290.2,359.5h0M311.1,353.6h0M274.9,295.8h0M305.4,296.5h0M337.0,322.2h0M287.6,330.3h0M299.4,305.8h0M318.0,301.7h0M335.2,361.9h0M340.6,306.7h0M292.6,366.3h0M283.7,359.5h0M293.8,373.2h0M298.1,360.2h0M334.3,328.4h0M287.0,298.6h0M347.8,350.8h0M311.7,304.7h0M274.3,346.7h0M300.7,297.5h0M348.7,327.4h0M285.6,366.8h0M273.4,317.9h0M336.8,299.6h0M316.7,347.6h0M268.2,338.8h0M323.7,359.2h0M314.0,349.8h0M294.5,372.1h0M311.9,342.9h0M276.8,366.0h0M307.3,360.2h0M301.2,295.7h0M294.3,365.7h0M274.2,335.9h0M280.4,310.8h0M274.2,341.0h0M345.6,301.9h0M269.0,366.3h0M322.2,371.2h0M282.8,317.5h0M276.6,355.6h0M341.5,329.8h0M328.3,346.5h0M311.1,368.9h0M340.4,299.3h0M301.5,361.9h0M306.3,377.9h0M305.3,339.6h0M308.3,299.4h0M303.7,345.5h0M293.1,341.1h0M325.5,372.9h0M313.1,352.4h0M269.1,303.8h0M323.7,313.9h0M279.0,341.8h0M281.6,357.1h0M316.6,296.4h0M273.3,351.8h0M271.3,351.5h0M302.9,304.3h0M332.5,349.4h0M277.4,316.0h0M328.5,308.5h0M326.3,304.4h0M266.6,338.1h0M332.7,304.5h0M321.5,297.6h0M280.9,311.1h0M289.6,356.9h0M308.3,341.0h0M279.8,344.3h0M284.8,298.4h0M345.2,353.2h0M272.8,351.6h0M339.7,327.2h0M346.7,370.6h0M312.0,307.7h0M301.5,363.7h0M294.8,310.8h0M299.0,334.2h0M295.1,300.0h0M275.2,316.4h0M336.7,314.6h0M289.8,365.9h0M327.5,360.2h0M300.3,347.5h0M334.4,294.8h0M283.2,322.3h0M302.2,366.3h0M283.4,335.8h0M284.3,358.8h0M284.5,298.2h0M283.1,362.6h0M275.7,344.5h0M297.1,365.4h0M296.0,314.9h0M271.3,300.6h0M280.0,375.7h0M329.2,298.2h0M285.0,377.5h0M294.5,354.7h0M285.8,363.0h0M309.7,359.6h0M320.8,324.6h0M280.1,362.0h0M284.5,367.5h0M297.9,313.6h0M332.4,358.8h0M341.7,349.4h0M296.5,358.6h0M290.0,341.6h0M294.2,309.5h0M268.5,350.7h0M282.0,359.7h0M322.6,325.0h0M322.2,307.7h0M270.1,368.2h0M303.0,300.5h0M275.5,362.4h0M291.6,326.7h0M298.9,358.1h0M319.9,346.8h0M347.1,358.5h0M291.7,353.9h0M324.8,309.9h0M312.9,323.6h0M340.2,346.6h0M317.4,312.6h0M300.1,299.3h0M304.7,310.4h0M281.8,378.5h0M287.7,306.9h0M348.3,356.6h0M290.5,308.4h0M336.5,298.3h0M310.3,336.4h0M349.4,311.6h0M311.5,362.9h0M311.9,353.5h0M267.2,356.9h0M308.2,327.1h0M294.2,343.9h0M312.7,346.4h0M297.3,296.1h0M287.7,357.5h0M313.3,363.0h0M347.9,299.3h0M282.0,335.5h0M309.1,296.6h0M343.0,308.9h0M271.8,297.3h0M269.2,304.5h0M285.0,336.2h0M280.4,341.3h0M288.6,359.3h0M279.7,367.7h0M341.2,350.5h0M276.6,348.9h0M297.7,322.3h0M340.5,294.7h0M338.4,312.8h0M278.6,339.6h0M292.0,316.1h0M326.1,335.5h0M280.4,318.5h0M299.0,368.3h0M316.8,346.0h0M344.3,309.9h0M298.7,326.9h0M293.0,355.8h0M334.7,347.4h0M310.5,310.4h0M305.3,306.6h0M320.7,357.9h0M312.4,363.5h0M307.3,349.1h0M270.4,313.7h0M297.4,365.9h0M337.7,312.4h0M294.1,301.0h0M338.3,301.6h0M322.6,360.1h0M319.3,306.2h0M331.1,345.0h0M328.7,344.8h0M296.5,298.9h0M270.8,368.0h0M313.4,324.1h0M289.8,326.2h0M288.7,297.5h0M269.8,308.8h0M285.9,357.4h0M266.8,317.4h0M342.0,320.0h0M269.2,371.3h0M291.1,333.6h0M301.1,336.9h0M269.3,355.0h0M281.4,366.7h0M328.3,330.6h0M269.0,354.4h0M324.3,340.2h0M334.2,337.3h0M333.0,312.6h0M276.4,334.7h0M287.5,318.8h0M333.1,354.9h0M278.0,346.9h0M300.4,297.1h0M287.0,357.1h0M267.9,295.4h0M342.4,341.2h0M268.6,330.2h0M349.0,310.3h0M330.1,303.1h0M275.4,312.1h0M276.9,359.4h0M278.6,333.0h0M343.5,313.7h0M320.1,318.7h0M323.6,320.2h0M314.5,299.2h0M311.4,329.5h0M347.7,376.9h0M284.7,368.7h0M271.5,318.7h0M310.8,298.8h0M327.3,321.2h0M342.5,348.8h0M313.2,365.0h0M293.3,307.8h0M316.5,295.5h0M297.7,358.4h0M345.7,306.8h0M321.4,332.5h0M345.2,335.5h0M284.8,315.0h0M277.4,345.6h0M292.0,334.8h0M276.6,348.6h0M291.0,324.1h0M302.8,360.5h0M294.5,303.1h0M308.3,332.8h0M336.9,313.6h0M296.9,338.0h0M324.5,336.1h0M320.7,295.2h0M276.1,367.2h0M323.1,334.3h0M287.6,330.9h0M323.8,360.1h0" stroke="#6c2e1e" stroke-width="2.1" stroke-linecap="round" fill="none" stroke-opacity="0.9"/>
<path d="M335.6,303.1l3.4,-0.6M329.8,354.0l3.9,-0.3M319.2,318.3l1.5,-0.8M326.0,302.2l1.9,-1.5M327.2,305.9l2.1,-1.4M269.1,325.5l1.5,-1.8M339.8,311.0l1.8,-0.2M347.6,332.7l2.9,-1.9M329.3,369.1l3.9,-0.2M299.9,350.0l2.5,-0.9M278.8,337.8l2.4,-0.9M268.2,346.2l2.4,-2.6M336.8,323.5l1.5,-1.2M295.6,311.2l3.3,-0.7M296.3,340.9l3.1,-1.1M315.4,319.2l3.6,-1.4M324.3,364.6l2.7,-1.3M278.3,364.6l3.8,-1.1M323.9,334.7l2.4,-2.3M268.3,320.9l3.1,-2.4M319.9,306.2l2.9,-2.2M300.0,319.8l2.3,-1.6M314.2,337.5l2.1,-1.9M322.4,365.2l2.3,-2.8M303.8,363.8l1.9,-2.1M340.0,345.3l3.3,-0.2M319.1,353.4l3.0,-1.3M307.6,358.0l2.5,-0.5M331.3,309.8l2.8,-2.7M275.2,351.1l2.7,-2.9M296.3,296.0l2.0,-1.7M317.5,294.4l2.2,-1.1M298.8,354.3l2.2,-1.3M297.5,332.2l2.2,-0.6M280.3,311.0l3.0,-0.6M312.9,356.6l3.6,-1.2M272.9,368.7l2.8,-0.9M271.6,358.7l3.2,-0.2M348.8,302.5l2.1,-2.5M312.1,304.6l2.4,-0.4M339.0,353.5l2.5,-0.3M318.3,325.2l3.2,-2.6M341.8,355.2l1.7,-0.3M345.1,345.1l2.0,-0.6M329.6,357.9l3.2,-0.4M279.2,329.8l3.4,-2.1M308.0,303.4l3.5,-1.6M268.2,321.5l3.4,-1.1M346.1,306.0l3.2,-1.1M341.1,354.9l2.4,-1.5M271.6,366.3l3.3,-0.5M293.2,355.5l1.8,-2.4M275.5,332.1l2.4,-2.2M315.8,340.8l1.4,-1.8M281.3,333.9l1.6,-1.7M283.8,367.0l2.2,-0.8M266.7,363.9l2.0,-1.6M271.3,368.8l3.1,-0.2M281.9,346.3l2.9,-1.3M338.3,322.3l4.0,-0.8M293.6,348.8l1.8,-0.8M335.3,316.4l3.1,-1.3M271.0,311.9l1.9,-2.4M299.6,294.6l3.8,-0.5M322.4,335.6l3.1,-1.7M316.1,374.4l4.1,-0.6M340.9,305.8l1.6,-2.1M269.4,357.5l2.7,-2.7M273.2,314.8l2.8,-2.5M330.1,322.7l2.0,-0.1M290.2,375.2l1.9,-0.5M295.0,367.3l1.8,-0.2M342.6,298.8l3.6,-1.2M283.3,342.1l3.4,-0.7M333.9,325.4l3.5,-2.2M297.7,337.4l1.6,-1.6M287.4,374.3l1.8,-1.5M314.3,304.2l2.8,-0.9M291.2,362.1l2.7,-0.5M267.7,339.5l2.4,-1.9M294.3,314.4l2.0,-1.6M287.4,362.9l3.1,-1.2M290.7,337.7l2.6,-3.2M330.4,364.1l2.0,-2.5M343.1,294.7l1.6,-0.7M316.8,350.6l3.1,-1.0M287.4,353.4l2.1,-1.9M310.5,361.3l3.3,-0.9M282.1,364.1l2.4,-1.9M277.7,346.0l2.7,-0.2M293.4,341.3l3.6,-1.3M319.0,358.1l1.3,-1.4M340.8,360.8l2.1,-0.2M337.6,358.3l2.4,-2.1M295.1,368.7l1.9,-2.1M298.3,351.6l3.3,-1.7M329.0,334.1l2.3,-0.5M339.1,297.7l1.8,-1.1M274.5,306.8l1.4,-0.9M271.5,374.8l1.6,-0.7M274.8,316.3l2.1,-0.7M280.2,312.4l2.1,-1.1M304.9,305.4l2.3,-2.1M322.2,299.5l2.7,-1.3M334.3,298.1l2.8,-1.4M337.1,294.9l2.8,-2.3M332.4,347.7l1.9,-2.3M344.0,350.0l2.8,-2.1M295.1,360.8l2.8,-1.2M276.6,324.8l1.5,-1.3M336.9,323.6l3.7,-1.2M270.7,312.2l2.6,-2.3M302.1,343.7l2.2,-1.0M269.6,327.8l2.7,-3.0M321.4,321.5l3.7,-0.2M309.6,338.0l3.2,-2.1M317.5,362.0l1.8,-0.8M306.0,307.0l2.2,-2.3M267.3,329.9l2.0,-1.4M302.7,332.6l2.5,-2.6M316.1,356.6l2.2,-2.0M336.6,376.7l1.9,-0.6M302.6,356.7l2.5,-2.9M309.2,302.2l2.3,-1.0M280.2,299.0l2.9,-2.1M346.9,352.3l2.9,-1.4M349.2,324.1l2.7,-0.3M333.2,314.0l1.9,-2.0M288.7,303.0l1.8,-1.4M297.7,336.9l1.3,-1.2M266.2,337.8l2.2,-2.5M326.6,358.5l1.7,-0.1M280.2,295.0l3.1,-2.3M284.3,378.2l2.2,-2.1M273.4,315.1l2.0,-0.1M293.7,363.1l3.2,-1.3M267.3,321.9l3.9,-1.2M285.2,368.6l1.7,-1.4M281.8,354.9l2.9,-2.3M268.6,326.8l2.0,-1.7M299.0,369.6l2.1,-0.7M334.5,359.1l1.4,-1.3M267.6,317.8l2.5,-2.8M338.1,338.5l1.1,-1.3M339.2,320.7l3.2,-0.8M286.0,306.7l2.6,-0.7M270.8,309.7l1.8,-0.1M290.2,374.7l3.1,-0.2M339.1,309.2l2.0,-0.5M345.7,365.3l2.3,-0.2M267.4,317.6l3.9,-1.2M297.8,350.8l1.9,-0.2M288.6,305.8l2.4,-3.1M284.6,295.0l2.6,-1.1M315.5,310.2l3.2,-0.3M323.3,309.6l3.1,-1.1M282.5,352.0l2.8,-1.7M308.2,357.0l1.5,-0.7M297.7,297.9l1.5,-1.0M284.7,334.6l2.9,-0.7M295.6,343.4l1.8,-0.7M277.3,328.5l1.3,-1.1M293.5,355.8l3.9,-0.8M319.3,350.0l1.6,-1.0M332.4,333.0l1.4,-1.8M281.0,328.6l2.2,-0.5M286.4,353.9l1.5,-0.9M288.6,348.9l1.2,-1.0M308.4,347.0l2.1,-2.1M341.0,319.9l1.4,-1.6M284.6,309.5l2.8,-2.7M344.9,317.7l3.1,-0.3M321.4,308.9l3.0,-2.0M337.9,309.1l1.6,-0.4M300.4,317.0l1.5,-1.0M295.9,310.3l3.4,-1.7M293.5,320.7l2.7,-3.0M275.0,336.8l2.0,-0.4M331.8,313.4l3.0,-1.5M268.0,368.4l1.8,-1.0M310.4,313.8l2.5,-2.4M280.5,336.4l1.6,-1.8M278.1,311.3l2.4,-0.7M331.3,330.6l2.0,-1.5M288.4,330.9l1.9,-0.4M288.1,360.7l2.6,-2.9M330.2,309.7l2.0,-0.3M305.8,308.3l2.1,-0.6M290.1,340.0l2.8,-2.2M324.1,331.9l1.7,-0.8M310.7,354.0l2.7,-3.1M335.6,335.0l2.6,-2.7M316.6,342.2l3.8,-1.5M348.0,337.8l3.6,-0.8M306.0,355.7l3.1,-0.9M345.8,332.3l3.7,-0.7M298.6,330.2l2.3,-0.6M313.8,350.6l2.5,-0.9M330.4,299.7l1.8,-0.4M337.1,347.2l3.3,-0.6M334.3,296.1l2.1,-2.0M320.6,331.3l2.7,-1.4M314.1,349.8l3.0,-1.0M275.2,359.0l1.5,-0.9M292.8,331.2l2.7,-0.7M307.9,340.4l2.4,-1.1M321.5,310.1l3.2,-2.3M343.5,369.7l1.3,-1.6M294.6,324.0l2.1,-2.3M307.8,366.0l2.4,-0.9M338.1,294.3l2.5,-0.9M302.3,345.5l1.6,-0.3M319.1,345.2l3.5,-1.7M319.8,319.4l1.4,-0.9M298.4,351.5l2.0,-0.2M328.3,329.5l3.1,-2.3M333.8,359.2l3.2,-0.2M290.7,313.8l2.8,-2.4M288.4,370.4l2.8,-1.4M313.1,310.2l2.5,-0.4M289.3,303.9l2.9,-1.8M321.2,309.9l3.7,-0.5M308.4,366.3l3.1,-0.7M297.4,319.7l2.2,-2.4M316.6,341.0l2.8,-0.3M268.4,308.5l2.6,-2.6M282.2,367.6l3.4,-1.1M304.8,304.1l2.8,-2.0M343.0,303.8l1.7,-0.9M346.0,327.3l2.4,-1.5M267.5,315.9l2.5,-0.5M295.6,322.0l2.1,-1.0M302.7,346.0l2.0,-0.1M316.5,362.8l1.8,-1.5M345.3,312.8l2.0,-2.3M289.3,335.9l1.8,-0.1M324.7,304.1l2.7,-0.6M281.0,370.7l3.8,-0.3M279.2,370.1l2.6,-0.5M279.1,374.0l3.3,-1.8M288.3,372.8l2.6,-0.5M311.5,369.6l4.1,-0.4M277.4,299.3l2.6,-0.9M324.2,330.7l3.4,-0.7M283.0,319.8l3.8,-0.7M327.1,362.2l2.5,-1.4M267.7,358.8l2.6,-1.2M285.1,300.0l2.6,-3.0M346.4,356.0l2.4,-0.8M346.4,332.4l1.9,-2.5M291.9,351.2l2.2,-2.5M267.6,377.8l2.4,-2.6M275.2,348.4l2.0,-2.6M312.5,346.1l2.0,-1.2M346.1,348.3l3.1,-0.8M288.5,335.4l2.4,-1.8M269.7,355.1l2.2,-0.9M279.1,352.5l1.6,-1.4M349.0,298.6l3.2,-0.3M294.9,367.0l2.4,-2.4M328.4,328.4l3.1,-1.5M289.9,340.5l2.6,-3.2M334.0,309.1l3.7,-0.4M267.9,298.2l2.4,-1.0M331.2,295.8l3.1,-1.5M316.7,321.6l2.9,-2.6M282.4,306.3l2.2,-0.9M268.4,315.9l2.0,-0.5M334.1,348.8l2.5,-1.2M320.1,340.5l2.9,-1.8M328.5,325.9l1.9,-1.6M276.6,368.6l2.4,-0.5M281.4,353.9l3.2,-0.7M292.5,363.8l3.2,-0.2M270.7,343.8l1.9,-0.7M286.3,352.1l2.1,-1.4M271.5,369.6l1.6,-0.1M339.3,306.5l1.9,-0.8M324.0,326.9l3.3,-1.6M300.3,350.8l3.0,-1.8M300.9,342.0l2.5,-0.9M328.2,311.2l2.2,-1.6M314.5,342.5l1.3,-1.2M314.3,323.5l1.9,-2.5M314.1,304.2l2.6,-1.6M347.7,350.3l1.6,-0.6M318.0,311.0l2.2,-0.4M343.5,324.4l3.5,-1.6M343.1,353.5l3.0,-2.0M308.2,316.6l1.3,-1.0M306.3,333.8l3.7,-0.3M302.0,299.0l3.6,-0.5M301.8,366.7l3.2,-1.1M296.3,310.5l3.8,-0.6M268.8,335.9l3.8,-1.1M294.5,318.1l2.6,-1.3M316.7,326.4l3.1,-0.2M323.7,323.9l3.5,-0.9M315.0,332.9l2.1,-0.5M280.4,332.9l2.4,-0.1M290.4,315.3l3.5,-1.8M347.6,340.0l2.1,-1.6M321.7,331.3l2.1,-1.3M311.5,295.8l2.9,-0.9M309.7,323.1l2.0,-1.0M318.0,344.7l2.4,-1.7M273.5,308.2l2.0,-0.9M287.3,301.9l3.5,-0.7M330.5,343.5l1.2,-1.2M335.4,334.8l1.3,-1.4M267.0,369.8l1.1,-1.2M343.0,327.0l4.0,-0.4M283.4,305.9l3.4,-0.5M331.3,350.1l2.4,-1.8M279.1,359.6l2.8,-2.0M269.6,316.9l3.0,-2.0M323.3,338.7l3.3,-1.0M291.7,320.4l1.5,-1.2M281.9,297.9l2.0,-1.3M333.0,338.7l3.6,-0.4M329.5,296.2l2.8,-1.1M280.6,297.4l3.7,-0.3M324.8,337.8l3.4,-2.2M291.3,345.4l2.3,-2.4M336.3,295.1l3.0,-0.7M342.2,329.5l2.7,-0.9M291.8,313.1l1.9,-2.0M274.0,377.8l3.1,-0.4M276.5,376.1l3.8,-0.4M332.5,301.2l3.4,-1.2M306.7,328.0l1.6,-0.1M304.5,350.0l2.4,-1.0M346.1,374.3l2.9,-1.9M311.6,305.3l3.1,-0.9M319.1,333.9l2.6,-2.4M289.8,360.5l2.0,-0.8M276.2,333.5l2.0,-1.4M335.6,349.0l2.7,-1.1M317.2,299.6l2.4,-2.4M298.4,362.4l3.4,-0.5M289.6,332.9l3.2,-2.4M280.3,364.8l1.9,-0.3M340.7,315.6l2.6,-0.9M319.6,306.1l3.9,-0.9M312.6,326.7l3.7,-1.2M302.2,351.3l2.3,-2.0M304.7,347.0l1.4,-1.0M323.8,348.9l2.9,-1.9M327.2,358.1l1.8,-1.1M293.4,322.2l2.7,-0.8M339.5,368.9l3.2,-1.0M293.6,374.6l2.4,-1.4M282.6,333.4l1.5,-1.4M342.6,316.8l2.6,-2.7M266.7,356.6l2.8,-0.6M309.2,341.7l1.5,-1.2M323.4,347.5l3.6,-0.9M289.0,328.7l3.0,-2.5M296.1,352.4l3.3,-2.3M317.9,317.8l3.0,-2.3M320.1,299.9l2.7,-0.8M307.8,340.8l4.0,-0.9M292.0,352.3l2.9,-2.3M330.0,295.5l1.5,-1.8M339.5,307.5l3.4,-2.3M278.5,295.8l2.7,-0.8M299.7,336.2l2.8,-0.6M317.1,370.1l2.9,-2.5M342.4,335.2l1.4,-1.1M277.1,310.5l3.9,-0.8M266.9,305.7l1.8,-0.7M302.3,317.1l3.1,-0.6M331.4,320.7l1.2,-1.5M291.6,365.8l3.0,-2.3M337.5,338.4l2.0,-1.6M334.2,301.6l1.6,-1.5M335.8,317.8l1.9,-1.7M342.6,301.5l3.0,-0.6M282.0,298.7l1.6,-1.7M345.3,298.9l1.6,-1.7" stroke="#55231a" stroke-width="1.5" stroke-linecap="round" fill="none" stroke-opacity="0.95"/>
<path d="M339.0,346.0h0M330.7,354.1h0M293.1,311.2h0M333.7,358.1h0M318.4,300.3h0M298.6,344.6h0M287.5,316.5h0M321.7,357.3h0M279.6,308.9h0M331.0,331.7h0M280.3,315.1h0M339.6,294.5h0M295.3,297.2h0M292.7,307.9h0M347.6,332.7h0M310.5,368.2h0M347.2,326.0h0M297.7,313.9h0M328.9,321.2h0M297.2,368.2h0M313.0,298.8h0M301.2,336.8h0M307.5,319.9h0M324.1,364.5h0M317.7,355.4h0M283.4,325.6h0M267.8,300.8h0M270.2,340.9h0M270.3,297.2h0M291.2,346.5h0M278.7,362.3h0M304.9,343.8h0M278.1,361.8h0M337.6,364.4h0M317.0,331.8h0M291.6,354.2h0M297.3,301.1h0M301.7,342.9h0M348.5,296.9h0M292.6,358.9h0M290.3,360.1h0M281.2,355.8h0M323.8,316.4h0M306.3,336.6h0M276.3,325.6h0M299.3,367.0h0M319.2,356.1h0M277.6,304.1h0M324.1,332.3h0M344.3,332.3h0M306.2,350.4h0M303.9,349.4h0M266.9,295.9h0M345.8,308.6h0M282.4,313.1h0M291.3,351.4h0M340.6,297.6h0M274.1,331.9h0M310.5,331.9h0M336.7,318.1h0M303.0,353.5h0M326.4,330.0h0M295.4,360.7h0M308.1,326.5h0M325.1,323.6h0M314.9,319.1h0M333.5,300.3h0M348.0,309.0h0M284.5,340.5h0M281.6,343.4h0M336.3,353.3h0M283.4,338.9h0M280.0,365.1h0M295.9,336.2h0M307.6,303.4h0M332.1,376.1h0M290.0,304.8h0M305.3,314.3h0M289.1,309.2h0M333.5,354.2h0M303.5,353.0h0M337.7,317.1h0M299.9,351.9h0M290.1,334.3h0M289.3,336.2h0M308.4,369.8h0M310.2,348.2h0M290.4,369.5h0M349.6,331.5h0M315.5,367.9h0M312.9,330.6h0M327.2,358.4h0M284.3,349.3h0M310.3,364.1h0M280.2,305.4h0M328.0,339.1h0M276.1,350.8h0M266.8,360.0h0M327.6,365.0h0M266.2,323.2h0M273.2,361.7h0M326.6,361.7h0M288.0,300.0h0M271.3,297.0h0M348.9,297.7h0M330.6,351.7h0M327.9,310.9h0M318.1,343.9h0M307.5,329.0h0M349.4,299.7h0M267.2,365.1h0M293.1,369.7h0M291.9,320.9h0M293.0,356.6h0M287.7,330.8h0M283.4,314.0h0M333.4,355.7h0M285.4,357.7h0M267.3,367.6h0M305.6,298.0h0M275.6,317.0h0M312.4,347.5h0M270.0,356.8h0M287.5,309.4h0M330.3,341.7h0M276.1,368.5h0M341.8,376.1h0M294.3,370.4h0M270.8,317.1h0M293.3,363.8h0M266.2,370.0h0M343.6,300.8h0M329.8,334.6h0M285.9,375.2h0M293.2,342.4h0M339.3,328.0h0M300.0,300.4h0M297.4,363.4h0M307.7,363.3h0M314.4,294.2h0M346.3,318.0h0M282.2,368.3h0M339.4,337.8h0M334.8,344.8h0M332.1,362.8h0M348.3,314.6h0M303.3,334.4h0M334.9,374.4h0M310.5,359.8h0M321.0,343.8h0M279.3,303.6h0M324.7,328.6h0M282.1,355.5h0M339.6,360.7h0M341.2,356.4h0M318.8,351.2h0M284.2,349.5h0M269.9,353.6h0M313.1,309.3h0M272.9,366.8h0M314.2,328.5h0M289.8,300.2h0M311.8,340.4h0M334.3,297.3h0M289.0,301.9h0M284.7,361.1h0M307.2,358.5h0M303.7,369.5h0M302.9,325.8h0M336.4,362.3h0M305.1,295.8h0M312.9,361.9h0M302.4,332.0h0M289.6,373.6h0M283.5,317.8h0M282.7,350.5h0M301.7,359.8h0M279.9,309.0h0M300.4,302.5h0M302.2,326.4h0M340.9,301.9h0M271.8,358.9h0M328.7,326.0h0M295.4,309.7h0M299.1,345.8h0M338.6,344.9h0M272.0,370.5h0M348.0,320.4h0M277.5,297.5h0M307.2,313.7h0M275.8,352.3h0M294.5,365.0h0M341.0,359.4h0M326.8,340.6h0M292.9,370.3h0M323.4,327.6h0M278.7,356.4h0M297.7,320.1h0M317.2,298.0h0M292.1,374.1h0M316.5,319.6h0M296.8,319.6h0M303.4,298.7h0M303.1,347.5h0M323.1,333.9h0M297.6,337.5h0M325.7,341.3h0M296.9,353.6h0M330.4,295.8h0M324.9,347.7h0M293.5,330.2h0M277.6,305.9h0M315.3,361.7h0M313.6,317.9h0M321.5,316.5h0M293.7,323.2h0M300.5,303.2h0M323.6,373.9h0M347.7,341.5h0M324.4,297.7h0M319.8,336.1h0M282.2,345.3h0M304.6,343.0h0M280.5,298.2h0M316.4,359.7h0M271.7,327.6h0M281.0,329.5h0M267.9,366.6h0M272.2,330.5h0M317.3,320.5h0M297.6,338.8h0M298.2,297.0h0M345.8,298.6h0M272.8,298.6h0M282.3,336.4h0M316.2,310.3h0M274.9,306.4h0M340.7,346.6h0M349.3,334.4h0M334.8,302.1h0M298.2,355.6h0M294.6,347.0h0M329.9,361.4h0M339.7,341.8h0M284.5,343.7h0M296.8,368.2h0M299.4,312.6h0M311.0,299.0h0M334.8,320.2h0M327.2,303.8h0M314.7,326.9h0M322.6,318.4h0M288.6,333.2h0M282.6,302.3h0M283.9,369.4h0M339.1,357.6h0M286.8,313.1h0M286.9,340.1h0M301.5,323.1h0M319.4,347.8h0M271.1,361.7h0M296.5,323.8h0M345.2,320.4h0M273.3,346.1h0M331.3,337.3h0M320.7,348.2h0M330.2,347.0h0M326.2,362.0h0M267.2,300.1h0M268.2,368.5h0M320.9,304.4h0M282.0,315.6h0M348.5,333.5h0M290.3,316.2h0M307.2,357.0h0M319.8,298.9h0M347.7,323.2h0M318.9,334.4h0M317.3,350.0h0M323.3,366.1h0M332.9,347.0h0M308.7,369.7h0M276.0,318.7h0M277.9,343.5h0M313.8,311.8h0M308.3,362.0h0M269.6,304.9h0M337.5,327.2h0M327.4,299.8h0M296.1,302.6h0M331.8,356.4h0M317.7,328.4h0M281.8,377.0h0M268.8,376.9h0M292.7,331.1h0M348.4,321.9h0M307.3,358.5h0M331.3,297.4h0M327.1,304.3h0M295.9,298.0h0M342.2,323.6h0M301.0,308.3h0M306.2,358.9h0M322.9,346.5h0M273.6,358.2h0M297.2,302.6h0M295.0,371.1h0M317.0,327.3h0M330.4,340.0h0M295.6,352.2h0M302.7,365.5h0M276.4,367.0h0M275.0,327.9h0M281.8,374.8h0M328.5,321.3h0M273.6,325.9h0M283.6,362.8h0M322.9,313.6h0M287.9,357.4h0M285.1,316.8h0M336.1,328.6h0M316.1,307.6h0M295.3,359.4h0M314.0,349.9h0M271.3,372.9h0M309.1,312.9h0M285.0,335.1h0M348.9,342.0h0M338.9,336.1h0M297.5,332.2h0M281.5,354.4h0M302.1,339.4h0M331.4,337.8h0M274.4,339.6h0M288.0,302.6h0M330.5,333.8h0M275.9,343.5h0M269.5,295.1h0M281.4,346.6h0M293.2,298.5h0M341.8,347.4h0M305.3,305.5h0M322.8,339.4h0M302.3,307.4h0M310.9,326.3h0M300.9,332.8h0M347.2,336.1h0M335.6,345.7h0M280.0,295.9h0M304.6,361.0h0M346.3,304.8h0M296.2,316.8h0M287.2,364.8h0M282.5,353.1h0M328.2,297.6h0M347.5,317.4h0M294.0,317.6h0M317.9,310.7h0M315.6,344.7h0M339.2,348.3h0M295.4,361.8h0M315.4,347.2h0M299.8,318.9h0M296.7,353.8h0M303.8,297.5h0M288.2,328.2h0M286.0,346.9h0M274.1,316.1h0M335.3,302.3h0M299.7,372.9h0M318.0,299.6h0M284.7,351.0h0M318.8,339.0h0M316.1,316.8h0M274.5,354.0h0M286.7,296.2h0M301.3,319.9h0M345.1,296.0h0M308.0,308.3h0M294.2,328.1h0M292.9,348.6h0M301.1,361.8h0M313.5,352.9h0M272.2,327.2h0M310.7,347.0h0M288.5,309.8h0M342.4,298.6h0M323.5,366.0h0M282.6,303.5h0M276.6,348.6h0M326.2,302.2h0M324.6,313.1h0M295.2,320.1h0M324.5,349.6h0M318.0,341.6h0M348.3,308.5h0M328.4,336.4h0M304.7,369.1h0M277.9,353.3h0M268.9,302.8h0M280.7,314.1h0M282.6,366.5h0M271.1,344.3h0M309.0,331.8h0M307.3,351.2h0M277.1,299.5h0M300.0,339.1h0M347.2,302.4h0M333.5,364.8h0M269.7,345.6h0M335.0,345.8h0M332.8,354.6h0M348.4,346.3h0M329.7,320.8h0M314.5,317.5h0M304.1,354.5h0M284.3,304.6h0M318.5,317.4h0M342.9,301.7h0M331.4,334.6h0M289.5,372.3h0M282.0,375.7h0M271.3,314.0h0M281.6,323.3h0M320.4,352.1h0M302.7,328.2h0M304.1,358.1h0M302.4,330.5h0M294.8,369.4h0M298.1,369.4h0M301.7,305.9h0M281.5,325.9h0M279.0,331.2h0M337.8,322.9h0M326.5,329.2h0M290.4,322.8h0M279.5,346.4h0M349.0,355.0h0M288.7,307.7h0M316.5,350.4h0M310.9,366.7h0M288.1,311.1h0M342.8,355.5h0M346.0,330.4h0M273.2,306.7h0M347.9,353.1h0M292.3,305.0h0M267.8,316.6h0M308.3,351.9h0M323.8,356.5h0M328.0,344.1h0M307.4,307.0h0M284.7,342.2h0M318.6,352.4h0M328.6,301.3h0M306.0,368.8h0M278.3,344.3h0M289.2,313.3h0M286.1,318.4h0M302.2,310.0h0M287.8,353.9h0M272.0,322.4h0M338.3,360.7h0M338.9,316.5h0M274.1,325.8h0M279.1,330.0h0M284.4,348.6h0M300.7,299.9h0M349.0,304.2h0M323.7,311.9h0M344.3,295.0h0M280.6,313.6h0M306.2,319.0h0M309.4,314.5h0M306.7,300.4h0M312.4,304.0h0M281.8,331.9h0M340.7,297.2h0M321.2,346.2h0M272.8,298.4h0M283.5,320.3h0M288.5,348.4h0M303.2,349.5h0M302.1,322.3h0M274.0,307.4h0M349.3,352.7h0M319.1,332.4h0M283.5,295.9h0M312.4,295.7h0M334.4,301.0h0M313.2,340.0h0M266.6,349.7h0M320.8,306.5h0M327.7,324.0h0M336.3,344.1h0M349.5,306.9h0M314.0,328.0h0M317.0,340.4h0M325.6,310.4h0M338.1,354.1h0M343.5,306.4h0M325.2,333.0h0M282.9,331.5h0M315.6,298.5h0M348.8,331.0h0M269.9,322.2h0M338.0,347.4h0M318.8,314.1h0M276.8,368.1h0M328.3,301.3h0M297.1,296.9h0M296.8,334.6h0M279.7,325.6h0M269.3,368.4h0M346.4,346.9h0M319.7,329.9h0M283.7,360.4h0M311.7,377.7h0M298.6,358.0h0M347.4,316.4h0M329.5,306.4h0M331.9,318.4h0M328.0,319.4h0M307.4,348.3h0M280.4,360.2h0M289.9,347.9h0M268.4,350.5h0M342.5,323.7h0M296.7,314.8h0M309.1,330.1h0M295.4,297.7h0M296.2,344.7h0M348.0,362.1h0M319.4,362.3h0M297.1,316.1h0M346.2,318.7h0M288.0,354.2h0M274.7,348.1h0M285.0,310.5h0M331.7,356.5h0M312.6,322.9h0M300.8,299.4h0M287.7,319.8h0M325.3,318.1h0M278.4,321.0h0M305.6,308.6h0M324.1,363.2h0M297.4,314.2h0M320.6,325.4h0M268.4,354.3h0M336.8,318.2h0M328.6,307.5h0M270.1,365.2h0M309.1,342.8h0M277.9,312.1h0M273.6,321.3h0M323.8,370.8h0M341.5,296.5h0M273.7,347.0h0M276.0,332.8h0" stroke="#2e110d" stroke-width="1.5" stroke-linecap="round" fill="none"/>
<path d="M318.3,298.9h0M330.5,372.6h0M307.1,321.2h0M314.8,348.9h0M345.0,324.4h0M342.0,370.7h0M287.4,354.1h0M320.8,295.8h0M339.0,318.8h0M319.4,315.0h0M266.8,378.0h0M283.9,325.1h0M290.2,322.4h0M333.2,350.9h0M341.2,325.4h0M321.1,298.0h0M311.1,358.5h0M336.9,358.9h0M298.9,295.7h0M320.8,307.5h0M328.5,343.3h0M271.3,308.0h0M330.7,339.8h0M348.3,329.4h0M300.1,324.4h0M311.7,317.1h0M328.1,346.0h0M302.4,295.3h0M268.2,306.7h0M317.2,378.2h0M320.4,298.6h0M269.6,321.8h0M289.1,352.3h0M277.3,367.2h0M326.0,356.6h0M312.3,306.0h0M290.7,344.6h0M302.6,311.3h0M296.5,357.5h0M293.5,367.5h0M306.1,321.9h0M336.9,362.9h0M315.8,340.4h0M291.7,373.7h0M291.1,330.6h0M269.6,339.7h0M278.0,319.2h0M302.2,362.8h0M287.6,344.1h0M309.4,300.2h0M343.3,351.8h0M334.8,353.9h0M283.7,354.0h0M293.5,364.8h0M348.7,308.3h0M325.3,358.4h0M335.0,296.7h0M294.2,322.4h0M332.8,300.9h0M292.3,308.6h0M287.2,354.1h0M325.2,373.2h0M310.5,340.7h0M323.5,376.5h0M291.1,341.5h0M267.4,347.7h0M343.3,350.4h0M328.3,295.2h0M312.3,301.9h0M290.3,348.0h0M346.8,300.4h0M300.9,349.8h0M314.8,321.9h0M294.7,368.2h0M276.6,362.0h0M336.5,323.9h0M329.3,353.9h0M342.1,330.4h0M276.9,318.0h0M349.2,333.2h0M267.5,362.7h0M341.7,349.9h0M309.3,341.8h0M286.4,319.4h0M317.0,359.9h0M333.5,360.3h0M340.4,353.7h0M333.3,365.1h0M321.0,305.2h0M289.6,299.5h0M348.4,376.4h0M273.3,297.3h0M296.3,332.7h0M276.0,344.5h0M293.2,308.1h0M348.4,355.2h0M284.5,372.9h0M346.2,327.4h0M292.3,346.1h0M324.3,339.6h0M280.0,294.8h0M318.1,339.6h0M290.7,354.0h0M312.4,294.3h0M286.3,306.3h0M345.2,328.7h0M268.4,335.7h0M330.2,349.3h0M333.9,321.4h0M306.8,306.5h0" stroke="#ddd6dc" stroke-width="1.5" stroke-linecap="round" fill="none" stroke-opacity="0.85"/>
</g></g>
<path d="M13.8,369.8 h26" stroke="#eef" stroke-width="0.9" stroke-opacity="0.85"/>
<path d="M100.8,369.8 h26" stroke="#eef" stroke-width="0.9" stroke-opacity="0.85"/>
<path d="M186.4,369.8 h26" stroke="#eef" stroke-width="0.9" stroke-opacity="0.85"/>
<path d="M272.9,369.8 h26" stroke="#eef" stroke-width="0.9" stroke-opacity="0.85"/>
</g>
</svg></body></html>
